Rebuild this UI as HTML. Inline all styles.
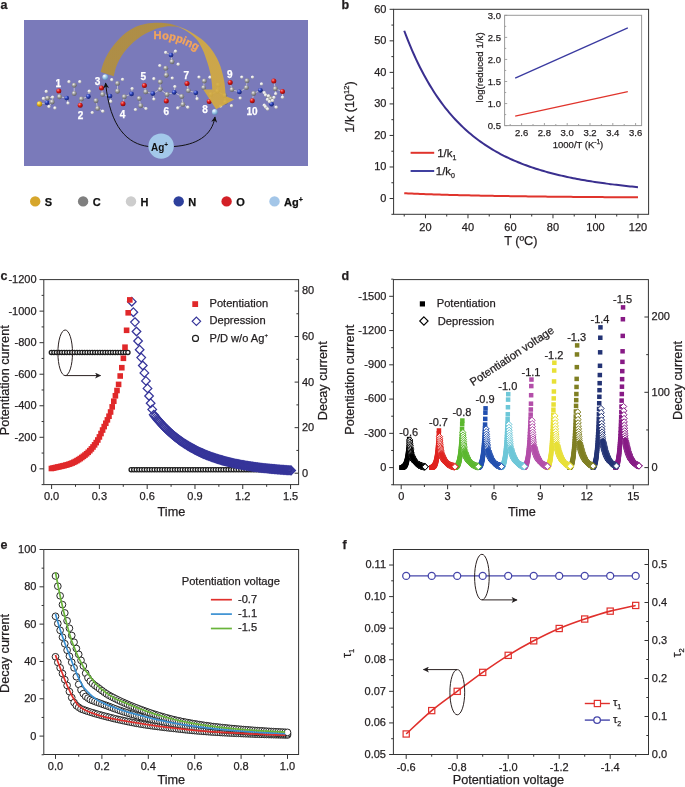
<!DOCTYPE html>
<html><head><meta charset="utf-8"><style>
html,body{margin:0;padding:0;background:#fff;}
svg{display:block;font-family:"Liberation Sans",sans-serif;will-change:transform;}
</style></head><body>
<svg width="685" height="787" viewBox="0 0 685 787">
<rect width="685" height="787" fill="#fff"/>
<text x="0.6" y="8.9" font-size="12.5" text-anchor="start" font-weight="bold" fill="#231f20" stroke="#231f20" stroke-width="0.25">a</text>
<text x="341.4" y="8.9" font-size="12.5" text-anchor="start" font-weight="bold" fill="#231f20" stroke="#231f20" stroke-width="0.25">b</text>
<text x="0.6" y="279.6" font-size="12.5" text-anchor="start" font-weight="bold" fill="#231f20" stroke="#231f20" stroke-width="0.25">c</text>
<text x="341.6" y="279.6" font-size="12.5" text-anchor="start" font-weight="bold" fill="#231f20" stroke="#231f20" stroke-width="0.25">d</text>
<text x="0.6" y="549.3" font-size="12.5" text-anchor="start" font-weight="bold" fill="#231f20" stroke="#231f20" stroke-width="0.25">e</text>
<text x="342.6" y="549.3" font-size="12.5" text-anchor="start" font-weight="bold" fill="#231f20" stroke="#231f20" stroke-width="0.25">f</text>
<defs><radialGradient id="gC" cx="38%" cy="32%" r="72%"><stop offset="0" stop-color="#f4f4f4"/><stop offset="0.4" stop-color="#a4a4a4"/><stop offset="1" stop-color="#5a5a5a"/></radialGradient><radialGradient id="gH" cx="35%" cy="30%" r="75%"><stop offset="0" stop-color="#ffffff"/><stop offset="0.5" stop-color="#e0e0e0"/><stop offset="1" stop-color="#9a9a9a"/></radialGradient><radialGradient id="gN" cx="35%" cy="30%" r="75%"><stop offset="0" stop-color="#8fa0ff"/><stop offset="0.45" stop-color="#2a3fb0"/><stop offset="1" stop-color="#14206a"/></radialGradient><radialGradient id="gO" cx="35%" cy="30%" r="75%"><stop offset="0" stop-color="#ff9090"/><stop offset="0.45" stop-color="#d81818"/><stop offset="1" stop-color="#800808"/></radialGradient><radialGradient id="gS" cx="35%" cy="30%" r="75%"><stop offset="0" stop-color="#fff2a0"/><stop offset="0.45" stop-color="#e8b820"/><stop offset="1" stop-color="#9a7008"/></radialGradient><radialGradient id="gA" cx="35%" cy="30%" r="75%"><stop offset="0" stop-color="#ffffff"/><stop offset="0.45" stop-color="#a8d0ee"/><stop offset="1" stop-color="#5a8ab8"/></radialGradient><linearGradient id="gArrow" x1="100" y1="0" x2="235" y2="0" gradientUnits="userSpaceOnUse"><stop offset="0" stop-color="#b4903a"/><stop offset="0.56" stop-color="#b4903a"/><stop offset="0.6" stop-color="#d5ab3e"/><stop offset="1" stop-color="#d5ab3e"/></linearGradient><marker id="ah" viewBox="0 0 10 10" refX="9" refY="5" markerWidth="6" markerHeight="6" orient="auto-start-reverse" markerUnits="userSpaceOnUse"><path d="M0 0L10 5L0 10L3 5Z" fill="#111"/></marker><marker id="ah2" viewBox="0 0 10 10" refX="9" refY="5" markerWidth="7" markerHeight="6" orient="auto" markerUnits="userSpaceOnUse"><path d="M0 0L10 5L0 10L2.5 5Z" fill="#231f20"/></marker></defs>
<rect x="24" y="20" width="284" height="146" fill="#7a7aba"/>
<line x1="39.5" y1="104" x2="47" y2="102.7" stroke="#c4c4cc" stroke-width="0.9"/>
<line x1="47" y1="102.7" x2="47.6" y2="98.1" stroke="#c4c4cc" stroke-width="0.9"/>
<line x1="47" y1="102.7" x2="52.2" y2="102" stroke="#c4c4cc" stroke-width="0.9"/>
<line x1="47" y1="102.7" x2="49" y2="106.6" stroke="#c4c4cc" stroke-width="0.9"/>
<line x1="47" y1="102.7" x2="43.5" y2="98.5" stroke="#c4c4cc" stroke-width="0.9"/>
<line x1="47.6" y1="98.1" x2="52.2" y2="102" stroke="#c4c4cc" stroke-width="0.9"/>
<line x1="47.6" y1="98.1" x2="52.6" y2="97.2" stroke="#c4c4cc" stroke-width="0.9"/>
<line x1="47.6" y1="98.1" x2="43.5" y2="98.5" stroke="#c4c4cc" stroke-width="0.9"/>
<line x1="52.2" y1="102" x2="52.6" y2="97.2" stroke="#c4c4cc" stroke-width="0.9"/>
<line x1="52.2" y1="102" x2="49" y2="106.6" stroke="#c4c4cc" stroke-width="0.9"/>
<line x1="59.5" y1="96.8" x2="58.8" y2="91.1" stroke="#c4c4cc" stroke-width="0.9"/>
<line x1="59.5" y1="96.8" x2="66.7" y2="98.1" stroke="#c4c4cc" stroke-width="0.9"/>
<line x1="66.7" y1="98.1" x2="68" y2="103.1" stroke="#c4c4cc" stroke-width="0.9"/>
<line x1="74.2" y1="93.5" x2="74.2" y2="85.2" stroke="#c4c4cc" stroke-width="0.9"/>
<line x1="81.4" y1="99" x2="80.2" y2="105.3" stroke="#c4c4cc" stroke-width="0.9"/>
<line x1="81.4" y1="99" x2="88.4" y2="96.5" stroke="#c4c4cc" stroke-width="0.9"/>
<line x1="88.4" y1="96.5" x2="89.3" y2="91.3" stroke="#c4c4cc" stroke-width="0.9"/>
<line x1="96" y1="100.7" x2="97.6" y2="108.4" stroke="#c4c4cc" stroke-width="0.9"/>
<line x1="97.6" y1="108.4" x2="102.8" y2="111.2" stroke="#c4c4cc" stroke-width="0.9"/>
<line x1="102.6" y1="94.4" x2="101.5" y2="88" stroke="#c4c4cc" stroke-width="0.9"/>
<line x1="102.6" y1="94.4" x2="110" y2="96.1" stroke="#c4c4cc" stroke-width="0.9"/>
<line x1="110" y1="96.1" x2="110.7" y2="101.4" stroke="#c4c4cc" stroke-width="0.9"/>
<line x1="117.5" y1="83.4" x2="117.5" y2="91.2" stroke="#c4c4cc" stroke-width="0.9"/>
<line x1="124.3" y1="96.8" x2="123" y2="103.7" stroke="#c4c4cc" stroke-width="0.9"/>
<line x1="124.3" y1="96.8" x2="131.5" y2="93.9" stroke="#c4c4cc" stroke-width="0.9"/>
<line x1="131.5" y1="93.9" x2="132.2" y2="88.6" stroke="#c4c4cc" stroke-width="0.9"/>
<line x1="139.2" y1="98.5" x2="140.7" y2="105.7" stroke="#c4c4cc" stroke-width="0.9"/>
<line x1="140.7" y1="105.7" x2="146" y2="108.6" stroke="#c4c4cc" stroke-width="0.9"/>
<line x1="145.7" y1="91.9" x2="144.4" y2="85.6" stroke="#c4c4cc" stroke-width="0.9"/>
<line x1="145.7" y1="91.9" x2="152.8" y2="93.6" stroke="#c4c4cc" stroke-width="0.9"/>
<line x1="152.8" y1="93.6" x2="153.9" y2="99.1" stroke="#c4c4cc" stroke-width="0.9"/>
<line x1="152.8" y1="93.6" x2="160.2" y2="89.3" stroke="#c4c4cc" stroke-width="0.9"/>
<line x1="160.2" y1="89.3" x2="160.2" y2="82" stroke="#c4c4cc" stroke-width="0.9"/>
<line x1="160.2" y1="89.3" x2="167" y2="94.5" stroke="#c4c4cc" stroke-width="0.9"/>
<line x1="166.3" y1="75.2" x2="165.7" y2="68.2" stroke="#c4c4cc" stroke-width="0.9"/>
<line x1="172" y1="61.7" x2="171" y2="55.1" stroke="#c4c4cc" stroke-width="0.9"/>
<line x1="171" y1="55.1" x2="165.7" y2="52.5" stroke="#c4c4cc" stroke-width="0.9"/>
<line x1="171" y1="55.1" x2="175.5" y2="51.2" stroke="#c4c4cc" stroke-width="0.9"/>
<line x1="167" y1="94.5" x2="166.3" y2="101.1" stroke="#c4c4cc" stroke-width="0.9"/>
<line x1="167" y1="94.5" x2="174.2" y2="92.3" stroke="#c4c4cc" stroke-width="0.9"/>
<line x1="174.2" y1="92.3" x2="174.9" y2="86.6" stroke="#c4c4cc" stroke-width="0.9"/>
<line x1="174.2" y1="92.3" x2="181.7" y2="96.5" stroke="#c4c4cc" stroke-width="0.9"/>
<line x1="181.7" y1="96.5" x2="182.8" y2="104.4" stroke="#c4c4cc" stroke-width="0.9"/>
<line x1="182.8" y1="104.4" x2="177.8" y2="108" stroke="#c4c4cc" stroke-width="0.9"/>
<line x1="182.8" y1="104.4" x2="187.8" y2="107.3" stroke="#c4c4cc" stroke-width="0.9"/>
<line x1="188.3" y1="90.6" x2="187" y2="83.6" stroke="#c4c4cc" stroke-width="0.9"/>
<line x1="188.3" y1="90.6" x2="195.8" y2="92.8" stroke="#c4c4cc" stroke-width="0.9"/>
<line x1="195.8" y1="92.8" x2="197.1" y2="98.8" stroke="#c4c4cc" stroke-width="0.9"/>
<line x1="203.6" y1="87.6" x2="204.3" y2="81" stroke="#c4c4cc" stroke-width="0.9"/>
<line x1="209.2" y1="101.4" x2="210.9" y2="94.4" stroke="#c4c4cc" stroke-width="0.9"/>
<line x1="210.9" y1="94.4" x2="217.4" y2="91.3" stroke="#c4c4cc" stroke-width="0.9"/>
<line x1="217.4" y1="91.3" x2="218.1" y2="85" stroke="#c4c4cc" stroke-width="0.9"/>
<line x1="217.4" y1="91.3" x2="224.7" y2="95.5" stroke="#c4c4cc" stroke-width="0.9"/>
<line x1="224.7" y1="95.5" x2="225.3" y2="102.3" stroke="#c4c4cc" stroke-width="0.9"/>
<line x1="225.3" y1="102.3" x2="220.7" y2="106.2" stroke="#c4c4cc" stroke-width="0.9"/>
<line x1="231.9" y1="89.6" x2="230.2" y2="82.6" stroke="#c4c4cc" stroke-width="0.9"/>
<line x1="231.9" y1="89.6" x2="239.4" y2="91.9" stroke="#c4c4cc" stroke-width="0.9"/>
<line x1="239.4" y1="91.9" x2="246.4" y2="87.6" stroke="#c4c4cc" stroke-width="0.9"/>
<line x1="246.4" y1="87.6" x2="247" y2="80.8" stroke="#c4c4cc" stroke-width="0.9"/>
<line x1="253.6" y1="93.5" x2="252.3" y2="100.7" stroke="#c4c4cc" stroke-width="0.9"/>
<line x1="253.6" y1="93.5" x2="260.4" y2="90.3" stroke="#c4c4cc" stroke-width="0.9"/>
<line x1="260.4" y1="90.3" x2="264.3" y2="92.8" stroke="#c4c4cc" stroke-width="0.9"/>
<line x1="264.3" y1="92.8" x2="268.8" y2="96.7" stroke="#c4c4cc" stroke-width="0.9"/>
<line x1="265.6" y1="95" x2="268.8" y2="96.7" stroke="#c4c4cc" stroke-width="0.9"/>
<line x1="268.8" y1="96.7" x2="270.8" y2="98.7" stroke="#c4c4cc" stroke-width="0.9"/>
<line x1="268.8" y1="96.7" x2="271.6" y2="104.2" stroke="#c4c4cc" stroke-width="0.9"/>
<line x1="268.8" y1="96.7" x2="267.5" y2="99.5" stroke="#c4c4cc" stroke-width="0.9"/>
<line x1="268.8" y1="96.7" x2="269.5" y2="101.5" stroke="#c4c4cc" stroke-width="0.9"/>
<line x1="268.8" y1="96.7" x2="272.5" y2="100.5" stroke="#c4c4cc" stroke-width="0.9"/>
<line x1="268.8" y1="96.7" x2="268.5" y2="96" stroke="#c4c4cc" stroke-width="0.9"/>
<line x1="268.8" y1="96.7" x2="274" y2="97.5" stroke="#c4c4cc" stroke-width="0.9"/>
<line x1="270.8" y1="98.7" x2="271.6" y2="104.2" stroke="#c4c4cc" stroke-width="0.9"/>
<line x1="270.8" y1="98.7" x2="267.5" y2="99.5" stroke="#c4c4cc" stroke-width="0.9"/>
<line x1="270.8" y1="98.7" x2="269.5" y2="101.5" stroke="#c4c4cc" stroke-width="0.9"/>
<line x1="270.8" y1="98.7" x2="272.5" y2="100.5" stroke="#c4c4cc" stroke-width="0.9"/>
<line x1="270.8" y1="98.7" x2="268.5" y2="96" stroke="#c4c4cc" stroke-width="0.9"/>
<line x1="270.8" y1="98.7" x2="274" y2="97.5" stroke="#c4c4cc" stroke-width="0.9"/>
<line x1="271.6" y1="104.2" x2="276.2" y2="107.2" stroke="#c4c4cc" stroke-width="0.9"/>
<line x1="271.6" y1="104.2" x2="269.5" y2="101.5" stroke="#c4c4cc" stroke-width="0.9"/>
<line x1="271.6" y1="104.2" x2="272.5" y2="100.5" stroke="#c4c4cc" stroke-width="0.9"/>
<line x1="275.3" y1="88.8" x2="273.8" y2="81.1" stroke="#c4c4cc" stroke-width="0.9"/>
<line x1="275.3" y1="88.8" x2="282.5" y2="91.6" stroke="#c4c4cc" stroke-width="0.9"/>
<line x1="275.3" y1="88.8" x2="275.7" y2="93.8" stroke="#c4c4cc" stroke-width="0.9"/>
<line x1="282.5" y1="91.6" x2="282.5" y2="97.2" stroke="#c4c4cc" stroke-width="0.9"/>
<circle cx="39.5" cy="104" r="2.7" fill="url(#gS)"/>
<circle cx="47" cy="102.7" r="2.4" fill="url(#gN)"/>
<circle cx="47.6" cy="98.1" r="2.45" fill="url(#gC)"/>
<circle cx="52.2" cy="102" r="2.45" fill="url(#gC)"/>
<circle cx="46.3" cy="91.5" r="1.7" fill="url(#gH)"/>
<circle cx="52.6" cy="97.2" r="1.7" fill="url(#gH)"/>
<circle cx="49" cy="106.6" r="1.7" fill="url(#gH)"/>
<circle cx="54.9" cy="108" r="1.7" fill="url(#gH)"/>
<circle cx="43.5" cy="98.5" r="1.7" fill="url(#gH)"/>
<circle cx="59.5" cy="96.8" r="2.45" fill="url(#gC)"/>
<circle cx="58.8" cy="91.1" r="2.5" fill="url(#gO)"/>
<circle cx="66.7" cy="98.1" r="2.4" fill="url(#gN)"/>
<circle cx="68" cy="103.1" r="1.7" fill="url(#gH)"/>
<circle cx="74.2" cy="93.5" r="2.45" fill="url(#gC)"/>
<circle cx="74.2" cy="85.2" r="2.45" fill="url(#gC)"/>
<circle cx="69" cy="81.7" r="1.7" fill="url(#gH)"/>
<circle cx="79.8" cy="81.7" r="1.7" fill="url(#gH)"/>
<circle cx="81.4" cy="99" r="2.45" fill="url(#gC)"/>
<circle cx="80.2" cy="105.3" r="2.5" fill="url(#gO)"/>
<circle cx="88.4" cy="96.5" r="2.4" fill="url(#gN)"/>
<circle cx="89.3" cy="91.3" r="1.7" fill="url(#gH)"/>
<circle cx="96" cy="100.7" r="2.45" fill="url(#gC)"/>
<circle cx="97.6" cy="108.4" r="2.45" fill="url(#gC)"/>
<circle cx="92.3" cy="112.6" r="1.7" fill="url(#gH)"/>
<circle cx="102.8" cy="111.2" r="1.7" fill="url(#gH)"/>
<circle cx="102.6" cy="94.4" r="2.45" fill="url(#gC)"/>
<circle cx="101.5" cy="88" r="2.5" fill="url(#gO)"/>
<circle cx="110" cy="96.1" r="2.4" fill="url(#gN)"/>
<circle cx="110.7" cy="101.4" r="1.7" fill="url(#gH)"/>
<circle cx="111.8" cy="79.7" r="1.7" fill="url(#gH)"/>
<circle cx="122.6" cy="79.4" r="1.7" fill="url(#gH)"/>
<circle cx="117.5" cy="83.4" r="2.45" fill="url(#gC)"/>
<circle cx="117.5" cy="91.2" r="2.45" fill="url(#gC)"/>
<circle cx="124.3" cy="96.8" r="2.45" fill="url(#gC)"/>
<circle cx="123" cy="103.7" r="2.5" fill="url(#gO)"/>
<circle cx="131.5" cy="93.9" r="2.4" fill="url(#gN)"/>
<circle cx="132.2" cy="88.6" r="1.7" fill="url(#gH)"/>
<circle cx="139.2" cy="98.5" r="2.45" fill="url(#gC)"/>
<circle cx="140.7" cy="105.7" r="2.45" fill="url(#gC)"/>
<circle cx="135.5" cy="109.6" r="1.7" fill="url(#gH)"/>
<circle cx="146" cy="108.6" r="1.7" fill="url(#gH)"/>
<circle cx="145.7" cy="91.9" r="2.45" fill="url(#gC)"/>
<circle cx="144.4" cy="85.6" r="2.5" fill="url(#gO)"/>
<circle cx="152.8" cy="93.6" r="2.4" fill="url(#gN)"/>
<circle cx="153.9" cy="99.1" r="1.7" fill="url(#gH)"/>
<circle cx="160.2" cy="89.3" r="2.45" fill="url(#gC)"/>
<circle cx="160.2" cy="82" r="2.45" fill="url(#gC)"/>
<circle cx="153.9" cy="78.8" r="1.7" fill="url(#gH)"/>
<circle cx="172.3" cy="78.1" r="1.7" fill="url(#gH)"/>
<circle cx="166.3" cy="75.2" r="2.45" fill="url(#gC)"/>
<circle cx="165.7" cy="68.2" r="2.45" fill="url(#gC)"/>
<circle cx="159.8" cy="65.6" r="1.7" fill="url(#gH)"/>
<circle cx="172" cy="61.7" r="2.45" fill="url(#gC)"/>
<circle cx="178.2" cy="64.3" r="1.7" fill="url(#gH)"/>
<circle cx="171" cy="55.1" r="2.4" fill="url(#gN)"/>
<circle cx="165.7" cy="52.5" r="1.7" fill="url(#gH)"/>
<circle cx="175.5" cy="51.2" r="1.7" fill="url(#gH)"/>
<circle cx="167" cy="94.5" r="2.45" fill="url(#gC)"/>
<circle cx="166.3" cy="101.1" r="2.5" fill="url(#gO)"/>
<circle cx="174.2" cy="92.3" r="2.4" fill="url(#gN)"/>
<circle cx="174.9" cy="86.6" r="1.7" fill="url(#gH)"/>
<circle cx="181.7" cy="96.5" r="2.45" fill="url(#gC)"/>
<circle cx="182.8" cy="104.4" r="2.45" fill="url(#gC)"/>
<circle cx="177.8" cy="108" r="1.7" fill="url(#gH)"/>
<circle cx="187.8" cy="107.3" r="1.7" fill="url(#gH)"/>
<circle cx="188.3" cy="90.6" r="2.45" fill="url(#gC)"/>
<circle cx="187" cy="83.6" r="2.5" fill="url(#gO)"/>
<circle cx="195.8" cy="92.8" r="2.4" fill="url(#gN)"/>
<circle cx="197.1" cy="98.8" r="1.7" fill="url(#gH)"/>
<circle cx="203.6" cy="87.6" r="2.45" fill="url(#gC)"/>
<circle cx="204.3" cy="81" r="2.45" fill="url(#gC)"/>
<circle cx="199" cy="77.1" r="1.7" fill="url(#gH)"/>
<circle cx="210" cy="77.3" r="1.7" fill="url(#gH)"/>
<circle cx="209.2" cy="101.4" r="2.5" fill="url(#gO)"/>
<circle cx="210.9" cy="94.4" r="2.45" fill="url(#gC)"/>
<circle cx="217.4" cy="91.3" r="2.45" fill="url(#gC)"/>
<circle cx="218.1" cy="85" r="2.45" fill="url(#gC)"/>
<circle cx="224.7" cy="95.5" r="2.45" fill="url(#gC)"/>
<circle cx="225.3" cy="102.3" r="2.45" fill="url(#gC)"/>
<circle cx="231.5" cy="105.7" r="1.7" fill="url(#gH)"/>
<circle cx="220.7" cy="106.2" r="1.7" fill="url(#gH)"/>
<circle cx="231.9" cy="89.6" r="2.45" fill="url(#gC)"/>
<circle cx="230.2" cy="82.6" r="2.5" fill="url(#gO)"/>
<circle cx="239.4" cy="91.9" r="2.4" fill="url(#gN)"/>
<circle cx="240.2" cy="98.1" r="1.7" fill="url(#gH)"/>
<circle cx="246.4" cy="87.6" r="2.45" fill="url(#gC)"/>
<circle cx="247" cy="80.8" r="2.45" fill="url(#gC)"/>
<circle cx="241.8" cy="77.1" r="1.7" fill="url(#gH)"/>
<circle cx="252.5" cy="77.1" r="1.7" fill="url(#gH)"/>
<circle cx="253.6" cy="93.5" r="2.45" fill="url(#gC)"/>
<circle cx="252.3" cy="100.7" r="2.5" fill="url(#gO)"/>
<circle cx="260.4" cy="90.3" r="2.4" fill="url(#gN)"/>
<circle cx="261.5" cy="83.9" r="1.7" fill="url(#gH)"/>
<circle cx="264.3" cy="92.8" r="1.7" fill="url(#gH)"/>
<circle cx="265.6" cy="95" r="1.7" fill="url(#gH)"/>
<circle cx="268.8" cy="96.7" r="2.45" fill="url(#gC)"/>
<circle cx="270.8" cy="98.7" r="2.45" fill="url(#gC)"/>
<circle cx="271.6" cy="104.2" r="2.4" fill="url(#gN)"/>
<circle cx="264.3" cy="105.2" r="1.7" fill="url(#gH)"/>
<circle cx="266.3" cy="107.7" r="1.7" fill="url(#gH)"/>
<circle cx="276.2" cy="107.2" r="1.7" fill="url(#gH)"/>
<circle cx="275.3" cy="88.8" r="2.45" fill="url(#gC)"/>
<circle cx="273.8" cy="81.1" r="2.5" fill="url(#gO)"/>
<circle cx="282.5" cy="91.6" r="2.5" fill="url(#gO)"/>
<circle cx="282.5" cy="97.2" r="1.7" fill="url(#gH)"/>
<circle cx="275.7" cy="93.8" r="1.7" fill="url(#gH)"/>
<circle cx="267.5" cy="99.5" r="1.7" fill="url(#gH)"/>
<circle cx="269.5" cy="101.5" r="1.7" fill="url(#gH)"/>
<circle cx="272.5" cy="100.5" r="1.7" fill="url(#gH)"/>
<circle cx="268.5" cy="96" r="1.7" fill="url(#gH)"/>
<circle cx="274" cy="97.5" r="1.7" fill="url(#gH)"/>
<circle cx="265.5" cy="106.8" r="1.7" fill="url(#gH)"/>
<circle cx="267.6" cy="109" r="1.7" fill="url(#gH)"/>
<circle cx="105.2" cy="77.1" r="2.9" fill="url(#gA)"/>
<circle cx="214.8" cy="111.9" r="2.9" fill="url(#gA)"/>
<path d="M100.7 71.9C101.22 70.25 102.57 65.1 103.8 62C105.03 58.9 106.5 56.07 108.1 53.3C109.7 50.53 111.5 47.88 113.4 45.4C115.3 42.92 117.32 40.58 119.5 38.4C121.68 36.22 124.02 34.13 126.5 32.3C128.98 30.47 131.62 28.72 134.4 27.4C137.18 26.08 139.77 25.17 143.2 24.4C146.63 23.63 151.57 23.03 155 22.8C158.43 22.57 160.88 22.72 163.8 23C166.72 23.28 168.87 23.47 172.5 24.5C176.13 25.53 181.95 27.58 185.6 29.2C189.25 30.82 191.47 32.3 194.4 34.2C197.33 36.1 200.35 38.05 203.2 40.6C206.05 43.15 209.2 46.55 211.5 49.5C213.8 52.45 215.5 55.47 217 58.3C218.5 61.13 219.53 63.75 220.5 66.5C221.47 69.25 222.13 72.05 222.8 74.8C223.47 77.55 224 79.43 224.5 83C225 86.57 225.58 94 225.8 96.2L234.2 99.4L216.1 109.3L203.3 89.4L212.3 89.6C212.22 88.5 212.08 85.47 211.8 83C211.52 80.53 211.13 77.55 210.6 74.8C210.07 72.05 209.38 69.25 208.6 66.5C207.82 63.75 206.83 60.97 205.9 58.3C204.97 55.63 204.4 53.47 203 50.5C201.6 47.53 199.67 43.32 197.5 40.5C195.33 37.68 192.7 35.63 190 33.6C187.3 31.57 183.8 29.47 181.3 28.3C178.8 27.13 177.22 26.95 175 26.6C172.78 26.25 170.33 26.03 168 26.2C165.67 26.37 163.17 27.08 161 27.6C158.83 28.12 157.68 28.23 155 29.3C152.32 30.37 147.9 32.33 144.9 34C141.9 35.67 139.48 37.4 137 39.3C134.52 41.2 132.18 43.22 130 45.4C127.82 47.58 125.65 50.07 123.9 52.4C122.15 54.73 120.82 56.92 119.5 59.4C118.18 61.88 116.95 64.48 116 67.3C115.05 70.12 114.17 74.8 113.8 76.3Z" fill="url(#gArrow)" opacity="0.9"/>
<path id="hopPath" d="M153.6 39.2 Q177 37.6 200.6 53.6" fill="none"/>
<text font-size="11.2" font-weight="bold" fill="#f3a45c" stroke="#f3a45c" stroke-width="0.3"><textPath href="#hopPath">Hopping</textPath></text>
<text x="58.4" y="86.6" font-size="10" text-anchor="middle" font-weight="bold" fill="#ffffff" stroke="#ffffff" stroke-width="0.25">1</text>
<text x="80.5" y="119.4" font-size="10" text-anchor="middle" font-weight="bold" fill="#ffffff" stroke="#ffffff" stroke-width="0.25">2</text>
<text x="97.6" y="84.6" font-size="10" text-anchor="middle" font-weight="bold" fill="#ffffff" stroke="#ffffff" stroke-width="0.25">3</text>
<text x="122.6" y="117.8" font-size="10" text-anchor="middle" font-weight="bold" fill="#ffffff" stroke="#ffffff" stroke-width="0.25">4</text>
<text x="143.4" y="80.4" font-size="10" text-anchor="middle" font-weight="bold" fill="#ffffff" stroke="#ffffff" stroke-width="0.25">5</text>
<text x="166.3" y="115.2" font-size="10" text-anchor="middle" font-weight="bold" fill="#ffffff" stroke="#ffffff" stroke-width="0.25">6</text>
<text x="186.3" y="79.1" font-size="10" text-anchor="middle" font-weight="bold" fill="#ffffff" stroke="#ffffff" stroke-width="0.25">7</text>
<text x="205" y="112.9" font-size="10" text-anchor="middle" font-weight="bold" fill="#ffffff" stroke="#ffffff" stroke-width="0.25">8</text>
<text x="229.7" y="78.1" font-size="10" text-anchor="middle" font-weight="bold" fill="#ffffff" stroke="#ffffff" stroke-width="0.25">9</text>
<text x="252" y="114.8" font-size="10" text-anchor="middle" font-weight="bold" fill="#ffffff" stroke="#ffffff" stroke-width="0.25">10</text>
<path d="M148.5 146.5 C128 144 110 128 105.6 83" fill="none" stroke="#111" stroke-width="1" marker-end="url(#ah)"/>
<path d="M174 146.5 C196 145 212 136 215 117" fill="none" stroke="#111" stroke-width="1" marker-end="url(#ah)"/>
<circle cx="161.1" cy="146.1" r="12.7" fill="#a3c8ea"/>
<text x="159.6" y="150.9" font-size="10" font-weight="bold" text-anchor="middle" fill="#111">Ag<tspan font-size="6.5" dy="-4">+</tspan></text>
<circle cx="35.2" cy="201.4" r="5.2" fill="#d6a62c"/>
<text x="44.8" y="205.5" font-size="11" text-anchor="start" font-weight="bold" fill="#111" stroke="#111" stroke-width="0.25">S</text>
<circle cx="83.1" cy="201.4" r="5.2" fill="#7f7f7f"/>
<text x="92.7" y="205.5" font-size="11" text-anchor="start" font-weight="bold" fill="#111" stroke="#111" stroke-width="0.25">C</text>
<circle cx="131" cy="201.4" r="5.2" fill="#cdcdcd"/>
<text x="140.6" y="205.5" font-size="11" text-anchor="start" font-weight="bold" fill="#111" stroke="#111" stroke-width="0.25">H</text>
<circle cx="178.7" cy="201.4" r="5.2" fill="#2e409c"/>
<text x="188.3" y="205.5" font-size="11" text-anchor="start" font-weight="bold" fill="#111" stroke="#111" stroke-width="0.25">N</text>
<circle cx="226.6" cy="201.4" r="5.2" fill="#d32027"/>
<text x="236.2" y="205.5" font-size="11" text-anchor="start" font-weight="bold" fill="#111" stroke="#111" stroke-width="0.25">O</text>
<circle cx="274.5" cy="201.4" r="5.2" fill="#a3c6e8"/>
<text x="284.1" y="205.5" font-size="11" text-anchor="start" font-weight="bold" fill="#111" stroke="#111" stroke-width="0.25">Ag<tspan font-size="7" dy="-4">+</tspan></text>
<polyline points="404.23,30.75 406.19,35.92 408.15,40.9 410.12,45.69 412.08,50.31 414.05,54.77 416.01,59.06 417.98,63.2 419.94,67.19 421.9,71.03 423.87,74.75 425.83,78.33 427.8,81.78 429.76,85.12 431.73,88.34 433.69,91.45 435.65,94.45 437.62,97.36 439.58,100.16 441.55,102.87 443.51,105.49 445.48,108.02 447.44,110.47 449.4,112.84 451.37,115.13 453.33,117.34 455.3,119.49 457.26,121.56 459.23,123.57 461.19,125.52 463.15,127.4 465.12,129.22 467.08,130.99 469.05,132.7 471.01,134.36 472.98,135.97 474.94,137.53 476.9,139.04 478.87,140.5 480.83,141.92 482.8,143.3 484.76,144.64 486.73,145.93 488.69,147.19 490.65,148.41 492.62,149.6 494.58,150.75 496.55,151.87 498.51,152.95 500.48,154.01 502.44,155.03 504.4,156.03 506.37,156.99 508.33,157.93 510.3,158.85 512.26,159.74 514.23,160.6 516.19,161.44 518.15,162.26 520.12,163.05 522.08,163.82 524.05,164.57 526.01,165.31 527.98,166.02 529.94,166.71 531.9,167.39 533.87,168.04 535.83,168.68 537.8,169.31 539.76,169.91 541.73,170.5 543.69,171.08 545.65,171.64 547.62,172.19 549.58,172.72 551.55,173.24 553.51,173.74 555.48,174.24 557.44,174.72 559.4,175.19 561.37,175.65 563.33,176.09 565.3,176.53 567.26,176.95 569.23,177.37 571.19,177.77 573.15,178.17 575.12,178.55 577.08,178.93 579.05,179.29 581.01,179.65 582.98,180 584.94,180.34 586.9,180.68 588.87,181 590.83,181.32 592.8,181.63 594.76,181.94 596.73,182.24 598.69,182.53 600.65,182.81 602.62,183.09 604.58,183.36 606.55,183.62 608.51,183.88 610.48,184.14 612.44,184.38 614.4,184.63 616.37,184.86 618.33,185.1 620.3,185.32 622.26,185.55 624.23,185.76 626.19,185.98 628.15,186.18 630.12,186.39 632.08,186.59 634.05,186.78 636.01,186.97 637.98,187.16" fill="none" stroke="#3a2f8f" stroke-width="2" stroke-linejoin="round" stroke-linecap="butt"/>
<polyline points="404.23,193.23 406.19,193.32 408.15,193.41 410.12,193.5 412.08,193.58 414.05,193.67 416.01,193.75 417.98,193.83 419.94,193.9 421.9,193.98 423.87,194.05 425.83,194.13 427.8,194.2 429.76,194.27 431.73,194.33 433.69,194.4 435.65,194.46 437.62,194.53 439.58,194.59 441.55,194.65 443.51,194.71 445.48,194.77 447.44,194.82 449.4,194.88 451.37,194.93 453.33,194.99 455.3,195.04 457.26,195.09 459.23,195.14 461.19,195.19 463.15,195.24 465.12,195.28 467.08,195.33 469.05,195.37 471.01,195.42 472.98,195.46 474.94,195.5 476.9,195.55 478.87,195.59 480.83,195.63 482.8,195.67 484.76,195.71 486.73,195.74 488.69,195.78 490.65,195.82 492.62,195.85 494.58,195.89 496.55,195.92 498.51,195.96 500.48,195.99 502.44,196.02 504.4,196.05 506.37,196.08 508.33,196.12 510.3,196.15 512.26,196.18 514.23,196.2 516.19,196.23 518.15,196.26 520.12,196.29 522.08,196.32 524.05,196.34 526.01,196.37 527.98,196.4 529.94,196.42 531.9,196.45 533.87,196.47 535.83,196.49 537.8,196.52 539.76,196.54 541.73,196.56 543.69,196.59 545.65,196.61 547.62,196.63 549.58,196.65 551.55,196.67 553.51,196.69 555.48,196.71 557.44,196.73 559.4,196.75 561.37,196.77 563.33,196.79 565.3,196.81 567.26,196.83 569.23,196.85 571.19,196.86 573.15,196.88 575.12,196.9 577.08,196.92 579.05,196.93 581.01,196.95 582.98,196.97 584.94,196.98 586.9,197 588.87,197.01 590.83,197.03 592.8,197.04 594.76,197.06 596.73,197.07 598.69,197.09 600.65,197.1 602.62,197.12 604.58,197.13 606.55,197.14 608.51,197.16 610.48,197.17 612.44,197.18 614.4,197.2 616.37,197.21 618.33,197.22 620.3,197.23 622.26,197.25 624.23,197.26 626.19,197.27 628.15,197.28 630.12,197.29 632.08,197.3 634.05,197.32 636.01,197.33 637.98,197.34" fill="none" stroke="#e0342c" stroke-width="2" stroke-linejoin="round" stroke-linecap="butt"/>
<rect x="393.6" y="9.3" width="255" height="205" fill="none" stroke="#333333" stroke-width="1"/>
<line x1="389.6" y1="198.53" x2="393.6" y2="198.53" stroke="#333333" stroke-width="1"/>
<text x="386.4" y="201.93" font-size="11" text-anchor="end" fill="#231f20" stroke="#231f20" stroke-width="0.25">0</text>
<line x1="389.6" y1="166.99" x2="393.6" y2="166.99" stroke="#333333" stroke-width="1"/>
<text x="386.4" y="170.39" font-size="11" text-anchor="end" fill="#231f20" stroke="#231f20" stroke-width="0.25">10</text>
<line x1="389.6" y1="135.45" x2="393.6" y2="135.45" stroke="#333333" stroke-width="1"/>
<text x="386.4" y="138.85" font-size="11" text-anchor="end" fill="#231f20" stroke="#231f20" stroke-width="0.25">20</text>
<line x1="389.6" y1="103.92" x2="393.6" y2="103.92" stroke="#333333" stroke-width="1"/>
<text x="386.4" y="107.32" font-size="11" text-anchor="end" fill="#231f20" stroke="#231f20" stroke-width="0.25">30</text>
<line x1="389.6" y1="72.38" x2="393.6" y2="72.38" stroke="#333333" stroke-width="1"/>
<text x="386.4" y="75.78" font-size="11" text-anchor="end" fill="#231f20" stroke="#231f20" stroke-width="0.25">40</text>
<line x1="389.6" y1="40.84" x2="393.6" y2="40.84" stroke="#333333" stroke-width="1"/>
<text x="386.4" y="44.24" font-size="11" text-anchor="end" fill="#231f20" stroke="#231f20" stroke-width="0.25">50</text>
<line x1="389.6" y1="9.3" x2="393.6" y2="9.3" stroke="#333333" stroke-width="1"/>
<text x="386.4" y="12.7" font-size="11" text-anchor="end" fill="#231f20" stroke="#231f20" stroke-width="0.25">60</text>
<line x1="391.4" y1="214.3" x2="393.6" y2="214.3" stroke="#333333" stroke-width="1"/>
<line x1="391.4" y1="182.76" x2="393.6" y2="182.76" stroke="#333333" stroke-width="1"/>
<line x1="391.4" y1="151.22" x2="393.6" y2="151.22" stroke="#333333" stroke-width="1"/>
<line x1="391.4" y1="119.68" x2="393.6" y2="119.68" stroke="#333333" stroke-width="1"/>
<line x1="391.4" y1="88.15" x2="393.6" y2="88.15" stroke="#333333" stroke-width="1"/>
<line x1="391.4" y1="56.61" x2="393.6" y2="56.61" stroke="#333333" stroke-width="1"/>
<line x1="391.4" y1="25.07" x2="393.6" y2="25.07" stroke="#333333" stroke-width="1"/>
<line x1="425.48" y1="214.3" x2="425.48" y2="218.3" stroke="#333333" stroke-width="1"/>
<text x="425.48" y="231.2" font-size="11" text-anchor="middle" fill="#231f20" stroke="#231f20" stroke-width="0.25">20</text>
<line x1="467.98" y1="214.3" x2="467.98" y2="218.3" stroke="#333333" stroke-width="1"/>
<text x="467.98" y="231.2" font-size="11" text-anchor="middle" fill="#231f20" stroke="#231f20" stroke-width="0.25">40</text>
<line x1="510.48" y1="214.3" x2="510.48" y2="218.3" stroke="#333333" stroke-width="1"/>
<text x="510.48" y="231.2" font-size="11" text-anchor="middle" fill="#231f20" stroke="#231f20" stroke-width="0.25">60</text>
<line x1="552.98" y1="214.3" x2="552.98" y2="218.3" stroke="#333333" stroke-width="1"/>
<text x="552.98" y="231.2" font-size="11" text-anchor="middle" fill="#231f20" stroke="#231f20" stroke-width="0.25">80</text>
<line x1="595.48" y1="214.3" x2="595.48" y2="218.3" stroke="#333333" stroke-width="1"/>
<text x="595.48" y="231.2" font-size="11" text-anchor="middle" fill="#231f20" stroke="#231f20" stroke-width="0.25">100</text>
<line x1="637.98" y1="214.3" x2="637.98" y2="218.3" stroke="#333333" stroke-width="1"/>
<text x="637.98" y="231.2" font-size="11" text-anchor="middle" fill="#231f20" stroke="#231f20" stroke-width="0.25">120</text>
<line x1="404.23" y1="214.3" x2="404.23" y2="216.5" stroke="#333333" stroke-width="1"/>
<line x1="446.73" y1="214.3" x2="446.73" y2="216.5" stroke="#333333" stroke-width="1"/>
<line x1="489.23" y1="214.3" x2="489.23" y2="216.5" stroke="#333333" stroke-width="1"/>
<line x1="531.73" y1="214.3" x2="531.73" y2="216.5" stroke="#333333" stroke-width="1"/>
<line x1="574.23" y1="214.3" x2="574.23" y2="216.5" stroke="#333333" stroke-width="1"/>
<line x1="616.73" y1="214.3" x2="616.73" y2="216.5" stroke="#333333" stroke-width="1"/>
<text transform="translate(353.6,107) rotate(-90)" x="0" y="0" font-size="12.7" text-anchor="middle" fill="#231f20" stroke="#231f20" stroke-width="0.25">1/k (10<tspan font-size="7.5" dy="-4.5">12</tspan><tspan dy="4.5">)</tspan></text>
<text x="520.8" y="245.3" font-size="12.7" text-anchor="middle" fill="#231f20" stroke="#231f20" stroke-width="0.25">T (ºC)</text>
<line x1="410.6" y1="152.8" x2="434.2" y2="152.8" stroke="#e0342c" stroke-width="2"/>
<line x1="410.6" y1="171" x2="434.2" y2="171" stroke="#4040a0" stroke-width="2"/>
<text x="437.2" y="156.7" font-size="11.4" text-anchor="start" fill="#231f20" stroke="#231f20" stroke-width="0.25">1/k<tspan font-size="7" dy="3.2">1</tspan></text>
<text x="435.8" y="174.8" font-size="11.4" text-anchor="start" fill="#231f20" stroke="#231f20" stroke-width="0.25">1/k<tspan font-size="7" dy="3.2">0</tspan></text>
<rect x="504.6" y="15.3" width="137" height="110.3" fill="#fff" stroke="#9a9a9a" stroke-width="1"/>
<line x1="515.17" y1="78.19" x2="627.81" y2="27.87" stroke="#3a3aa0" stroke-width="1.3"/>
<line x1="515.17" y1="116.07" x2="627.81" y2="91.73" stroke="#e0342c" stroke-width="1.3"/>
<line x1="510.2" y1="125.6" x2="510.2" y2="124" stroke="#9a9a9a" stroke-width="0.9"/>
<line x1="521.6" y1="125.6" x2="521.6" y2="123" stroke="#9a9a9a" stroke-width="0.9"/>
<text x="521.6" y="135.9" font-size="9.5" text-anchor="middle" fill="#231f20" stroke="#231f20" stroke-width="0.25">2.6</text>
<line x1="533" y1="125.6" x2="533" y2="124" stroke="#9a9a9a" stroke-width="0.9"/>
<line x1="544.4" y1="125.6" x2="544.4" y2="123" stroke="#9a9a9a" stroke-width="0.9"/>
<text x="544.4" y="135.9" font-size="9.5" text-anchor="middle" fill="#231f20" stroke="#231f20" stroke-width="0.25">2.8</text>
<line x1="555.8" y1="125.6" x2="555.8" y2="124" stroke="#9a9a9a" stroke-width="0.9"/>
<line x1="567.2" y1="125.6" x2="567.2" y2="123" stroke="#9a9a9a" stroke-width="0.9"/>
<text x="567.2" y="135.9" font-size="9.5" text-anchor="middle" fill="#231f20" stroke="#231f20" stroke-width="0.25">3.0</text>
<line x1="578.6" y1="125.6" x2="578.6" y2="124" stroke="#9a9a9a" stroke-width="0.9"/>
<line x1="590" y1="125.6" x2="590" y2="123" stroke="#9a9a9a" stroke-width="0.9"/>
<text x="590" y="135.9" font-size="9.5" text-anchor="middle" fill="#231f20" stroke="#231f20" stroke-width="0.25">3.2</text>
<line x1="601.4" y1="125.6" x2="601.4" y2="124" stroke="#9a9a9a" stroke-width="0.9"/>
<line x1="612.8" y1="125.6" x2="612.8" y2="123" stroke="#9a9a9a" stroke-width="0.9"/>
<text x="612.8" y="135.9" font-size="9.5" text-anchor="middle" fill="#231f20" stroke="#231f20" stroke-width="0.25">3.4</text>
<line x1="624.2" y1="125.6" x2="624.2" y2="124" stroke="#9a9a9a" stroke-width="0.9"/>
<line x1="635.6" y1="125.6" x2="635.6" y2="123" stroke="#9a9a9a" stroke-width="0.9"/>
<text x="635.6" y="135.9" font-size="9.5" text-anchor="middle" fill="#231f20" stroke="#231f20" stroke-width="0.25">3.6</text>
<line x1="504.6" y1="125.6" x2="507.2" y2="125.6" stroke="#9a9a9a" stroke-width="0.9"/>
<text x="501" y="129" font-size="9.5" text-anchor="end" fill="#231f20" stroke="#231f20" stroke-width="0.25">0.5</text>
<line x1="504.6" y1="114.57" x2="506.2" y2="114.57" stroke="#9a9a9a" stroke-width="0.9"/>
<line x1="504.6" y1="103.55" x2="507.2" y2="103.55" stroke="#9a9a9a" stroke-width="0.9"/>
<text x="501" y="106.95" font-size="9.5" text-anchor="end" fill="#231f20" stroke="#231f20" stroke-width="0.25">1.0</text>
<line x1="504.6" y1="92.52" x2="506.2" y2="92.52" stroke="#9a9a9a" stroke-width="0.9"/>
<line x1="504.6" y1="81.5" x2="507.2" y2="81.5" stroke="#9a9a9a" stroke-width="0.9"/>
<text x="501" y="84.9" font-size="9.5" text-anchor="end" fill="#231f20" stroke="#231f20" stroke-width="0.25">1.5</text>
<line x1="504.6" y1="70.47" x2="506.2" y2="70.47" stroke="#9a9a9a" stroke-width="0.9"/>
<line x1="504.6" y1="59.45" x2="507.2" y2="59.45" stroke="#9a9a9a" stroke-width="0.9"/>
<text x="501" y="62.85" font-size="9.5" text-anchor="end" fill="#231f20" stroke="#231f20" stroke-width="0.25">2.0</text>
<line x1="504.6" y1="48.42" x2="506.2" y2="48.42" stroke="#9a9a9a" stroke-width="0.9"/>
<line x1="504.6" y1="37.4" x2="507.2" y2="37.4" stroke="#9a9a9a" stroke-width="0.9"/>
<text x="501" y="40.8" font-size="9.5" text-anchor="end" fill="#231f20" stroke="#231f20" stroke-width="0.25">2.5</text>
<line x1="504.6" y1="26.37" x2="506.2" y2="26.37" stroke="#9a9a9a" stroke-width="0.9"/>
<line x1="504.6" y1="15.35" x2="507.2" y2="15.35" stroke="#9a9a9a" stroke-width="0.9"/>
<text x="501" y="18.75" font-size="9.5" text-anchor="end" fill="#231f20" stroke="#231f20" stroke-width="0.25">3.0</text>
<text x="578" y="147.6" font-size="9.5" text-anchor="middle" fill="#231f20" stroke="#231f20" stroke-width="0.25">1000/T (K<tspan font-size="6.5" dy="-3.5">-1</tspan><tspan dy="3.5">)</tspan></text>
<text transform="translate(483.1,67.4) rotate(-90)" font-size="9.7" text-anchor="middle" fill="#231f20" stroke="#231f20" stroke-width="0.25">log(reduced 1/k)</text>
<g fill="#fff" stroke="#1e1e1e" stroke-width="1.35">
<circle cx="51.4" cy="352.4" r="2.1"/>
<circle cx="53.95" cy="352.4" r="2.1"/>
<circle cx="56.5" cy="352.4" r="2.1"/>
<circle cx="59.05" cy="352.4" r="2.1"/>
<circle cx="61.6" cy="352.4" r="2.1"/>
<circle cx="64.15" cy="352.4" r="2.1"/>
<circle cx="66.7" cy="352.4" r="2.1"/>
<circle cx="69.25" cy="352.4" r="2.1"/>
<circle cx="71.8" cy="352.4" r="2.1"/>
<circle cx="74.35" cy="352.4" r="2.1"/>
<circle cx="76.9" cy="352.4" r="2.1"/>
<circle cx="79.45" cy="352.4" r="2.1"/>
<circle cx="82" cy="352.4" r="2.1"/>
<circle cx="84.55" cy="352.4" r="2.1"/>
<circle cx="87.1" cy="352.4" r="2.1"/>
<circle cx="89.65" cy="352.4" r="2.1"/>
<circle cx="92.2" cy="352.4" r="2.1"/>
<circle cx="94.75" cy="352.4" r="2.1"/>
<circle cx="97.3" cy="352.4" r="2.1"/>
<circle cx="99.85" cy="352.4" r="2.1"/>
<circle cx="102.4" cy="352.4" r="2.1"/>
<circle cx="104.95" cy="352.4" r="2.1"/>
<circle cx="107.5" cy="352.4" r="2.1"/>
<circle cx="110.05" cy="352.4" r="2.1"/>
<circle cx="112.6" cy="352.4" r="2.1"/>
<circle cx="115.15" cy="352.4" r="2.1"/>
<circle cx="117.7" cy="352.4" r="2.1"/>
<circle cx="120.25" cy="352.4" r="2.1"/>
<circle cx="122.8" cy="352.4" r="2.1"/>
<circle cx="125.35" cy="352.4" r="2.1"/>
<circle cx="127.9" cy="352.4" r="2.1"/>
<circle cx="131.2" cy="469.8" r="2.1"/>
<circle cx="133.75" cy="469.8" r="2.1"/>
<circle cx="136.3" cy="469.8" r="2.1"/>
<circle cx="138.85" cy="469.8" r="2.1"/>
<circle cx="141.4" cy="469.8" r="2.1"/>
<circle cx="143.95" cy="469.8" r="2.1"/>
<circle cx="146.5" cy="469.8" r="2.1"/>
<circle cx="149.05" cy="469.8" r="2.1"/>
<circle cx="151.6" cy="469.8" r="2.1"/>
<circle cx="154.15" cy="469.8" r="2.1"/>
<circle cx="156.7" cy="469.8" r="2.1"/>
<circle cx="159.25" cy="469.8" r="2.1"/>
<circle cx="161.8" cy="469.8" r="2.1"/>
<circle cx="164.35" cy="469.8" r="2.1"/>
<circle cx="166.9" cy="469.8" r="2.1"/>
<circle cx="169.45" cy="469.8" r="2.1"/>
<circle cx="172" cy="469.8" r="2.1"/>
<circle cx="174.55" cy="469.8" r="2.1"/>
<circle cx="177.1" cy="469.8" r="2.1"/>
<circle cx="179.65" cy="469.8" r="2.1"/>
<circle cx="182.2" cy="469.8" r="2.1"/>
<circle cx="184.75" cy="469.8" r="2.1"/>
<circle cx="187.3" cy="469.8" r="2.1"/>
<circle cx="189.85" cy="469.8" r="2.1"/>
<circle cx="192.4" cy="469.8" r="2.1"/>
<circle cx="194.95" cy="469.8" r="2.1"/>
<circle cx="197.5" cy="469.8" r="2.1"/>
<circle cx="200.05" cy="469.8" r="2.1"/>
<circle cx="202.6" cy="469.8" r="2.1"/>
<circle cx="205.15" cy="469.8" r="2.1"/>
<circle cx="207.7" cy="469.8" r="2.1"/>
<circle cx="210.25" cy="469.8" r="2.1"/>
<circle cx="212.8" cy="469.8" r="2.1"/>
<circle cx="215.35" cy="469.8" r="2.1"/>
<circle cx="217.9" cy="469.8" r="2.1"/>
<circle cx="220.45" cy="469.8" r="2.1"/>
<circle cx="223" cy="469.8" r="2.1"/>
<circle cx="225.55" cy="469.8" r="2.1"/>
<circle cx="228.1" cy="469.8" r="2.1"/>
<circle cx="230.65" cy="469.8" r="2.1"/>
<circle cx="233.2" cy="469.8" r="2.1"/>
<circle cx="235.75" cy="469.8" r="2.1"/>
<circle cx="238.3" cy="469.8" r="2.1"/>
<circle cx="240.85" cy="469.8" r="2.1"/>
<circle cx="243.4" cy="469.8" r="2.1"/>
<circle cx="245.95" cy="469.8" r="2.1"/>
<circle cx="248.5" cy="469.8" r="2.1"/>
<circle cx="251.05" cy="469.8" r="2.1"/>
<circle cx="253.6" cy="469.8" r="2.1"/>
<circle cx="256.15" cy="469.8" r="2.1"/>
<circle cx="258.7" cy="469.8" r="2.1"/>
<circle cx="261.25" cy="469.8" r="2.1"/>
<circle cx="263.8" cy="469.8" r="2.1"/>
<circle cx="266.35" cy="469.8" r="2.1"/>
<circle cx="268.9" cy="469.8" r="2.1"/>
<circle cx="271.45" cy="469.8" r="2.1"/>
<circle cx="274" cy="469.8" r="2.1"/>
<circle cx="276.55" cy="469.8" r="2.1"/>
<circle cx="279.1" cy="469.8" r="2.1"/>
<circle cx="281.65" cy="469.8" r="2.1"/>
<circle cx="284.2" cy="469.8" r="2.1"/>
<circle cx="286.75" cy="469.8" r="2.1"/>
<circle cx="289.3" cy="469.8" r="2.1"/>
</g>
<defs><path id="dm43" d="M0 -4.3L4.3 0L0 4.3L-4.3 0Z"/><path id="dm44" d="M0 -4.4L4.4 0L0 4.4L-4.4 0Z"/></defs>
<g fill="none" stroke="#36359a" stroke-width="1.25">
<use href="#dm43" x="131.8" y="301.7"/>
<use href="#dm43" x="133.37" y="312.2"/>
<use href="#dm43" x="134.94" y="322.1"/>
<use href="#dm43" x="136.51" y="331.5"/>
<use href="#dm43" x="138.08" y="341"/>
<use href="#dm43" x="139.65" y="349.7"/>
<use href="#dm43" x="141.22" y="357.6"/>
<use href="#dm43" x="142.79" y="365.5"/>
<use href="#dm43" x="144.36" y="372.9"/>
<use href="#dm43" x="145.93" y="380.9"/>
<use href="#dm43" x="147.5" y="388.4"/>
<use href="#dm43" x="149.07" y="396"/>
<use href="#dm43" x="150.64" y="403.2"/>
<use href="#dm43" x="152.21" y="409.4"/>
<use href="#dm44" x="153.78" y="414.86"/>
<use href="#dm44" x="154.82" y="416.18"/>
<use href="#dm44" x="155.86" y="417.48"/>
<use href="#dm44" x="156.9" y="418.75"/>
<use href="#dm44" x="157.94" y="419.98"/>
<use href="#dm44" x="158.98" y="421.19"/>
<use href="#dm44" x="160.02" y="422.37"/>
<use href="#dm44" x="161.06" y="423.53"/>
<use href="#dm44" x="162.1" y="424.66"/>
<use href="#dm44" x="163.14" y="425.76"/>
<use href="#dm44" x="164.18" y="426.84"/>
<use href="#dm44" x="165.22" y="427.89"/>
<use href="#dm44" x="166.26" y="428.92"/>
<use href="#dm44" x="167.3" y="429.93"/>
<use href="#dm44" x="168.34" y="430.91"/>
<use href="#dm44" x="169.38" y="431.87"/>
<use href="#dm44" x="170.42" y="432.81"/>
<use href="#dm44" x="171.46" y="433.73"/>
<use href="#dm44" x="172.5" y="434.63"/>
<use href="#dm44" x="173.54" y="435.5"/>
<use href="#dm44" x="174.58" y="436.36"/>
<use href="#dm44" x="175.62" y="437.2"/>
<use href="#dm44" x="176.66" y="438.02"/>
<use href="#dm44" x="177.7" y="438.82"/>
<use href="#dm44" x="178.74" y="439.6"/>
<use href="#dm44" x="179.78" y="440.36"/>
<use href="#dm44" x="180.82" y="441.11"/>
<use href="#dm44" x="181.86" y="441.84"/>
<use href="#dm44" x="182.9" y="442.55"/>
<use href="#dm44" x="183.94" y="443.25"/>
<use href="#dm44" x="184.98" y="443.93"/>
<use href="#dm44" x="186.02" y="444.59"/>
<use href="#dm44" x="187.06" y="445.24"/>
<use href="#dm44" x="188.1" y="445.88"/>
<use href="#dm44" x="189.14" y="446.5"/>
<use href="#dm44" x="190.18" y="447.1"/>
<use href="#dm44" x="191.22" y="447.7"/>
<use href="#dm44" x="192.26" y="448.28"/>
<use href="#dm44" x="193.3" y="448.84"/>
<use href="#dm44" x="194.34" y="449.4"/>
<use href="#dm44" x="195.38" y="449.94"/>
<use href="#dm44" x="196.42" y="450.47"/>
<use href="#dm44" x="197.46" y="450.98"/>
<use href="#dm44" x="198.5" y="451.49"/>
<use href="#dm44" x="199.54" y="451.98"/>
<use href="#dm44" x="200.58" y="452.46"/>
<use href="#dm44" x="201.62" y="452.94"/>
<use href="#dm44" x="202.66" y="453.4"/>
<use href="#dm44" x="203.7" y="453.85"/>
<use href="#dm44" x="204.74" y="454.29"/>
<use href="#dm44" x="205.78" y="454.72"/>
<use href="#dm44" x="206.82" y="455.14"/>
<use href="#dm44" x="207.86" y="455.55"/>
<use href="#dm44" x="208.9" y="455.95"/>
<use href="#dm44" x="209.94" y="456.34"/>
<use href="#dm44" x="210.98" y="456.72"/>
<use href="#dm44" x="212.02" y="457.1"/>
<use href="#dm44" x="213.06" y="457.46"/>
<use href="#dm44" x="214.1" y="457.82"/>
<use href="#dm44" x="215.14" y="458.17"/>
<use href="#dm44" x="216.18" y="458.51"/>
<use href="#dm44" x="217.22" y="458.85"/>
<use href="#dm44" x="218.26" y="459.17"/>
<use href="#dm44" x="219.3" y="459.49"/>
<use href="#dm44" x="220.34" y="459.8"/>
<use href="#dm44" x="221.38" y="460.11"/>
<use href="#dm44" x="222.42" y="460.4"/>
<use href="#dm44" x="223.46" y="460.69"/>
<use href="#dm44" x="224.5" y="460.98"/>
<use href="#dm44" x="225.54" y="461.26"/>
<use href="#dm44" x="226.58" y="461.53"/>
<use href="#dm44" x="227.62" y="461.79"/>
<use href="#dm44" x="228.66" y="462.05"/>
<use href="#dm44" x="229.7" y="462.31"/>
<use href="#dm44" x="230.74" y="462.55"/>
<use href="#dm44" x="231.78" y="462.8"/>
<use href="#dm44" x="232.82" y="463.03"/>
<use href="#dm44" x="233.86" y="463.26"/>
<use href="#dm44" x="234.9" y="463.49"/>
<use href="#dm44" x="235.94" y="463.71"/>
<use href="#dm44" x="236.98" y="463.93"/>
<use href="#dm44" x="238.02" y="464.14"/>
<use href="#dm44" x="239.06" y="464.34"/>
<use href="#dm44" x="240.1" y="464.54"/>
<use href="#dm44" x="241.14" y="464.74"/>
<use href="#dm44" x="242.18" y="464.93"/>
<use href="#dm44" x="243.22" y="465.12"/>
<use href="#dm44" x="244.26" y="465.3"/>
<use href="#dm44" x="245.3" y="465.48"/>
<use href="#dm44" x="246.34" y="465.66"/>
<use href="#dm44" x="247.38" y="465.83"/>
<use href="#dm44" x="248.42" y="466"/>
<use href="#dm44" x="249.46" y="466.16"/>
<use href="#dm44" x="250.5" y="466.32"/>
<use href="#dm44" x="251.54" y="466.48"/>
<use href="#dm44" x="252.58" y="466.63"/>
<use href="#dm44" x="253.62" y="466.78"/>
<use href="#dm44" x="254.66" y="466.93"/>
<use href="#dm44" x="255.7" y="467.07"/>
<use href="#dm44" x="256.74" y="467.21"/>
<use href="#dm44" x="257.78" y="467.34"/>
<use href="#dm44" x="258.82" y="467.48"/>
<use href="#dm44" x="259.86" y="467.61"/>
<use href="#dm44" x="260.9" y="467.73"/>
<use href="#dm44" x="261.94" y="467.86"/>
<use href="#dm44" x="262.98" y="467.98"/>
<use href="#dm44" x="264.02" y="468.1"/>
<use href="#dm44" x="265.06" y="468.21"/>
<use href="#dm44" x="266.1" y="468.33"/>
<use href="#dm44" x="267.14" y="468.44"/>
<use href="#dm44" x="268.18" y="468.55"/>
<use href="#dm44" x="269.22" y="468.65"/>
<use href="#dm44" x="270.26" y="468.76"/>
<use href="#dm44" x="271.3" y="468.86"/>
<use href="#dm44" x="272.34" y="468.96"/>
<use href="#dm44" x="273.38" y="469.05"/>
<use href="#dm44" x="274.42" y="469.15"/>
<use href="#dm44" x="275.46" y="469.24"/>
<use href="#dm44" x="276.5" y="469.33"/>
<use href="#dm44" x="277.54" y="469.42"/>
<use href="#dm44" x="278.58" y="469.5"/>
<use href="#dm44" x="279.62" y="469.59"/>
<use href="#dm44" x="280.66" y="469.67"/>
<use href="#dm44" x="281.7" y="469.75"/>
<use href="#dm44" x="282.74" y="469.83"/>
<use href="#dm44" x="283.78" y="469.9"/>
<use href="#dm44" x="284.82" y="469.98"/>
<use href="#dm44" x="285.86" y="470.05"/>
<use href="#dm44" x="286.9" y="470.12"/>
<use href="#dm44" x="287.94" y="470.19"/>
<use href="#dm44" x="288.98" y="470.26"/>
<use href="#dm44" x="290.02" y="470.33"/>
<use href="#dm44" x="291.06" y="470.39"/>
</g>
<rect x="48.6" y="465.7" width="5.6" height="5.6" fill="#e0282a" stroke="none" stroke-width="0"/>
<rect x="50.2" y="465.31" width="5.6" height="5.6" fill="#e0282a" stroke="none" stroke-width="0"/>
<rect x="51.8" y="464.94" width="5.6" height="5.6" fill="#e0282a" stroke="none" stroke-width="0"/>
<rect x="53.4" y="464.59" width="5.6" height="5.6" fill="#e0282a" stroke="none" stroke-width="0"/>
<rect x="55" y="464.25" width="5.6" height="5.6" fill="#e0282a" stroke="none" stroke-width="0"/>
<rect x="56.6" y="463.9" width="5.6" height="5.6" fill="#e0282a" stroke="none" stroke-width="0"/>
<rect x="58.2" y="463.55" width="5.6" height="5.6" fill="#e0282a" stroke="none" stroke-width="0"/>
<rect x="59.8" y="463.18" width="5.6" height="5.6" fill="#e0282a" stroke="none" stroke-width="0"/>
<rect x="61.4" y="462.79" width="5.6" height="5.6" fill="#e0282a" stroke="none" stroke-width="0"/>
<rect x="63" y="462.37" width="5.6" height="5.6" fill="#e0282a" stroke="none" stroke-width="0"/>
<rect x="64.6" y="461.92" width="5.6" height="5.6" fill="#e0282a" stroke="none" stroke-width="0"/>
<rect x="66.2" y="461.42" width="5.6" height="5.6" fill="#e0282a" stroke="none" stroke-width="0"/>
<rect x="67.8" y="460.86" width="5.6" height="5.6" fill="#e0282a" stroke="none" stroke-width="0"/>
<rect x="69.4" y="460.23" width="5.6" height="5.6" fill="#e0282a" stroke="none" stroke-width="0"/>
<rect x="71" y="459.51" width="5.6" height="5.6" fill="#e0282a" stroke="none" stroke-width="0"/>
<rect x="72.6" y="458.7" width="5.6" height="5.6" fill="#e0282a" stroke="none" stroke-width="0"/>
<rect x="74.2" y="457.8" width="5.6" height="5.6" fill="#e0282a" stroke="none" stroke-width="0"/>
<rect x="75.8" y="456.83" width="5.6" height="5.6" fill="#e0282a" stroke="none" stroke-width="0"/>
<rect x="77.4" y="455.79" width="5.6" height="5.6" fill="#e0282a" stroke="none" stroke-width="0"/>
<rect x="79" y="454.67" width="5.6" height="5.6" fill="#e0282a" stroke="none" stroke-width="0"/>
<rect x="80.6" y="453.5" width="5.6" height="5.6" fill="#e0282a" stroke="none" stroke-width="0"/>
<rect x="82.2" y="452.26" width="5.6" height="5.6" fill="#e0282a" stroke="none" stroke-width="0"/>
<rect x="83.8" y="450.95" width="5.6" height="5.6" fill="#e0282a" stroke="none" stroke-width="0"/>
<rect x="85.4" y="449.49" width="5.6" height="5.6" fill="#e0282a" stroke="none" stroke-width="0"/>
<rect x="87" y="447.88" width="5.6" height="5.6" fill="#e0282a" stroke="none" stroke-width="0"/>
<rect x="88.6" y="446.1" width="5.6" height="5.6" fill="#e0282a" stroke="none" stroke-width="0"/>
<rect x="90.2" y="444.16" width="5.6" height="5.6" fill="#e0282a" stroke="none" stroke-width="0"/>
<rect x="91.8" y="442.06" width="5.6" height="5.6" fill="#e0282a" stroke="none" stroke-width="0"/>
<rect x="93.4" y="439.79" width="5.6" height="5.6" fill="#e0282a" stroke="none" stroke-width="0"/>
<rect x="95" y="437.2" width="5.6" height="5.6" fill="#e0282a" stroke="none" stroke-width="0"/>
<rect x="96.6" y="434.12" width="5.6" height="5.6" fill="#e0282a" stroke="none" stroke-width="0"/>
<rect x="98.2" y="430.74" width="5.6" height="5.6" fill="#e0282a" stroke="none" stroke-width="0"/>
<rect x="99.8" y="427.23" width="5.6" height="5.6" fill="#e0282a" stroke="none" stroke-width="0"/>
<rect x="101.4" y="423.78" width="5.6" height="5.6" fill="#e0282a" stroke="none" stroke-width="0"/>
<rect x="103" y="420.46" width="5.6" height="5.6" fill="#e0282a" stroke="none" stroke-width="0"/>
<rect x="104.6" y="417.08" width="5.6" height="5.6" fill="#e0282a" stroke="none" stroke-width="0"/>
<rect x="106.2" y="413.41" width="5.6" height="5.6" fill="#e0282a" stroke="none" stroke-width="0"/>
<rect x="107.8" y="409.19" width="5.6" height="5.6" fill="#e0282a" stroke="none" stroke-width="0"/>
<rect x="109.4" y="404.06" width="5.6" height="5.6" fill="#e0282a" stroke="none" stroke-width="0"/>
<rect x="111" y="398.44" width="5.6" height="5.6" fill="#e0282a" stroke="none" stroke-width="0"/>
<rect x="112.6" y="392.97" width="5.6" height="5.6" fill="#e0282a" stroke="none" stroke-width="0"/>
<rect x="114.2" y="387.71" width="5.6" height="5.6" fill="#e0282a" stroke="none" stroke-width="0"/>
<rect x="115.8" y="381.6" width="5.6" height="5.6" fill="#e0282a" stroke="none" stroke-width="0"/>
<rect x="117.4" y="373.2" width="5.6" height="5.6" fill="#e0282a" stroke="none" stroke-width="0"/>
<rect x="119" y="364.9" width="5.6" height="5.6" fill="#e0282a" stroke="none" stroke-width="0"/>
<rect x="120.6" y="355.5" width="5.6" height="5.6" fill="#e0282a" stroke="none" stroke-width="0"/>
<rect x="122.2" y="344.4" width="5.6" height="5.6" fill="#e0282a" stroke="none" stroke-width="0"/>
<rect x="123.8" y="327.5" width="5.6" height="5.6" fill="#e0282a" stroke="none" stroke-width="0"/>
<rect x="125.4" y="310" width="5.6" height="5.6" fill="#e0282a" stroke="none" stroke-width="0"/>
<rect x="127" y="297.1" width="5.6" height="5.6" fill="#e0282a" stroke="none" stroke-width="0"/>
<rect x="43.8" y="279.6" width="254.8" height="205" fill="none" stroke="#333333" stroke-width="1"/>
<line x1="39.5" y1="279.6" x2="43.8" y2="279.6" stroke="#333333" stroke-width="1"/>
<text x="36.6" y="283" font-size="11" text-anchor="end" fill="#231f20" stroke="#231f20" stroke-width="0.25">-1200</text>
<line x1="39.5" y1="311.14" x2="43.8" y2="311.14" stroke="#333333" stroke-width="1"/>
<text x="36.6" y="314.54" font-size="11" text-anchor="end" fill="#231f20" stroke="#231f20" stroke-width="0.25">-1000</text>
<line x1="39.5" y1="342.68" x2="43.8" y2="342.68" stroke="#333333" stroke-width="1"/>
<text x="36.6" y="346.08" font-size="11" text-anchor="end" fill="#231f20" stroke="#231f20" stroke-width="0.25">-800</text>
<line x1="39.5" y1="374.22" x2="43.8" y2="374.22" stroke="#333333" stroke-width="1"/>
<text x="36.6" y="377.62" font-size="11" text-anchor="end" fill="#231f20" stroke="#231f20" stroke-width="0.25">-600</text>
<line x1="39.5" y1="405.75" x2="43.8" y2="405.75" stroke="#333333" stroke-width="1"/>
<text x="36.6" y="409.15" font-size="11" text-anchor="end" fill="#231f20" stroke="#231f20" stroke-width="0.25">-400</text>
<line x1="39.5" y1="437.29" x2="43.8" y2="437.29" stroke="#333333" stroke-width="1"/>
<text x="36.6" y="440.69" font-size="11" text-anchor="end" fill="#231f20" stroke="#231f20" stroke-width="0.25">-200</text>
<line x1="39.5" y1="468.83" x2="43.8" y2="468.83" stroke="#333333" stroke-width="1"/>
<text x="36.6" y="472.23" font-size="11" text-anchor="end" fill="#231f20" stroke="#231f20" stroke-width="0.25">0</text>
<line x1="41.6" y1="295.37" x2="43.8" y2="295.37" stroke="#333333" stroke-width="1"/>
<line x1="41.6" y1="326.91" x2="43.8" y2="326.91" stroke="#333333" stroke-width="1"/>
<line x1="41.6" y1="358.45" x2="43.8" y2="358.45" stroke="#333333" stroke-width="1"/>
<line x1="41.6" y1="389.98" x2="43.8" y2="389.98" stroke="#333333" stroke-width="1"/>
<line x1="41.6" y1="421.52" x2="43.8" y2="421.52" stroke="#333333" stroke-width="1"/>
<line x1="41.6" y1="453.06" x2="43.8" y2="453.06" stroke="#333333" stroke-width="1"/>
<line x1="41.6" y1="484.6" x2="43.8" y2="484.6" stroke="#333333" stroke-width="1"/>
<line x1="294.6" y1="473.21" x2="298.6" y2="473.21" stroke="#333333" stroke-width="1"/>
<text x="302" y="476.61" font-size="11" text-anchor="start" fill="#231f20" stroke="#231f20" stroke-width="0.25">0</text>
<line x1="294.6" y1="427.66" x2="298.6" y2="427.66" stroke="#333333" stroke-width="1"/>
<text x="302" y="431.06" font-size="11" text-anchor="start" fill="#231f20" stroke="#231f20" stroke-width="0.25">20</text>
<line x1="294.6" y1="382.1" x2="298.6" y2="382.1" stroke="#333333" stroke-width="1"/>
<text x="302" y="385.5" font-size="11" text-anchor="start" fill="#231f20" stroke="#231f20" stroke-width="0.25">40</text>
<line x1="294.6" y1="336.54" x2="298.6" y2="336.54" stroke="#333333" stroke-width="1"/>
<text x="302" y="339.94" font-size="11" text-anchor="start" fill="#231f20" stroke="#231f20" stroke-width="0.25">60</text>
<line x1="294.6" y1="290.99" x2="298.6" y2="290.99" stroke="#333333" stroke-width="1"/>
<text x="302" y="294.39" font-size="11" text-anchor="start" fill="#231f20" stroke="#231f20" stroke-width="0.25">80</text>
<line x1="296.4" y1="450.43" x2="298.6" y2="450.43" stroke="#333333" stroke-width="1"/>
<line x1="296.4" y1="404.88" x2="298.6" y2="404.88" stroke="#333333" stroke-width="1"/>
<line x1="296.4" y1="359.32" x2="298.6" y2="359.32" stroke="#333333" stroke-width="1"/>
<line x1="296.4" y1="313.77" x2="298.6" y2="313.77" stroke="#333333" stroke-width="1"/>
<line x1="51.6" y1="484.6" x2="51.6" y2="489" stroke="#333333" stroke-width="1"/>
<text x="51.6" y="500.2" font-size="11" text-anchor="middle" fill="#231f20" stroke="#231f20" stroke-width="0.25">0.0</text>
<line x1="99.39" y1="484.6" x2="99.39" y2="489" stroke="#333333" stroke-width="1"/>
<text x="99.39" y="500.2" font-size="11" text-anchor="middle" fill="#231f20" stroke="#231f20" stroke-width="0.25">0.3</text>
<line x1="147.18" y1="484.6" x2="147.18" y2="489" stroke="#333333" stroke-width="1"/>
<text x="147.18" y="500.2" font-size="11" text-anchor="middle" fill="#231f20" stroke="#231f20" stroke-width="0.25">0.6</text>
<line x1="194.97" y1="484.6" x2="194.97" y2="489" stroke="#333333" stroke-width="1"/>
<text x="194.97" y="500.2" font-size="11" text-anchor="middle" fill="#231f20" stroke="#231f20" stroke-width="0.25">0.9</text>
<line x1="242.76" y1="484.6" x2="242.76" y2="489" stroke="#333333" stroke-width="1"/>
<text x="242.76" y="500.2" font-size="11" text-anchor="middle" fill="#231f20" stroke="#231f20" stroke-width="0.25">1.2</text>
<line x1="290.55" y1="484.6" x2="290.55" y2="489" stroke="#333333" stroke-width="1"/>
<text x="290.55" y="500.2" font-size="11" text-anchor="middle" fill="#231f20" stroke="#231f20" stroke-width="0.25">1.5</text>
<line x1="75.5" y1="484.6" x2="75.5" y2="486.8" stroke="#333333" stroke-width="1"/>
<line x1="123.28" y1="484.6" x2="123.28" y2="486.8" stroke="#333333" stroke-width="1"/>
<line x1="171.08" y1="484.6" x2="171.08" y2="486.8" stroke="#333333" stroke-width="1"/>
<line x1="218.86" y1="484.6" x2="218.86" y2="486.8" stroke="#333333" stroke-width="1"/>
<line x1="266.66" y1="484.6" x2="266.66" y2="486.8" stroke="#333333" stroke-width="1"/>
<text transform="translate(9.2,380.3) rotate(-90)" x="0" y="0" font-size="12.7" text-anchor="middle" fill="#231f20" stroke="#231f20" stroke-width="0.25">Potentiation current</text>
<text transform="translate(326.8,380.8) rotate(-90)" x="0" y="0" font-size="12.7" text-anchor="middle" fill="#231f20" stroke="#231f20" stroke-width="0.25">Decay current</text>
<text x="171.4" y="515.6" font-size="12.7" text-anchor="middle" fill="#231f20" stroke="#231f20" stroke-width="0.25">Time</text>
<rect x="192.3" y="301.2" width="5.8" height="5.8" fill="#e0282a" stroke="none" stroke-width="0"/>
<text x="209.5" y="307.2" font-size="11.1" text-anchor="start" fill="#231f20" stroke="#231f20" stroke-width="0.25">Potentiation</text>
<path d="M196.4 317.1L200.6 321.3L196.4 325.5L192.2 321.3Z" fill="#fff" stroke="#36359a" stroke-width="1.2"/>
<text x="209.5" y="324.4" font-size="11.1" text-anchor="start" fill="#231f20" stroke="#231f20" stroke-width="0.25">Depression</text>
<circle cx="195.5" cy="338.4" r="3" fill="#fff" stroke="#222" stroke-width="1.2"/>
<text x="209.5" y="341.5" font-size="11.1" text-anchor="start" fill="#231f20" stroke="#231f20" stroke-width="0.25">P/D w/o Ag<tspan font-size="6" dy="-4.5">+</tspan></text>
<ellipse cx="65.2" cy="352.8" rx="7.3" ry="22.8" fill="none" stroke="#2a2020" stroke-width="1"/>
<path d="M65.2 375.6 L100.5 375.6" fill="none" stroke="#2a2020" stroke-width="1" marker-end="url(#ah2)"/>
<defs><path id="dm3" d="M0 -3.15L3.15 0L0 3.15L-3.15 0Z"/></defs>
<g fill="#000000">
<rect x="399.31" y="465.35" width="4.5" height="4.5"/>
<rect x="399.47" y="465.32" width="4.5" height="4.5"/>
<rect x="399.62" y="465.29" width="4.5" height="4.5"/>
<rect x="399.78" y="465.25" width="4.5" height="4.5"/>
<rect x="399.93" y="465.21" width="4.5" height="4.5"/>
<rect x="400.09" y="465.16" width="4.5" height="4.5"/>
<rect x="400.24" y="465.12" width="4.5" height="4.5"/>
<rect x="400.4" y="465.06" width="4.5" height="4.5"/>
<rect x="400.55" y="465" width="4.5" height="4.5"/>
<rect x="400.71" y="464.94" width="4.5" height="4.5"/>
<rect x="400.86" y="464.87" width="4.5" height="4.5"/>
<rect x="401.02" y="464.79" width="4.5" height="4.5"/>
<rect x="401.17" y="464.71" width="4.5" height="4.5"/>
<rect x="401.33" y="464.62" width="4.5" height="4.5"/>
<rect x="401.48" y="464.52" width="4.5" height="4.5"/>
<rect x="401.64" y="464.41" width="4.5" height="4.5"/>
<rect x="401.79" y="464.29" width="4.5" height="4.5"/>
<rect x="401.94" y="464.16" width="4.5" height="4.5"/>
<rect x="402.1" y="464.01" width="4.5" height="4.5"/>
<rect x="402.25" y="463.86" width="4.5" height="4.5"/>
<rect x="402.41" y="463.68" width="4.5" height="4.5"/>
<rect x="402.56" y="463.49" width="4.5" height="4.5"/>
<rect x="402.72" y="463.29" width="4.5" height="4.5"/>
<rect x="402.87" y="463.06" width="4.5" height="4.5"/>
<rect x="403.03" y="462.81" width="4.5" height="4.5"/>
<rect x="403.18" y="462.54" width="4.5" height="4.5"/>
<rect x="403.34" y="462.24" width="4.5" height="4.5"/>
<rect x="403.49" y="461.91" width="4.5" height="4.5"/>
<rect x="403.65" y="461.55" width="4.5" height="4.5"/>
<rect x="403.8" y="461.16" width="4.5" height="4.5"/>
<rect x="403.96" y="460.73" width="4.5" height="4.5"/>
<rect x="404.11" y="460.26" width="4.5" height="4.5"/>
<rect x="404.27" y="459.75" width="4.5" height="4.5"/>
<rect x="404.42" y="459.18" width="4.5" height="4.5"/>
<rect x="404.57" y="458.57" width="4.5" height="4.5"/>
<rect x="404.73" y="457.89" width="4.5" height="4.5"/>
<rect x="404.88" y="457.15" width="4.5" height="4.5"/>
<rect x="405.04" y="456.34" width="4.5" height="4.5"/>
<rect x="405.19" y="455.45" width="4.5" height="4.5"/>
<rect x="405.35" y="454.48" width="4.5" height="4.5"/>
<rect x="405.5" y="453.41" width="4.5" height="4.5"/>
<rect x="405.66" y="452.25" width="4.5" height="4.5"/>
<rect x="405.81" y="450.93" width="4.5" height="4.5"/>
<rect x="405.97" y="449.59" width="4.5" height="4.5"/>
<rect x="406.12" y="448.16" width="4.5" height="4.5"/>
<rect x="406.28" y="446.51" width="4.5" height="4.5"/>
<rect x="406.43" y="444.62" width="4.5" height="4.5"/>
<rect x="406.59" y="441.88" width="4.5" height="4.5"/>
<rect x="406.74" y="438.91" width="4.5" height="4.5"/>
<rect x="406.9" y="436.8" width="4.5" height="4.5"/>
</g>
<g fill="#e0231f">
<rect x="429.12" y="465.35" width="4.5" height="4.5"/>
<rect x="429.27" y="465.31" width="4.5" height="4.5"/>
<rect x="429.42" y="465.27" width="4.5" height="4.5"/>
<rect x="429.58" y="465.22" width="4.5" height="4.5"/>
<rect x="429.73" y="465.17" width="4.5" height="4.5"/>
<rect x="429.89" y="465.11" width="4.5" height="4.5"/>
<rect x="430.04" y="465.05" width="4.5" height="4.5"/>
<rect x="430.2" y="464.98" width="4.5" height="4.5"/>
<rect x="430.35" y="464.9" width="4.5" height="4.5"/>
<rect x="430.51" y="464.82" width="4.5" height="4.5"/>
<rect x="430.66" y="464.73" width="4.5" height="4.5"/>
<rect x="430.82" y="464.63" width="4.5" height="4.5"/>
<rect x="430.97" y="464.52" width="4.5" height="4.5"/>
<rect x="431.13" y="464.4" width="4.5" height="4.5"/>
<rect x="431.28" y="464.27" width="4.5" height="4.5"/>
<rect x="431.44" y="464.13" width="4.5" height="4.5"/>
<rect x="431.59" y="463.97" width="4.5" height="4.5"/>
<rect x="431.74" y="463.8" width="4.5" height="4.5"/>
<rect x="431.9" y="463.61" width="4.5" height="4.5"/>
<rect x="432.05" y="463.41" width="4.5" height="4.5"/>
<rect x="432.21" y="463.18" width="4.5" height="4.5"/>
<rect x="432.36" y="462.94" width="4.5" height="4.5"/>
<rect x="432.52" y="462.67" width="4.5" height="4.5"/>
<rect x="432.67" y="462.37" width="4.5" height="4.5"/>
<rect x="432.83" y="462.05" width="4.5" height="4.5"/>
<rect x="432.98" y="461.69" width="4.5" height="4.5"/>
<rect x="433.14" y="461.31" width="4.5" height="4.5"/>
<rect x="433.29" y="460.88" width="4.5" height="4.5"/>
<rect x="433.45" y="460.42" width="4.5" height="4.5"/>
<rect x="433.6" y="459.91" width="4.5" height="4.5"/>
<rect x="433.76" y="459.35" width="4.5" height="4.5"/>
<rect x="433.91" y="458.74" width="4.5" height="4.5"/>
<rect x="434.07" y="458.07" width="4.5" height="4.5"/>
<rect x="434.22" y="457.33" width="4.5" height="4.5"/>
<rect x="434.37" y="456.53" width="4.5" height="4.5"/>
<rect x="434.53" y="455.65" width="4.5" height="4.5"/>
<rect x="434.68" y="454.69" width="4.5" height="4.5"/>
<rect x="434.84" y="453.64" width="4.5" height="4.5"/>
<rect x="434.99" y="452.48" width="4.5" height="4.5"/>
<rect x="435.15" y="451.22" width="4.5" height="4.5"/>
<rect x="435.3" y="449.83" width="4.5" height="4.5"/>
<rect x="435.46" y="448.31" width="4.5" height="4.5"/>
<rect x="435.61" y="446.61" width="4.5" height="4.5"/>
<rect x="435.77" y="444.86" width="4.5" height="4.5"/>
<rect x="435.92" y="443.01" width="4.5" height="4.5"/>
<rect x="436.08" y="440.85" width="4.5" height="4.5"/>
<rect x="436.23" y="438.4" width="4.5" height="4.5"/>
<rect x="436.39" y="434.84" width="4.5" height="4.5"/>
<rect x="436.54" y="430.98" width="4.5" height="4.5"/>
<rect x="436.7" y="428.24" width="4.5" height="4.5"/>
</g>
<g fill="#5bb72e">
<rect x="452.51" y="465.35" width="4.5" height="4.5"/>
<rect x="452.67" y="465.3" width="4.5" height="4.5"/>
<rect x="452.82" y="465.24" width="4.5" height="4.5"/>
<rect x="452.98" y="465.18" width="4.5" height="4.5"/>
<rect x="453.13" y="465.12" width="4.5" height="4.5"/>
<rect x="453.29" y="465.04" width="4.5" height="4.5"/>
<rect x="453.44" y="464.96" width="4.5" height="4.5"/>
<rect x="453.6" y="464.88" width="4.5" height="4.5"/>
<rect x="453.75" y="464.78" width="4.5" height="4.5"/>
<rect x="453.91" y="464.68" width="4.5" height="4.5"/>
<rect x="454.06" y="464.56" width="4.5" height="4.5"/>
<rect x="454.22" y="464.44" width="4.5" height="4.5"/>
<rect x="454.37" y="464.3" width="4.5" height="4.5"/>
<rect x="454.53" y="464.15" width="4.5" height="4.5"/>
<rect x="454.68" y="463.98" width="4.5" height="4.5"/>
<rect x="454.84" y="463.8" width="4.5" height="4.5"/>
<rect x="454.99" y="463.6" width="4.5" height="4.5"/>
<rect x="455.14" y="463.39" width="4.5" height="4.5"/>
<rect x="455.3" y="463.15" width="4.5" height="4.5"/>
<rect x="455.45" y="462.89" width="4.5" height="4.5"/>
<rect x="455.61" y="462.6" width="4.5" height="4.5"/>
<rect x="455.76" y="462.29" width="4.5" height="4.5"/>
<rect x="455.92" y="461.95" width="4.5" height="4.5"/>
<rect x="456.07" y="461.57" width="4.5" height="4.5"/>
<rect x="456.23" y="461.16" width="4.5" height="4.5"/>
<rect x="456.38" y="460.72" width="4.5" height="4.5"/>
<rect x="456.54" y="460.22" width="4.5" height="4.5"/>
<rect x="456.69" y="459.68" width="4.5" height="4.5"/>
<rect x="456.85" y="459.1" width="4.5" height="4.5"/>
<rect x="457" y="458.45" width="4.5" height="4.5"/>
<rect x="457.16" y="457.74" width="4.5" height="4.5"/>
<rect x="457.31" y="456.97" width="4.5" height="4.5"/>
<rect x="457.47" y="456.12" width="4.5" height="4.5"/>
<rect x="457.62" y="455.19" width="4.5" height="4.5"/>
<rect x="457.77" y="454.17" width="4.5" height="4.5"/>
<rect x="457.93" y="453.06" width="4.5" height="4.5"/>
<rect x="458.08" y="451.84" width="4.5" height="4.5"/>
<rect x="458.24" y="450.5" width="4.5" height="4.5"/>
<rect x="458.39" y="449.04" width="4.5" height="4.5"/>
<rect x="458.55" y="447.43" width="4.5" height="4.5"/>
<rect x="458.7" y="445.68" width="4.5" height="4.5"/>
<rect x="458.86" y="443.75" width="4.5" height="4.5"/>
<rect x="459.01" y="441.59" width="4.5" height="4.5"/>
<rect x="459.17" y="439.38" width="4.5" height="4.5"/>
<rect x="459.32" y="437.03" width="4.5" height="4.5"/>
<rect x="459.48" y="434.3" width="4.5" height="4.5"/>
<rect x="459.63" y="431.19" width="4.5" height="4.5"/>
<rect x="459.79" y="426.67" width="4.5" height="4.5"/>
<rect x="459.94" y="421.78" width="4.5" height="4.5"/>
<rect x="460.1" y="418.3" width="4.5" height="4.5"/>
</g>
<g fill="#2250b0">
<rect x="475.71" y="465.35" width="4.5" height="4.5"/>
<rect x="475.87" y="465.29" width="4.5" height="4.5"/>
<rect x="476.02" y="465.22" width="4.5" height="4.5"/>
<rect x="476.18" y="465.14" width="4.5" height="4.5"/>
<rect x="476.33" y="465.06" width="4.5" height="4.5"/>
<rect x="476.49" y="464.96" width="4.5" height="4.5"/>
<rect x="476.64" y="464.86" width="4.5" height="4.5"/>
<rect x="476.8" y="464.75" width="4.5" height="4.5"/>
<rect x="476.95" y="464.63" width="4.5" height="4.5"/>
<rect x="477.11" y="464.5" width="4.5" height="4.5"/>
<rect x="477.26" y="464.36" width="4.5" height="4.5"/>
<rect x="477.42" y="464.2" width="4.5" height="4.5"/>
<rect x="477.57" y="464.02" width="4.5" height="4.5"/>
<rect x="477.73" y="463.83" width="4.5" height="4.5"/>
<rect x="477.88" y="463.63" width="4.5" height="4.5"/>
<rect x="478.04" y="463.4" width="4.5" height="4.5"/>
<rect x="478.19" y="463.15" width="4.5" height="4.5"/>
<rect x="478.34" y="462.88" width="4.5" height="4.5"/>
<rect x="478.5" y="462.58" width="4.5" height="4.5"/>
<rect x="478.65" y="462.25" width="4.5" height="4.5"/>
<rect x="478.81" y="461.89" width="4.5" height="4.5"/>
<rect x="478.96" y="461.5" width="4.5" height="4.5"/>
<rect x="479.12" y="461.07" width="4.5" height="4.5"/>
<rect x="479.27" y="460.59" width="4.5" height="4.5"/>
<rect x="479.43" y="460.08" width="4.5" height="4.5"/>
<rect x="479.58" y="459.51" width="4.5" height="4.5"/>
<rect x="479.74" y="458.89" width="4.5" height="4.5"/>
<rect x="479.89" y="458.21" width="4.5" height="4.5"/>
<rect x="480.05" y="457.47" width="4.5" height="4.5"/>
<rect x="480.2" y="456.66" width="4.5" height="4.5"/>
<rect x="480.36" y="455.77" width="4.5" height="4.5"/>
<rect x="480.51" y="454.79" width="4.5" height="4.5"/>
<rect x="480.67" y="453.72" width="4.5" height="4.5"/>
<rect x="480.82" y="452.55" width="4.5" height="4.5"/>
<rect x="480.97" y="451.27" width="4.5" height="4.5"/>
<rect x="481.13" y="449.86" width="4.5" height="4.5"/>
<rect x="481.28" y="448.33" width="4.5" height="4.5"/>
<rect x="481.44" y="446.64" width="4.5" height="4.5"/>
<rect x="481.59" y="444.8" width="4.5" height="4.5"/>
<rect x="481.75" y="442.78" width="4.5" height="4.5"/>
<rect x="481.9" y="440.57" width="4.5" height="4.5"/>
<rect x="482.06" y="438.15" width="4.5" height="4.5"/>
<rect x="482.21" y="435.42" width="4.5" height="4.5"/>
<rect x="482.37" y="432.63" width="4.5" height="4.5"/>
<rect x="482.52" y="429.67" width="4.5" height="4.5"/>
<rect x="482.68" y="426.23" width="4.5" height="4.5"/>
<rect x="482.83" y="422.32" width="4.5" height="4.5"/>
<rect x="482.99" y="416.63" width="4.5" height="4.5"/>
<rect x="483.14" y="410.47" width="4.5" height="4.5"/>
<rect x="483.3" y="406.08" width="4.5" height="4.5"/>
</g>
<g fill="#6dc7d8">
<rect x="498.41" y="465.35" width="4.5" height="4.5"/>
<rect x="498.57" y="465.27" width="4.5" height="4.5"/>
<rect x="498.72" y="465.18" width="4.5" height="4.5"/>
<rect x="498.88" y="465.09" width="4.5" height="4.5"/>
<rect x="499.03" y="464.99" width="4.5" height="4.5"/>
<rect x="499.19" y="464.87" width="4.5" height="4.5"/>
<rect x="499.34" y="464.75" width="4.5" height="4.5"/>
<rect x="499.5" y="464.61" width="4.5" height="4.5"/>
<rect x="499.65" y="464.46" width="4.5" height="4.5"/>
<rect x="499.81" y="464.3" width="4.5" height="4.5"/>
<rect x="499.96" y="464.12" width="4.5" height="4.5"/>
<rect x="500.12" y="463.92" width="4.5" height="4.5"/>
<rect x="500.27" y="463.71" width="4.5" height="4.5"/>
<rect x="500.43" y="463.47" width="4.5" height="4.5"/>
<rect x="500.58" y="463.21" width="4.5" height="4.5"/>
<rect x="500.74" y="462.93" width="4.5" height="4.5"/>
<rect x="500.89" y="462.62" width="4.5" height="4.5"/>
<rect x="501.04" y="462.28" width="4.5" height="4.5"/>
<rect x="501.2" y="461.91" width="4.5" height="4.5"/>
<rect x="501.35" y="461.51" width="4.5" height="4.5"/>
<rect x="501.51" y="461.06" width="4.5" height="4.5"/>
<rect x="501.66" y="460.58" width="4.5" height="4.5"/>
<rect x="501.82" y="460.04" width="4.5" height="4.5"/>
<rect x="501.97" y="459.46" width="4.5" height="4.5"/>
<rect x="502.13" y="458.82" width="4.5" height="4.5"/>
<rect x="502.28" y="458.12" width="4.5" height="4.5"/>
<rect x="502.44" y="457.35" width="4.5" height="4.5"/>
<rect x="502.59" y="456.51" width="4.5" height="4.5"/>
<rect x="502.75" y="455.59" width="4.5" height="4.5"/>
<rect x="502.9" y="454.58" width="4.5" height="4.5"/>
<rect x="503.06" y="453.48" width="4.5" height="4.5"/>
<rect x="503.21" y="452.27" width="4.5" height="4.5"/>
<rect x="503.37" y="450.94" width="4.5" height="4.5"/>
<rect x="503.52" y="449.49" width="4.5" height="4.5"/>
<rect x="503.67" y="447.9" width="4.5" height="4.5"/>
<rect x="503.83" y="446.16" width="4.5" height="4.5"/>
<rect x="503.98" y="444.26" width="4.5" height="4.5"/>
<rect x="504.14" y="442.17" width="4.5" height="4.5"/>
<rect x="504.29" y="439.89" width="4.5" height="4.5"/>
<rect x="504.45" y="437.39" width="4.5" height="4.5"/>
<rect x="504.6" y="434.65" width="4.5" height="4.5"/>
<rect x="504.76" y="431.65" width="4.5" height="4.5"/>
<rect x="504.91" y="428.27" width="4.5" height="4.5"/>
<rect x="505.07" y="424.82" width="4.5" height="4.5"/>
<rect x="505.22" y="421.14" width="4.5" height="4.5"/>
<rect x="505.38" y="416.89" width="4.5" height="4.5"/>
<rect x="505.53" y="412.04" width="4.5" height="4.5"/>
<rect x="505.69" y="404.99" width="4.5" height="4.5"/>
<rect x="505.84" y="397.35" width="4.5" height="4.5"/>
<rect x="506" y="391.92" width="4.5" height="4.5"/>
</g>
<g fill="#b34ea9">
<rect x="521.62" y="465.35" width="4.5" height="4.5"/>
<rect x="521.77" y="465.26" width="4.5" height="4.5"/>
<rect x="521.92" y="465.15" width="4.5" height="4.5"/>
<rect x="522.08" y="465.04" width="4.5" height="4.5"/>
<rect x="522.23" y="464.91" width="4.5" height="4.5"/>
<rect x="522.39" y="464.78" width="4.5" height="4.5"/>
<rect x="522.54" y="464.63" width="4.5" height="4.5"/>
<rect x="522.7" y="464.46" width="4.5" height="4.5"/>
<rect x="522.85" y="464.28" width="4.5" height="4.5"/>
<rect x="523.01" y="464.09" width="4.5" height="4.5"/>
<rect x="523.16" y="463.87" width="4.5" height="4.5"/>
<rect x="523.32" y="463.64" width="4.5" height="4.5"/>
<rect x="523.47" y="463.38" width="4.5" height="4.5"/>
<rect x="523.63" y="463.1" width="4.5" height="4.5"/>
<rect x="523.78" y="462.79" width="4.5" height="4.5"/>
<rect x="523.94" y="462.45" width="4.5" height="4.5"/>
<rect x="524.09" y="462.08" width="4.5" height="4.5"/>
<rect x="524.24" y="461.67" width="4.5" height="4.5"/>
<rect x="524.4" y="461.23" width="4.5" height="4.5"/>
<rect x="524.55" y="460.74" width="4.5" height="4.5"/>
<rect x="524.71" y="460.21" width="4.5" height="4.5"/>
<rect x="524.86" y="459.62" width="4.5" height="4.5"/>
<rect x="525.02" y="458.98" width="4.5" height="4.5"/>
<rect x="525.17" y="458.28" width="4.5" height="4.5"/>
<rect x="525.33" y="457.52" width="4.5" height="4.5"/>
<rect x="525.48" y="456.68" width="4.5" height="4.5"/>
<rect x="525.64" y="455.76" width="4.5" height="4.5"/>
<rect x="525.79" y="454.75" width="4.5" height="4.5"/>
<rect x="525.95" y="453.64" width="4.5" height="4.5"/>
<rect x="526.1" y="452.44" width="4.5" height="4.5"/>
<rect x="526.26" y="451.11" width="4.5" height="4.5"/>
<rect x="526.41" y="449.66" width="4.5" height="4.5"/>
<rect x="526.57" y="448.07" width="4.5" height="4.5"/>
<rect x="526.72" y="446.34" width="4.5" height="4.5"/>
<rect x="526.87" y="444.43" width="4.5" height="4.5"/>
<rect x="527.03" y="442.35" width="4.5" height="4.5"/>
<rect x="527.18" y="440.06" width="4.5" height="4.5"/>
<rect x="527.34" y="437.56" width="4.5" height="4.5"/>
<rect x="527.49" y="434.82" width="4.5" height="4.5"/>
<rect x="527.65" y="431.82" width="4.5" height="4.5"/>
<rect x="527.8" y="428.53" width="4.5" height="4.5"/>
<rect x="527.96" y="424.94" width="4.5" height="4.5"/>
<rect x="528.11" y="420.89" width="4.5" height="4.5"/>
<rect x="528.27" y="416.75" width="4.5" height="4.5"/>
<rect x="528.42" y="412.34" width="4.5" height="4.5"/>
<rect x="528.58" y="407.24" width="4.5" height="4.5"/>
<rect x="528.73" y="401.43" width="4.5" height="4.5"/>
<rect x="528.89" y="392.97" width="4.5" height="4.5"/>
<rect x="529.04" y="383.82" width="4.5" height="4.5"/>
<rect x="529.2" y="377.3" width="4.5" height="4.5"/>
</g>
<g fill="#e8e036">
<rect x="544.51" y="465.35" width="4.5" height="4.5"/>
<rect x="544.67" y="465.24" width="4.5" height="4.5"/>
<rect x="544.82" y="465.11" width="4.5" height="4.5"/>
<rect x="544.98" y="464.98" width="4.5" height="4.5"/>
<rect x="545.13" y="464.83" width="4.5" height="4.5"/>
<rect x="545.29" y="464.67" width="4.5" height="4.5"/>
<rect x="545.44" y="464.49" width="4.5" height="4.5"/>
<rect x="545.6" y="464.29" width="4.5" height="4.5"/>
<rect x="545.75" y="464.08" width="4.5" height="4.5"/>
<rect x="545.91" y="463.85" width="4.5" height="4.5"/>
<rect x="546.06" y="463.59" width="4.5" height="4.5"/>
<rect x="546.22" y="463.31" width="4.5" height="4.5"/>
<rect x="546.37" y="463" width="4.5" height="4.5"/>
<rect x="546.53" y="462.67" width="4.5" height="4.5"/>
<rect x="546.68" y="462.3" width="4.5" height="4.5"/>
<rect x="546.84" y="461.9" width="4.5" height="4.5"/>
<rect x="546.99" y="461.46" width="4.5" height="4.5"/>
<rect x="547.14" y="460.97" width="4.5" height="4.5"/>
<rect x="547.3" y="460.44" width="4.5" height="4.5"/>
<rect x="547.45" y="459.86" width="4.5" height="4.5"/>
<rect x="547.61" y="459.23" width="4.5" height="4.5"/>
<rect x="547.76" y="458.53" width="4.5" height="4.5"/>
<rect x="547.92" y="457.77" width="4.5" height="4.5"/>
<rect x="548.07" y="456.94" width="4.5" height="4.5"/>
<rect x="548.23" y="456.02" width="4.5" height="4.5"/>
<rect x="548.38" y="455.02" width="4.5" height="4.5"/>
<rect x="548.54" y="453.93" width="4.5" height="4.5"/>
<rect x="548.69" y="452.73" width="4.5" height="4.5"/>
<rect x="548.85" y="451.41" width="4.5" height="4.5"/>
<rect x="549" y="449.97" width="4.5" height="4.5"/>
<rect x="549.16" y="448.4" width="4.5" height="4.5"/>
<rect x="549.31" y="446.67" width="4.5" height="4.5"/>
<rect x="549.47" y="444.78" width="4.5" height="4.5"/>
<rect x="549.62" y="442.71" width="4.5" height="4.5"/>
<rect x="549.77" y="440.44" width="4.5" height="4.5"/>
<rect x="549.93" y="437.96" width="4.5" height="4.5"/>
<rect x="550.08" y="435.24" width="4.5" height="4.5"/>
<rect x="550.24" y="432.26" width="4.5" height="4.5"/>
<rect x="550.39" y="429" width="4.5" height="4.5"/>
<rect x="550.55" y="425.43" width="4.5" height="4.5"/>
<rect x="550.7" y="421.52" width="4.5" height="4.5"/>
<rect x="550.86" y="417.23" width="4.5" height="4.5"/>
<rect x="551.01" y="412.41" width="4.5" height="4.5"/>
<rect x="551.17" y="407.48" width="4.5" height="4.5"/>
<rect x="551.32" y="402.24" width="4.5" height="4.5"/>
<rect x="551.48" y="396.16" width="4.5" height="4.5"/>
<rect x="551.63" y="389.24" width="4.5" height="4.5"/>
<rect x="551.79" y="379.18" width="4.5" height="4.5"/>
<rect x="551.94" y="368.27" width="4.5" height="4.5"/>
<rect x="552.1" y="360.51" width="4.5" height="4.5"/>
</g>
<g fill="#7f7f22">
<rect x="567.31" y="465.35" width="4.5" height="4.5"/>
<rect x="567.47" y="465.22" width="4.5" height="4.5"/>
<rect x="567.62" y="465.07" width="4.5" height="4.5"/>
<rect x="567.78" y="464.92" width="4.5" height="4.5"/>
<rect x="567.93" y="464.74" width="4.5" height="4.5"/>
<rect x="568.09" y="464.55" width="4.5" height="4.5"/>
<rect x="568.24" y="464.35" width="4.5" height="4.5"/>
<rect x="568.4" y="464.12" width="4.5" height="4.5"/>
<rect x="568.55" y="463.87" width="4.5" height="4.5"/>
<rect x="568.71" y="463.6" width="4.5" height="4.5"/>
<rect x="568.86" y="463.3" width="4.5" height="4.5"/>
<rect x="569.02" y="462.97" width="4.5" height="4.5"/>
<rect x="569.17" y="462.62" width="4.5" height="4.5"/>
<rect x="569.33" y="462.22" width="4.5" height="4.5"/>
<rect x="569.48" y="461.8" width="4.5" height="4.5"/>
<rect x="569.64" y="461.33" width="4.5" height="4.5"/>
<rect x="569.79" y="460.81" width="4.5" height="4.5"/>
<rect x="569.94" y="460.25" width="4.5" height="4.5"/>
<rect x="570.1" y="459.63" width="4.5" height="4.5"/>
<rect x="570.25" y="458.95" width="4.5" height="4.5"/>
<rect x="570.41" y="458.21" width="4.5" height="4.5"/>
<rect x="570.56" y="457.4" width="4.5" height="4.5"/>
<rect x="570.72" y="456.52" width="4.5" height="4.5"/>
<rect x="570.87" y="455.54" width="4.5" height="4.5"/>
<rect x="571.03" y="454.48" width="4.5" height="4.5"/>
<rect x="571.18" y="453.31" width="4.5" height="4.5"/>
<rect x="571.34" y="452.04" width="4.5" height="4.5"/>
<rect x="571.49" y="450.64" width="4.5" height="4.5"/>
<rect x="571.65" y="449.11" width="4.5" height="4.5"/>
<rect x="571.8" y="447.43" width="4.5" height="4.5"/>
<rect x="571.96" y="445.59" width="4.5" height="4.5"/>
<rect x="572.11" y="443.58" width="4.5" height="4.5"/>
<rect x="572.27" y="441.38" width="4.5" height="4.5"/>
<rect x="572.42" y="438.96" width="4.5" height="4.5"/>
<rect x="572.57" y="436.32" width="4.5" height="4.5"/>
<rect x="572.73" y="433.42" width="4.5" height="4.5"/>
<rect x="572.88" y="430.25" width="4.5" height="4.5"/>
<rect x="573.04" y="426.78" width="4.5" height="4.5"/>
<rect x="573.19" y="422.98" width="4.5" height="4.5"/>
<rect x="573.35" y="418.82" width="4.5" height="4.5"/>
<rect x="573.5" y="414.26" width="4.5" height="4.5"/>
<rect x="573.66" y="409.26" width="4.5" height="4.5"/>
<rect x="573.81" y="403.64" width="4.5" height="4.5"/>
<rect x="573.97" y="397.9" width="4.5" height="4.5"/>
<rect x="574.12" y="391.79" width="4.5" height="4.5"/>
<rect x="574.28" y="384.7" width="4.5" height="4.5"/>
<rect x="574.43" y="376.64" width="4.5" height="4.5"/>
<rect x="574.59" y="364.91" width="4.5" height="4.5"/>
<rect x="574.74" y="352.2" width="4.5" height="4.5"/>
<rect x="574.9" y="343.16" width="4.5" height="4.5"/>
</g>
<g fill="#233374">
<rect x="590.62" y="465.35" width="4.5" height="4.5"/>
<rect x="590.77" y="465.2" width="4.5" height="4.5"/>
<rect x="590.92" y="465.03" width="4.5" height="4.5"/>
<rect x="591.08" y="464.85" width="4.5" height="4.5"/>
<rect x="591.23" y="464.65" width="4.5" height="4.5"/>
<rect x="591.39" y="464.44" width="4.5" height="4.5"/>
<rect x="591.54" y="464.2" width="4.5" height="4.5"/>
<rect x="591.7" y="463.94" width="4.5" height="4.5"/>
<rect x="591.85" y="463.65" width="4.5" height="4.5"/>
<rect x="592.01" y="463.34" width="4.5" height="4.5"/>
<rect x="592.16" y="463" width="4.5" height="4.5"/>
<rect x="592.32" y="462.62" width="4.5" height="4.5"/>
<rect x="592.47" y="462.21" width="4.5" height="4.5"/>
<rect x="592.63" y="461.76" width="4.5" height="4.5"/>
<rect x="592.78" y="461.27" width="4.5" height="4.5"/>
<rect x="592.94" y="460.73" width="4.5" height="4.5"/>
<rect x="593.09" y="460.14" width="4.5" height="4.5"/>
<rect x="593.24" y="459.49" width="4.5" height="4.5"/>
<rect x="593.4" y="458.79" width="4.5" height="4.5"/>
<rect x="593.55" y="458.01" width="4.5" height="4.5"/>
<rect x="593.71" y="457.16" width="4.5" height="4.5"/>
<rect x="593.86" y="456.23" width="4.5" height="4.5"/>
<rect x="594.02" y="455.21" width="4.5" height="4.5"/>
<rect x="594.17" y="454.1" width="4.5" height="4.5"/>
<rect x="594.33" y="452.87" width="4.5" height="4.5"/>
<rect x="594.48" y="451.54" width="4.5" height="4.5"/>
<rect x="594.64" y="450.07" width="4.5" height="4.5"/>
<rect x="594.79" y="448.46" width="4.5" height="4.5"/>
<rect x="594.95" y="446.71" width="4.5" height="4.5"/>
<rect x="595.1" y="444.78" width="4.5" height="4.5"/>
<rect x="595.26" y="442.67" width="4.5" height="4.5"/>
<rect x="595.41" y="440.36" width="4.5" height="4.5"/>
<rect x="595.57" y="437.83" width="4.5" height="4.5"/>
<rect x="595.72" y="435.07" width="4.5" height="4.5"/>
<rect x="595.87" y="432.03" width="4.5" height="4.5"/>
<rect x="596.03" y="428.71" width="4.5" height="4.5"/>
<rect x="596.18" y="425.07" width="4.5" height="4.5"/>
<rect x="596.34" y="421.09" width="4.5" height="4.5"/>
<rect x="596.49" y="416.72" width="4.5" height="4.5"/>
<rect x="596.65" y="411.95" width="4.5" height="4.5"/>
<rect x="596.8" y="406.71" width="4.5" height="4.5"/>
<rect x="596.96" y="400.98" width="4.5" height="4.5"/>
<rect x="597.11" y="394.53" width="4.5" height="4.5"/>
<rect x="597.27" y="387.94" width="4.5" height="4.5"/>
<rect x="597.42" y="380.93" width="4.5" height="4.5"/>
<rect x="597.58" y="372.79" width="4.5" height="4.5"/>
<rect x="597.73" y="363.54" width="4.5" height="4.5"/>
<rect x="597.89" y="350.07" width="4.5" height="4.5"/>
<rect x="598.04" y="335.49" width="4.5" height="4.5"/>
<rect x="598.2" y="325.11" width="4.5" height="4.5"/>
</g>
<g fill="#871a85">
<rect x="613.22" y="465.35" width="4.5" height="4.5"/>
<rect x="613.37" y="465.18" width="4.5" height="4.5"/>
<rect x="613.52" y="464.99" width="4.5" height="4.5"/>
<rect x="613.68" y="464.78" width="4.5" height="4.5"/>
<rect x="613.83" y="464.55" width="4.5" height="4.5"/>
<rect x="613.99" y="464.31" width="4.5" height="4.5"/>
<rect x="614.14" y="464.03" width="4.5" height="4.5"/>
<rect x="614.3" y="463.74" width="4.5" height="4.5"/>
<rect x="614.45" y="463.41" width="4.5" height="4.5"/>
<rect x="614.61" y="463.05" width="4.5" height="4.5"/>
<rect x="614.76" y="462.66" width="4.5" height="4.5"/>
<rect x="614.92" y="462.23" width="4.5" height="4.5"/>
<rect x="615.07" y="461.77" width="4.5" height="4.5"/>
<rect x="615.23" y="461.25" width="4.5" height="4.5"/>
<rect x="615.38" y="460.69" width="4.5" height="4.5"/>
<rect x="615.54" y="460.07" width="4.5" height="4.5"/>
<rect x="615.69" y="459.4" width="4.5" height="4.5"/>
<rect x="615.84" y="458.66" width="4.5" height="4.5"/>
<rect x="616" y="457.85" width="4.5" height="4.5"/>
<rect x="616.15" y="456.96" width="4.5" height="4.5"/>
<rect x="616.31" y="455.99" width="4.5" height="4.5"/>
<rect x="616.46" y="454.93" width="4.5" height="4.5"/>
<rect x="616.62" y="453.77" width="4.5" height="4.5"/>
<rect x="616.77" y="452.49" width="4.5" height="4.5"/>
<rect x="616.93" y="451.1" width="4.5" height="4.5"/>
<rect x="617.08" y="449.57" width="4.5" height="4.5"/>
<rect x="617.24" y="447.89" width="4.5" height="4.5"/>
<rect x="617.39" y="446.06" width="4.5" height="4.5"/>
<rect x="617.55" y="444.05" width="4.5" height="4.5"/>
<rect x="617.7" y="441.85" width="4.5" height="4.5"/>
<rect x="617.86" y="439.44" width="4.5" height="4.5"/>
<rect x="618.01" y="436.8" width="4.5" height="4.5"/>
<rect x="618.17" y="433.91" width="4.5" height="4.5"/>
<rect x="618.32" y="430.75" width="4.5" height="4.5"/>
<rect x="618.47" y="427.28" width="4.5" height="4.5"/>
<rect x="618.63" y="423.49" width="4.5" height="4.5"/>
<rect x="618.78" y="419.33" width="4.5" height="4.5"/>
<rect x="618.94" y="414.78" width="4.5" height="4.5"/>
<rect x="619.09" y="409.8" width="4.5" height="4.5"/>
<rect x="619.25" y="404.34" width="4.5" height="4.5"/>
<rect x="619.4" y="398.36" width="4.5" height="4.5"/>
<rect x="619.56" y="391.81" width="4.5" height="4.5"/>
<rect x="619.71" y="384.44" width="4.5" height="4.5"/>
<rect x="619.87" y="376.91" width="4.5" height="4.5"/>
<rect x="620.02" y="368.9" width="4.5" height="4.5"/>
<rect x="620.18" y="359.6" width="4.5" height="4.5"/>
<rect x="620.33" y="349.03" width="4.5" height="4.5"/>
<rect x="620.49" y="333.65" width="4.5" height="4.5"/>
<rect x="620.64" y="316.98" width="4.5" height="4.5"/>
<rect x="620.8" y="305.13" width="4.5" height="4.5"/>
</g>
<g fill="#fff" stroke="#000000" stroke-width="1">
<use href="#dm3" x="409.7" y="440.04"/>
<use href="#dm3" x="409.85" y="441.97"/>
<use href="#dm3" x="410.01" y="443.76"/>
<use href="#dm3" x="410.16" y="445.42"/>
<use href="#dm3" x="410.32" y="446.98"/>
<use href="#dm3" x="410.47" y="448.42"/>
<use href="#dm3" x="410.63" y="449.76"/>
<use href="#dm3" x="410.78" y="451"/>
<use href="#dm3" x="410.94" y="452.16"/>
<use href="#dm3" x="411.09" y="453.24"/>
<use href="#dm3" x="411.25" y="454.25"/>
<use href="#dm3" x="411.4" y="455.18"/>
<use href="#dm3" x="411.48" y="455.39"/>
<use href="#dm3" x="411.56" y="455.58"/>
<use href="#dm3" x="411.63" y="455.77"/>
<use href="#dm3" x="411.71" y="455.96"/>
<use href="#dm3" x="411.79" y="456.14"/>
<use href="#dm3" x="411.87" y="456.32"/>
<use href="#dm3" x="411.94" y="456.5"/>
<use href="#dm3" x="412.02" y="456.67"/>
<use href="#dm3" x="412.1" y="456.84"/>
<use href="#dm3" x="412.18" y="457.01"/>
<use href="#dm3" x="412.25" y="457.18"/>
<use href="#dm3" x="412.33" y="457.34"/>
<use href="#dm3" x="412.41" y="457.5"/>
<use href="#dm3" x="412.48" y="457.66"/>
<use href="#dm3" x="412.56" y="457.82"/>
<use href="#dm3" x="412.64" y="457.97"/>
<use href="#dm3" x="412.72" y="458.12"/>
<use href="#dm3" x="412.79" y="458.27"/>
<use href="#dm3" x="412.87" y="458.42"/>
<use href="#dm3" x="412.95" y="458.56"/>
<use href="#dm3" x="413.03" y="458.7"/>
<use href="#dm3" x="413.1" y="458.84"/>
<use href="#dm3" x="413.18" y="458.98"/>
<use href="#dm3" x="413.26" y="459.12"/>
<use href="#dm3" x="413.34" y="459.25"/>
<use href="#dm3" x="413.41" y="459.38"/>
<use href="#dm3" x="413.49" y="459.51"/>
<use href="#dm3" x="413.57" y="459.64"/>
<use href="#dm3" x="413.64" y="459.76"/>
<use href="#dm3" x="413.72" y="459.88"/>
<use href="#dm3" x="413.8" y="460.01"/>
<use href="#dm3" x="413.88" y="460.13"/>
<use href="#dm3" x="413.95" y="460.24"/>
<use href="#dm3" x="414.03" y="460.36"/>
<use href="#dm3" x="414.11" y="460.47"/>
<use href="#dm3" x="414.19" y="460.58"/>
<use href="#dm3" x="414.26" y="460.69"/>
<use href="#dm3" x="414.34" y="460.8"/>
<use href="#dm3" x="414.42" y="460.91"/>
<use href="#dm3" x="414.5" y="461.01"/>
<use href="#dm3" x="414.57" y="461.12"/>
<use href="#dm3" x="414.65" y="461.22"/>
<use href="#dm3" x="414.73" y="461.32"/>
<use href="#dm3" x="414.81" y="461.42"/>
<use href="#dm3" x="414.88" y="461.52"/>
<use href="#dm3" x="414.96" y="461.61"/>
<use href="#dm3" x="415.04" y="461.7"/>
<use href="#dm3" x="415.11" y="461.8"/>
<use href="#dm3" x="415.19" y="461.89"/>
<use href="#dm3" x="415.27" y="461.98"/>
<use href="#dm3" x="415.35" y="462.07"/>
<use href="#dm3" x="415.42" y="462.15"/>
<use href="#dm3" x="415.5" y="462.24"/>
<use href="#dm3" x="415.58" y="462.32"/>
<use href="#dm3" x="415.66" y="462.41"/>
<use href="#dm3" x="415.73" y="462.49"/>
<use href="#dm3" x="415.81" y="462.57"/>
<use href="#dm3" x="415.89" y="462.65"/>
<use href="#dm3" x="415.97" y="462.72"/>
<use href="#dm3" x="416.04" y="462.8"/>
<use href="#dm3" x="416.12" y="462.88"/>
<use href="#dm3" x="416.2" y="462.95"/>
<use href="#dm3" x="416.27" y="463.02"/>
<use href="#dm3" x="416.35" y="463.09"/>
<use href="#dm3" x="416.43" y="463.17"/>
<use href="#dm3" x="416.51" y="463.24"/>
<use href="#dm3" x="416.58" y="463.3"/>
<use href="#dm3" x="416.66" y="463.37"/>
<use href="#dm3" x="416.74" y="463.44"/>
<use href="#dm3" x="416.82" y="463.5"/>
<use href="#dm3" x="416.89" y="463.57"/>
<use href="#dm3" x="416.97" y="463.63"/>
<use href="#dm3" x="417.05" y="463.69"/>
<use href="#dm3" x="417.13" y="463.75"/>
<use href="#dm3" x="417.2" y="463.81"/>
<use href="#dm3" x="417.28" y="463.87"/>
<use href="#dm3" x="417.36" y="463.93"/>
<use href="#dm3" x="417.44" y="463.99"/>
<use href="#dm3" x="417.51" y="464.05"/>
<use href="#dm3" x="417.59" y="464.1"/>
<use href="#dm3" x="417.67" y="464.16"/>
<use href="#dm3" x="417.74" y="464.21"/>
<use href="#dm3" x="417.82" y="464.26"/>
<use href="#dm3" x="417.9" y="464.32"/>
<use href="#dm3" x="417.98" y="464.37"/>
<use href="#dm3" x="418.05" y="464.42"/>
<use href="#dm3" x="418.13" y="464.47"/>
<use href="#dm3" x="418.21" y="464.52"/>
<use href="#dm3" x="418.29" y="464.57"/>
<use href="#dm3" x="418.36" y="464.61"/>
<use href="#dm3" x="418.44" y="464.66"/>
<use href="#dm3" x="418.52" y="464.71"/>
<use href="#dm3" x="418.6" y="464.75"/>
<use href="#dm3" x="418.67" y="464.8"/>
<use href="#dm3" x="418.75" y="464.84"/>
<use href="#dm3" x="418.83" y="464.88"/>
<use href="#dm3" x="418.9" y="464.93"/>
<use href="#dm3" x="418.98" y="464.97"/>
<use href="#dm3" x="419.06" y="465.01"/>
<use href="#dm3" x="419.14" y="465.05"/>
<use href="#dm3" x="419.21" y="465.09"/>
<use href="#dm3" x="419.29" y="465.13"/>
<use href="#dm3" x="419.37" y="465.17"/>
<use href="#dm3" x="419.45" y="465.21"/>
<use href="#dm3" x="419.52" y="465.25"/>
<use href="#dm3" x="419.6" y="465.28"/>
<use href="#dm3" x="419.68" y="465.32"/>
<use href="#dm3" x="419.76" y="465.35"/>
<use href="#dm3" x="419.83" y="465.39"/>
<use href="#dm3" x="419.91" y="465.42"/>
<use href="#dm3" x="419.99" y="465.46"/>
<use href="#dm3" x="420.06" y="465.49"/>
<use href="#dm3" x="420.14" y="465.53"/>
<use href="#dm3" x="420.22" y="465.56"/>
<use href="#dm3" x="420.3" y="465.59"/>
<use href="#dm3" x="420.37" y="465.62"/>
<use href="#dm3" x="420.45" y="465.65"/>
<use href="#dm3" x="420.53" y="465.68"/>
<use href="#dm3" x="420.61" y="465.71"/>
<use href="#dm3" x="420.68" y="465.74"/>
<use href="#dm3" x="420.76" y="465.77"/>
<use href="#dm3" x="420.84" y="465.8"/>
<use href="#dm3" x="420.92" y="465.83"/>
<use href="#dm3" x="420.99" y="465.86"/>
<use href="#dm3" x="421.07" y="465.88"/>
<use href="#dm3" x="421.15" y="465.91"/>
<use href="#dm3" x="421.23" y="465.94"/>
<use href="#dm3" x="421.3" y="465.96"/>
<use href="#dm3" x="421.38" y="465.99"/>
<use href="#dm3" x="421.46" y="466.01"/>
<use href="#dm3" x="421.53" y="466.04"/>
<use href="#dm3" x="421.61" y="466.06"/>
<use href="#dm3" x="421.69" y="466.09"/>
<use href="#dm3" x="421.77" y="466.11"/>
<use href="#dm3" x="421.84" y="466.14"/>
<use href="#dm3" x="421.92" y="466.16"/>
<use href="#dm3" x="422" y="466.18"/>
<use href="#dm3" x="422.08" y="466.2"/>
<use href="#dm3" x="422.15" y="466.22"/>
<use href="#dm3" x="422.23" y="466.25"/>
<use href="#dm3" x="422.31" y="466.27"/>
<use href="#dm3" x="422.39" y="466.29"/>
<use href="#dm3" x="422.46" y="466.31"/>
<use href="#dm3" x="422.54" y="466.33"/>
<use href="#dm3" x="422.62" y="466.35"/>
<use href="#dm3" x="422.69" y="466.37"/>
<use href="#dm3" x="422.77" y="466.39"/>
<use href="#dm3" x="422.85" y="466.41"/>
<use href="#dm3" x="422.93" y="466.43"/>
<use href="#dm3" x="423" y="466.44"/>
<use href="#dm3" x="423.08" y="466.46"/>
<use href="#dm3" x="423.16" y="466.48"/>
<use href="#dm3" x="423.24" y="466.5"/>
<use href="#dm3" x="423.31" y="466.52"/>
<use href="#dm3" x="423.39" y="466.53"/>
<use href="#dm3" x="423.47" y="466.55"/>
<use href="#dm3" x="423.55" y="466.57"/>
<use href="#dm3" x="423.62" y="466.58"/>
<use href="#dm3" x="423.7" y="466.6"/>
<use href="#dm3" x="423.78" y="466.61"/>
<use href="#dm3" x="423.86" y="466.63"/>
<use href="#dm3" x="423.93" y="466.64"/>
<use href="#dm3" x="424.01" y="466.66"/>
<use href="#dm3" x="424.09" y="466.67"/>
<use href="#dm3" x="424.16" y="466.69"/>
<use href="#dm3" x="424.24" y="466.7"/>
<use href="#dm3" x="424.32" y="466.72"/>
<use href="#dm3" x="424.4" y="466.73"/>
<use href="#dm3" x="424.47" y="466.74"/>
<use href="#dm3" x="424.55" y="466.76"/>
<use href="#dm3" x="424.63" y="466.77"/>
<use href="#dm3" x="424.71" y="466.78"/>
<use href="#dm3" x="424.78" y="466.8"/>
<use href="#dm3" x="424.86" y="466.81"/>
<use href="#dm3" x="424.94" y="466.82"/>
<use href="#dm3" x="425.02" y="466.83"/>
<use href="#dm3" x="425.09" y="466.85"/>
<use href="#dm3" x="425.17" y="466.86"/>
</g>
<polyline points="411.25,454.25 411.56,455.58 411.87,456.32 412.18,457.01 412.48,457.66 412.79,458.27 413.1,458.84 413.41,459.38 413.72,459.88 414.03,460.36 414.34,460.8 414.65,461.22 414.96,461.61 415.27,461.98 415.58,462.32 415.89,462.65 416.2,462.95 416.51,463.24 416.82,463.5 417.13,463.75 417.44,463.99 417.74,464.21 418.05,464.42 418.36,464.61 418.67,464.8 418.98,464.97 419.29,465.13 419.6,465.28 419.91,465.42 420.22,465.56 420.53,465.68 420.84,465.8 421.15,465.91 421.46,466.01 421.77,466.11 422.08,466.2" fill="none" stroke="#000000" stroke-width="4.2" stroke-linejoin="round" stroke-linecap="butt"/>
<g fill="#fff" stroke="#e0231f" stroke-width="1">
<use href="#dm3" x="439.5" y="436.73"/>
<use href="#dm3" x="439.65" y="438.89"/>
<use href="#dm3" x="439.81" y="440.89"/>
<use href="#dm3" x="439.96" y="442.76"/>
<use href="#dm3" x="440.12" y="444.5"/>
<use href="#dm3" x="440.27" y="446.11"/>
<use href="#dm3" x="440.43" y="447.61"/>
<use href="#dm3" x="440.58" y="449.01"/>
<use href="#dm3" x="440.74" y="450.31"/>
<use href="#dm3" x="440.89" y="451.52"/>
<use href="#dm3" x="441.05" y="452.64"/>
<use href="#dm3" x="441.2" y="453.69"/>
<use href="#dm3" x="441.28" y="453.93"/>
<use href="#dm3" x="441.36" y="454.14"/>
<use href="#dm3" x="441.43" y="454.35"/>
<use href="#dm3" x="441.51" y="454.56"/>
<use href="#dm3" x="441.59" y="454.76"/>
<use href="#dm3" x="441.67" y="454.97"/>
<use href="#dm3" x="441.74" y="455.16"/>
<use href="#dm3" x="441.82" y="455.36"/>
<use href="#dm3" x="441.9" y="455.55"/>
<use href="#dm3" x="441.98" y="455.74"/>
<use href="#dm3" x="442.05" y="455.93"/>
<use href="#dm3" x="442.13" y="456.11"/>
<use href="#dm3" x="442.21" y="456.29"/>
<use href="#dm3" x="442.28" y="456.47"/>
<use href="#dm3" x="442.36" y="456.64"/>
<use href="#dm3" x="442.44" y="456.81"/>
<use href="#dm3" x="442.52" y="456.98"/>
<use href="#dm3" x="442.59" y="457.15"/>
<use href="#dm3" x="442.67" y="457.31"/>
<use href="#dm3" x="442.75" y="457.48"/>
<use href="#dm3" x="442.83" y="457.63"/>
<use href="#dm3" x="442.9" y="457.79"/>
<use href="#dm3" x="442.98" y="457.95"/>
<use href="#dm3" x="443.06" y="458.1"/>
<use href="#dm3" x="443.14" y="458.25"/>
<use href="#dm3" x="443.21" y="458.39"/>
<use href="#dm3" x="443.29" y="458.54"/>
<use href="#dm3" x="443.37" y="458.68"/>
<use href="#dm3" x="443.44" y="458.82"/>
<use href="#dm3" x="443.52" y="458.96"/>
<use href="#dm3" x="443.6" y="459.09"/>
<use href="#dm3" x="443.68" y="459.23"/>
<use href="#dm3" x="443.75" y="459.36"/>
<use href="#dm3" x="443.83" y="459.49"/>
<use href="#dm3" x="443.91" y="459.61"/>
<use href="#dm3" x="443.99" y="459.74"/>
<use href="#dm3" x="444.06" y="459.86"/>
<use href="#dm3" x="444.14" y="459.99"/>
<use href="#dm3" x="444.22" y="460.1"/>
<use href="#dm3" x="444.3" y="460.22"/>
<use href="#dm3" x="444.37" y="460.34"/>
<use href="#dm3" x="444.45" y="460.45"/>
<use href="#dm3" x="444.53" y="460.56"/>
<use href="#dm3" x="444.61" y="460.67"/>
<use href="#dm3" x="444.68" y="460.78"/>
<use href="#dm3" x="444.76" y="460.89"/>
<use href="#dm3" x="444.84" y="461"/>
<use href="#dm3" x="444.91" y="461.1"/>
<use href="#dm3" x="444.99" y="461.2"/>
<use href="#dm3" x="445.07" y="461.3"/>
<use href="#dm3" x="445.15" y="461.4"/>
<use href="#dm3" x="445.22" y="461.5"/>
<use href="#dm3" x="445.3" y="461.59"/>
<use href="#dm3" x="445.38" y="461.69"/>
<use href="#dm3" x="445.46" y="461.78"/>
<use href="#dm3" x="445.53" y="461.87"/>
<use href="#dm3" x="445.61" y="461.96"/>
<use href="#dm3" x="445.69" y="462.05"/>
<use href="#dm3" x="445.77" y="462.14"/>
<use href="#dm3" x="445.84" y="462.22"/>
<use href="#dm3" x="445.92" y="462.31"/>
<use href="#dm3" x="446" y="462.39"/>
<use href="#dm3" x="446.07" y="462.47"/>
<use href="#dm3" x="446.15" y="462.55"/>
<use href="#dm3" x="446.23" y="462.63"/>
<use href="#dm3" x="446.31" y="462.71"/>
<use href="#dm3" x="446.38" y="462.79"/>
<use href="#dm3" x="446.46" y="462.86"/>
<use href="#dm3" x="446.54" y="462.94"/>
<use href="#dm3" x="446.62" y="463.01"/>
<use href="#dm3" x="446.69" y="463.08"/>
<use href="#dm3" x="446.77" y="463.15"/>
<use href="#dm3" x="446.85" y="463.22"/>
<use href="#dm3" x="446.93" y="463.29"/>
<use href="#dm3" x="447" y="463.36"/>
<use href="#dm3" x="447.08" y="463.43"/>
<use href="#dm3" x="447.16" y="463.49"/>
<use href="#dm3" x="447.24" y="463.56"/>
<use href="#dm3" x="447.31" y="463.62"/>
<use href="#dm3" x="447.39" y="463.68"/>
<use href="#dm3" x="447.47" y="463.74"/>
<use href="#dm3" x="447.54" y="463.8"/>
<use href="#dm3" x="447.62" y="463.86"/>
<use href="#dm3" x="447.7" y="463.92"/>
<use href="#dm3" x="447.78" y="463.98"/>
<use href="#dm3" x="447.85" y="464.04"/>
<use href="#dm3" x="447.93" y="464.09"/>
<use href="#dm3" x="448.01" y="464.15"/>
<use href="#dm3" x="448.09" y="464.2"/>
<use href="#dm3" x="448.16" y="464.26"/>
<use href="#dm3" x="448.24" y="464.31"/>
<use href="#dm3" x="448.32" y="464.36"/>
<use href="#dm3" x="448.4" y="464.41"/>
<use href="#dm3" x="448.47" y="464.46"/>
<use href="#dm3" x="448.55" y="464.51"/>
<use href="#dm3" x="448.63" y="464.56"/>
<use href="#dm3" x="448.7" y="464.61"/>
<use href="#dm3" x="448.78" y="464.65"/>
<use href="#dm3" x="448.86" y="464.7"/>
<use href="#dm3" x="448.94" y="464.74"/>
<use href="#dm3" x="449.01" y="464.79"/>
<use href="#dm3" x="449.09" y="464.83"/>
<use href="#dm3" x="449.17" y="464.88"/>
<use href="#dm3" x="449.25" y="464.92"/>
<use href="#dm3" x="449.32" y="464.96"/>
<use href="#dm3" x="449.4" y="465"/>
<use href="#dm3" x="449.48" y="465.04"/>
<use href="#dm3" x="449.56" y="465.08"/>
<use href="#dm3" x="449.63" y="465.12"/>
<use href="#dm3" x="449.71" y="465.16"/>
<use href="#dm3" x="449.79" y="465.2"/>
<use href="#dm3" x="449.86" y="465.24"/>
<use href="#dm3" x="449.94" y="465.28"/>
<use href="#dm3" x="450.02" y="465.31"/>
<use href="#dm3" x="450.1" y="465.35"/>
<use href="#dm3" x="450.17" y="465.38"/>
<use href="#dm3" x="450.25" y="465.42"/>
<use href="#dm3" x="450.33" y="465.45"/>
<use href="#dm3" x="450.41" y="465.49"/>
<use href="#dm3" x="450.48" y="465.52"/>
<use href="#dm3" x="450.56" y="465.55"/>
<use href="#dm3" x="450.64" y="465.58"/>
<use href="#dm3" x="450.72" y="465.62"/>
<use href="#dm3" x="450.79" y="465.65"/>
<use href="#dm3" x="450.87" y="465.68"/>
<use href="#dm3" x="450.95" y="465.71"/>
<use href="#dm3" x="451.03" y="465.74"/>
<use href="#dm3" x="451.1" y="465.77"/>
<use href="#dm3" x="451.18" y="465.8"/>
<use href="#dm3" x="451.26" y="465.82"/>
<use href="#dm3" x="451.33" y="465.85"/>
<use href="#dm3" x="451.41" y="465.88"/>
<use href="#dm3" x="451.49" y="465.91"/>
<use href="#dm3" x="451.57" y="465.93"/>
<use href="#dm3" x="451.64" y="465.96"/>
<use href="#dm3" x="451.72" y="465.98"/>
<use href="#dm3" x="451.8" y="466.01"/>
<use href="#dm3" x="451.88" y="466.04"/>
<use href="#dm3" x="451.95" y="466.06"/>
<use href="#dm3" x="452.03" y="466.08"/>
<use href="#dm3" x="452.11" y="466.11"/>
<use href="#dm3" x="452.19" y="466.13"/>
<use href="#dm3" x="452.26" y="466.15"/>
<use href="#dm3" x="452.34" y="466.18"/>
<use href="#dm3" x="452.42" y="466.2"/>
<use href="#dm3" x="452.49" y="466.22"/>
<use href="#dm3" x="452.57" y="466.24"/>
<use href="#dm3" x="452.65" y="466.26"/>
<use href="#dm3" x="452.73" y="466.29"/>
<use href="#dm3" x="452.8" y="466.31"/>
<use href="#dm3" x="452.88" y="466.33"/>
<use href="#dm3" x="452.96" y="466.35"/>
<use href="#dm3" x="453.04" y="466.37"/>
<use href="#dm3" x="453.11" y="466.39"/>
<use href="#dm3" x="453.19" y="466.4"/>
<use href="#dm3" x="453.27" y="466.42"/>
<use href="#dm3" x="453.35" y="466.44"/>
<use href="#dm3" x="453.42" y="466.46"/>
<use href="#dm3" x="453.5" y="466.48"/>
<use href="#dm3" x="453.58" y="466.5"/>
<use href="#dm3" x="453.66" y="466.51"/>
<use href="#dm3" x="453.73" y="466.53"/>
<use href="#dm3" x="453.81" y="466.55"/>
<use href="#dm3" x="453.89" y="466.56"/>
<use href="#dm3" x="453.96" y="466.58"/>
<use href="#dm3" x="454.04" y="466.6"/>
<use href="#dm3" x="454.12" y="466.61"/>
<use href="#dm3" x="454.2" y="466.63"/>
<use href="#dm3" x="454.27" y="466.64"/>
<use href="#dm3" x="454.35" y="466.66"/>
<use href="#dm3" x="454.43" y="466.67"/>
<use href="#dm3" x="454.51" y="466.69"/>
<use href="#dm3" x="454.58" y="466.7"/>
<use href="#dm3" x="454.66" y="466.71"/>
<use href="#dm3" x="454.74" y="466.73"/>
<use href="#dm3" x="454.82" y="466.74"/>
<use href="#dm3" x="454.89" y="466.76"/>
<use href="#dm3" x="454.97" y="466.77"/>
</g>
<polyline points="441.05,452.64 441.36,454.14 441.67,454.97 441.98,455.74 442.28,456.47 442.59,457.15 442.9,457.79 443.21,458.39 443.52,458.96 443.83,459.49 444.14,459.99 444.45,460.45 444.76,460.89 445.07,461.3 445.38,461.69 445.69,462.05 446,462.39 446.31,462.71 446.62,463.01 446.93,463.29 447.24,463.56 447.54,463.8 447.85,464.04 448.16,464.26 448.47,464.46 448.78,464.65 449.09,464.83 449.4,465 449.71,465.16 450.02,465.31 450.33,465.45 450.64,465.58 450.95,465.71 451.26,465.82 451.57,465.93 451.88,466.04" fill="none" stroke="#e0231f" stroke-width="4.2" stroke-linejoin="round" stroke-linecap="butt"/>
<g fill="#fff" stroke="#5bb72e" stroke-width="1">
<use href="#dm3" x="462.9" y="432.59"/>
<use href="#dm3" x="463.05" y="435.03"/>
<use href="#dm3" x="463.21" y="437.31"/>
<use href="#dm3" x="463.36" y="439.43"/>
<use href="#dm3" x="463.52" y="441.4"/>
<use href="#dm3" x="463.67" y="443.23"/>
<use href="#dm3" x="463.83" y="444.93"/>
<use href="#dm3" x="463.98" y="446.52"/>
<use href="#dm3" x="464.14" y="447.99"/>
<use href="#dm3" x="464.29" y="449.36"/>
<use href="#dm3" x="464.45" y="450.64"/>
<use href="#dm3" x="464.6" y="451.82"/>
<use href="#dm3" x="464.68" y="452.09"/>
<use href="#dm3" x="464.76" y="452.33"/>
<use href="#dm3" x="464.83" y="452.57"/>
<use href="#dm3" x="464.91" y="452.81"/>
<use href="#dm3" x="464.99" y="453.04"/>
<use href="#dm3" x="465.07" y="453.27"/>
<use href="#dm3" x="465.14" y="453.5"/>
<use href="#dm3" x="465.22" y="453.72"/>
<use href="#dm3" x="465.3" y="453.93"/>
<use href="#dm3" x="465.38" y="454.15"/>
<use href="#dm3" x="465.45" y="454.36"/>
<use href="#dm3" x="465.53" y="454.57"/>
<use href="#dm3" x="465.61" y="454.77"/>
<use href="#dm3" x="465.68" y="454.97"/>
<use href="#dm3" x="465.76" y="455.17"/>
<use href="#dm3" x="465.84" y="455.37"/>
<use href="#dm3" x="465.92" y="455.56"/>
<use href="#dm3" x="465.99" y="455.75"/>
<use href="#dm3" x="466.07" y="455.93"/>
<use href="#dm3" x="466.15" y="456.12"/>
<use href="#dm3" x="466.23" y="456.3"/>
<use href="#dm3" x="466.3" y="456.48"/>
<use href="#dm3" x="466.38" y="456.65"/>
<use href="#dm3" x="466.46" y="456.82"/>
<use href="#dm3" x="466.54" y="456.99"/>
<use href="#dm3" x="466.61" y="457.16"/>
<use href="#dm3" x="466.69" y="457.32"/>
<use href="#dm3" x="466.77" y="457.48"/>
<use href="#dm3" x="466.84" y="457.64"/>
<use href="#dm3" x="466.92" y="457.8"/>
<use href="#dm3" x="467" y="457.95"/>
<use href="#dm3" x="467.08" y="458.1"/>
<use href="#dm3" x="467.15" y="458.25"/>
<use href="#dm3" x="467.23" y="458.4"/>
<use href="#dm3" x="467.31" y="458.54"/>
<use href="#dm3" x="467.39" y="458.69"/>
<use href="#dm3" x="467.46" y="458.83"/>
<use href="#dm3" x="467.54" y="458.96"/>
<use href="#dm3" x="467.62" y="459.1"/>
<use href="#dm3" x="467.7" y="459.23"/>
<use href="#dm3" x="467.77" y="459.36"/>
<use href="#dm3" x="467.85" y="459.49"/>
<use href="#dm3" x="467.93" y="459.62"/>
<use href="#dm3" x="468.01" y="459.75"/>
<use href="#dm3" x="468.08" y="459.87"/>
<use href="#dm3" x="468.16" y="459.99"/>
<use href="#dm3" x="468.24" y="460.11"/>
<use href="#dm3" x="468.31" y="460.23"/>
<use href="#dm3" x="468.39" y="460.34"/>
<use href="#dm3" x="468.47" y="460.46"/>
<use href="#dm3" x="468.55" y="460.57"/>
<use href="#dm3" x="468.62" y="460.68"/>
<use href="#dm3" x="468.7" y="460.79"/>
<use href="#dm3" x="468.78" y="460.9"/>
<use href="#dm3" x="468.86" y="461"/>
<use href="#dm3" x="468.93" y="461.1"/>
<use href="#dm3" x="469.01" y="461.21"/>
<use href="#dm3" x="469.09" y="461.31"/>
<use href="#dm3" x="469.17" y="461.41"/>
<use href="#dm3" x="469.24" y="461.5"/>
<use href="#dm3" x="469.32" y="461.6"/>
<use href="#dm3" x="469.4" y="461.69"/>
<use href="#dm3" x="469.47" y="461.79"/>
<use href="#dm3" x="469.55" y="461.88"/>
<use href="#dm3" x="469.63" y="461.97"/>
<use href="#dm3" x="469.71" y="462.05"/>
<use href="#dm3" x="469.78" y="462.14"/>
<use href="#dm3" x="469.86" y="462.23"/>
<use href="#dm3" x="469.94" y="462.31"/>
<use href="#dm3" x="470.02" y="462.39"/>
<use href="#dm3" x="470.09" y="462.48"/>
<use href="#dm3" x="470.17" y="462.56"/>
<use href="#dm3" x="470.25" y="462.64"/>
<use href="#dm3" x="470.33" y="462.71"/>
<use href="#dm3" x="470.4" y="462.79"/>
<use href="#dm3" x="470.48" y="462.87"/>
<use href="#dm3" x="470.56" y="462.94"/>
<use href="#dm3" x="470.63" y="463.01"/>
<use href="#dm3" x="470.71" y="463.09"/>
<use href="#dm3" x="470.79" y="463.16"/>
<use href="#dm3" x="470.87" y="463.23"/>
<use href="#dm3" x="470.94" y="463.29"/>
<use href="#dm3" x="471.02" y="463.36"/>
<use href="#dm3" x="471.1" y="463.43"/>
<use href="#dm3" x="471.18" y="463.49"/>
<use href="#dm3" x="471.25" y="463.56"/>
<use href="#dm3" x="471.33" y="463.62"/>
<use href="#dm3" x="471.41" y="463.68"/>
<use href="#dm3" x="471.49" y="463.75"/>
<use href="#dm3" x="471.56" y="463.81"/>
<use href="#dm3" x="471.64" y="463.87"/>
<use href="#dm3" x="471.72" y="463.92"/>
<use href="#dm3" x="471.8" y="463.98"/>
<use href="#dm3" x="471.87" y="464.04"/>
<use href="#dm3" x="471.95" y="464.1"/>
<use href="#dm3" x="472.03" y="464.15"/>
<use href="#dm3" x="472.1" y="464.2"/>
<use href="#dm3" x="472.18" y="464.26"/>
<use href="#dm3" x="472.26" y="464.31"/>
<use href="#dm3" x="472.34" y="464.36"/>
<use href="#dm3" x="472.41" y="464.41"/>
<use href="#dm3" x="472.49" y="464.46"/>
<use href="#dm3" x="472.57" y="464.51"/>
<use href="#dm3" x="472.65" y="464.56"/>
<use href="#dm3" x="472.72" y="464.61"/>
<use href="#dm3" x="472.8" y="464.66"/>
<use href="#dm3" x="472.88" y="464.7"/>
<use href="#dm3" x="472.96" y="464.75"/>
<use href="#dm3" x="473.03" y="464.79"/>
<use href="#dm3" x="473.11" y="464.84"/>
<use href="#dm3" x="473.19" y="464.88"/>
<use href="#dm3" x="473.26" y="464.92"/>
<use href="#dm3" x="473.34" y="464.96"/>
<use href="#dm3" x="473.42" y="465.01"/>
<use href="#dm3" x="473.5" y="465.05"/>
<use href="#dm3" x="473.57" y="465.09"/>
<use href="#dm3" x="473.65" y="465.13"/>
<use href="#dm3" x="473.73" y="465.16"/>
<use href="#dm3" x="473.81" y="465.2"/>
<use href="#dm3" x="473.88" y="465.24"/>
<use href="#dm3" x="473.96" y="465.28"/>
<use href="#dm3" x="474.04" y="465.31"/>
<use href="#dm3" x="474.12" y="465.35"/>
<use href="#dm3" x="474.19" y="465.39"/>
<use href="#dm3" x="474.27" y="465.42"/>
<use href="#dm3" x="474.35" y="465.45"/>
<use href="#dm3" x="474.43" y="465.49"/>
<use href="#dm3" x="474.5" y="465.52"/>
<use href="#dm3" x="474.58" y="465.55"/>
<use href="#dm3" x="474.66" y="465.59"/>
<use href="#dm3" x="474.73" y="465.62"/>
<use href="#dm3" x="474.81" y="465.65"/>
<use href="#dm3" x="474.89" y="465.68"/>
<use href="#dm3" x="474.97" y="465.71"/>
<use href="#dm3" x="475.04" y="465.74"/>
<use href="#dm3" x="475.12" y="465.77"/>
<use href="#dm3" x="475.2" y="465.8"/>
<use href="#dm3" x="475.28" y="465.83"/>
<use href="#dm3" x="475.35" y="465.85"/>
<use href="#dm3" x="475.43" y="465.88"/>
<use href="#dm3" x="475.51" y="465.91"/>
<use href="#dm3" x="475.59" y="465.93"/>
<use href="#dm3" x="475.66" y="465.96"/>
<use href="#dm3" x="475.74" y="465.99"/>
<use href="#dm3" x="475.82" y="466.01"/>
<use href="#dm3" x="475.89" y="466.04"/>
<use href="#dm3" x="475.97" y="466.06"/>
<use href="#dm3" x="476.05" y="466.08"/>
<use href="#dm3" x="476.13" y="466.11"/>
<use href="#dm3" x="476.2" y="466.13"/>
<use href="#dm3" x="476.28" y="466.16"/>
<use href="#dm3" x="476.36" y="466.18"/>
<use href="#dm3" x="476.44" y="466.2"/>
<use href="#dm3" x="476.51" y="466.22"/>
<use href="#dm3" x="476.59" y="466.24"/>
<use href="#dm3" x="476.67" y="466.27"/>
<use href="#dm3" x="476.75" y="466.29"/>
<use href="#dm3" x="476.82" y="466.31"/>
<use href="#dm3" x="476.9" y="466.33"/>
<use href="#dm3" x="476.98" y="466.35"/>
<use href="#dm3" x="477.06" y="466.37"/>
<use href="#dm3" x="477.13" y="466.39"/>
<use href="#dm3" x="477.21" y="466.41"/>
<use href="#dm3" x="477.29" y="466.42"/>
<use href="#dm3" x="477.36" y="466.44"/>
<use href="#dm3" x="477.44" y="466.46"/>
<use href="#dm3" x="477.52" y="466.48"/>
<use href="#dm3" x="477.6" y="466.5"/>
<use href="#dm3" x="477.67" y="466.51"/>
<use href="#dm3" x="477.75" y="466.53"/>
<use href="#dm3" x="477.83" y="466.55"/>
<use href="#dm3" x="477.91" y="466.56"/>
<use href="#dm3" x="477.98" y="466.58"/>
<use href="#dm3" x="478.06" y="466.6"/>
<use href="#dm3" x="478.14" y="466.61"/>
<use href="#dm3" x="478.22" y="466.63"/>
<use href="#dm3" x="478.29" y="466.64"/>
<use href="#dm3" x="478.37" y="466.66"/>
</g>
<polyline points="464.45,450.64 464.76,452.33 465.07,453.27 465.38,454.15 465.68,454.97 465.99,455.75 466.3,456.48 466.61,457.16 466.92,457.8 467.23,458.4 467.54,458.96 467.85,459.49 468.16,459.99 468.47,460.46 468.78,460.9 469.09,461.31 469.4,461.69 469.71,462.05 470.02,462.39 470.33,462.71 470.63,463.01 470.94,463.29 471.25,463.56 471.56,463.81 471.87,464.04 472.18,464.26 472.49,464.46 472.8,464.66 473.11,464.84 473.42,465.01 473.73,465.16 474.04,465.31 474.35,465.45 474.66,465.59 474.97,465.71 475.28,465.83" fill="none" stroke="#5bb72e" stroke-width="4.2" stroke-linejoin="round" stroke-linecap="butt"/>
<g fill="#fff" stroke="#2250b0" stroke-width="1">
<use href="#dm3" x="486.1" y="428.97"/>
<use href="#dm3" x="486.25" y="431.67"/>
<use href="#dm3" x="486.41" y="434.18"/>
<use href="#dm3" x="486.56" y="436.52"/>
<use href="#dm3" x="486.72" y="438.69"/>
<use href="#dm3" x="486.87" y="440.71"/>
<use href="#dm3" x="487.03" y="442.59"/>
<use href="#dm3" x="487.18" y="444.34"/>
<use href="#dm3" x="487.34" y="445.97"/>
<use href="#dm3" x="487.49" y="447.48"/>
<use href="#dm3" x="487.65" y="448.88"/>
<use href="#dm3" x="487.8" y="450.19"/>
<use href="#dm3" x="487.88" y="450.49"/>
<use href="#dm3" x="487.96" y="450.76"/>
<use href="#dm3" x="488.03" y="451.02"/>
<use href="#dm3" x="488.11" y="451.28"/>
<use href="#dm3" x="488.19" y="451.54"/>
<use href="#dm3" x="488.27" y="451.79"/>
<use href="#dm3" x="488.34" y="452.04"/>
<use href="#dm3" x="488.42" y="452.28"/>
<use href="#dm3" x="488.5" y="452.52"/>
<use href="#dm3" x="488.58" y="452.76"/>
<use href="#dm3" x="488.65" y="452.99"/>
<use href="#dm3" x="488.73" y="453.22"/>
<use href="#dm3" x="488.81" y="453.45"/>
<use href="#dm3" x="488.88" y="453.67"/>
<use href="#dm3" x="488.96" y="453.89"/>
<use href="#dm3" x="489.04" y="454.1"/>
<use href="#dm3" x="489.12" y="454.32"/>
<use href="#dm3" x="489.19" y="454.53"/>
<use href="#dm3" x="489.27" y="454.73"/>
<use href="#dm3" x="489.35" y="454.93"/>
<use href="#dm3" x="489.43" y="455.13"/>
<use href="#dm3" x="489.5" y="455.33"/>
<use href="#dm3" x="489.58" y="455.52"/>
<use href="#dm3" x="489.66" y="455.71"/>
<use href="#dm3" x="489.74" y="455.9"/>
<use href="#dm3" x="489.81" y="456.08"/>
<use href="#dm3" x="489.89" y="456.26"/>
<use href="#dm3" x="489.97" y="456.44"/>
<use href="#dm3" x="490.04" y="456.61"/>
<use href="#dm3" x="490.12" y="456.79"/>
<use href="#dm3" x="490.2" y="456.96"/>
<use href="#dm3" x="490.28" y="457.12"/>
<use href="#dm3" x="490.35" y="457.29"/>
<use href="#dm3" x="490.43" y="457.45"/>
<use href="#dm3" x="490.51" y="457.61"/>
<use href="#dm3" x="490.59" y="457.77"/>
<use href="#dm3" x="490.66" y="457.92"/>
<use href="#dm3" x="490.74" y="458.07"/>
<use href="#dm3" x="490.82" y="458.22"/>
<use href="#dm3" x="490.9" y="458.37"/>
<use href="#dm3" x="490.97" y="458.51"/>
<use href="#dm3" x="491.05" y="458.66"/>
<use href="#dm3" x="491.13" y="458.8"/>
<use href="#dm3" x="491.21" y="458.94"/>
<use href="#dm3" x="491.28" y="459.07"/>
<use href="#dm3" x="491.36" y="459.2"/>
<use href="#dm3" x="491.44" y="459.34"/>
<use href="#dm3" x="491.51" y="459.47"/>
<use href="#dm3" x="491.59" y="459.59"/>
<use href="#dm3" x="491.67" y="459.72"/>
<use href="#dm3" x="491.75" y="459.84"/>
<use href="#dm3" x="491.82" y="459.97"/>
<use href="#dm3" x="491.9" y="460.09"/>
<use href="#dm3" x="491.98" y="460.2"/>
<use href="#dm3" x="492.06" y="460.32"/>
<use href="#dm3" x="492.13" y="460.43"/>
<use href="#dm3" x="492.21" y="460.55"/>
<use href="#dm3" x="492.29" y="460.66"/>
<use href="#dm3" x="492.37" y="460.77"/>
<use href="#dm3" x="492.44" y="460.87"/>
<use href="#dm3" x="492.52" y="460.98"/>
<use href="#dm3" x="492.6" y="461.08"/>
<use href="#dm3" x="492.67" y="461.18"/>
<use href="#dm3" x="492.75" y="461.29"/>
<use href="#dm3" x="492.83" y="461.38"/>
<use href="#dm3" x="492.91" y="461.48"/>
<use href="#dm3" x="492.98" y="461.58"/>
<use href="#dm3" x="493.06" y="461.67"/>
<use href="#dm3" x="493.14" y="461.77"/>
<use href="#dm3" x="493.22" y="461.86"/>
<use href="#dm3" x="493.29" y="461.95"/>
<use href="#dm3" x="493.37" y="462.04"/>
<use href="#dm3" x="493.45" y="462.12"/>
<use href="#dm3" x="493.53" y="462.21"/>
<use href="#dm3" x="493.6" y="462.29"/>
<use href="#dm3" x="493.68" y="462.38"/>
<use href="#dm3" x="493.76" y="462.46"/>
<use href="#dm3" x="493.83" y="462.54"/>
<use href="#dm3" x="493.91" y="462.62"/>
<use href="#dm3" x="493.99" y="462.7"/>
<use href="#dm3" x="494.07" y="462.77"/>
<use href="#dm3" x="494.14" y="462.85"/>
<use href="#dm3" x="494.22" y="462.93"/>
<use href="#dm3" x="494.3" y="463"/>
<use href="#dm3" x="494.38" y="463.07"/>
<use href="#dm3" x="494.45" y="463.14"/>
<use href="#dm3" x="494.53" y="463.21"/>
<use href="#dm3" x="494.61" y="463.28"/>
<use href="#dm3" x="494.69" y="463.35"/>
<use href="#dm3" x="494.76" y="463.42"/>
<use href="#dm3" x="494.84" y="463.48"/>
<use href="#dm3" x="494.92" y="463.55"/>
<use href="#dm3" x="495" y="463.61"/>
<use href="#dm3" x="495.07" y="463.67"/>
<use href="#dm3" x="495.15" y="463.73"/>
<use href="#dm3" x="495.23" y="463.79"/>
<use href="#dm3" x="495.3" y="463.85"/>
<use href="#dm3" x="495.38" y="463.91"/>
<use href="#dm3" x="495.46" y="463.97"/>
<use href="#dm3" x="495.54" y="464.03"/>
<use href="#dm3" x="495.61" y="464.08"/>
<use href="#dm3" x="495.69" y="464.14"/>
<use href="#dm3" x="495.77" y="464.19"/>
<use href="#dm3" x="495.85" y="464.25"/>
<use href="#dm3" x="495.92" y="464.3"/>
<use href="#dm3" x="496" y="464.35"/>
<use href="#dm3" x="496.08" y="464.4"/>
<use href="#dm3" x="496.16" y="464.45"/>
<use href="#dm3" x="496.23" y="464.5"/>
<use href="#dm3" x="496.31" y="464.55"/>
<use href="#dm3" x="496.39" y="464.6"/>
<use href="#dm3" x="496.46" y="464.65"/>
<use href="#dm3" x="496.54" y="464.69"/>
<use href="#dm3" x="496.62" y="464.74"/>
<use href="#dm3" x="496.7" y="464.78"/>
<use href="#dm3" x="496.77" y="464.83"/>
<use href="#dm3" x="496.85" y="464.87"/>
<use href="#dm3" x="496.93" y="464.91"/>
<use href="#dm3" x="497.01" y="464.96"/>
<use href="#dm3" x="497.08" y="465"/>
<use href="#dm3" x="497.16" y="465.04"/>
<use href="#dm3" x="497.24" y="465.08"/>
<use href="#dm3" x="497.32" y="465.12"/>
<use href="#dm3" x="497.39" y="465.16"/>
<use href="#dm3" x="497.47" y="465.19"/>
<use href="#dm3" x="497.55" y="465.23"/>
<use href="#dm3" x="497.63" y="465.27"/>
<use href="#dm3" x="497.7" y="465.31"/>
<use href="#dm3" x="497.78" y="465.34"/>
<use href="#dm3" x="497.86" y="465.38"/>
<use href="#dm3" x="497.93" y="465.41"/>
<use href="#dm3" x="498.01" y="465.45"/>
<use href="#dm3" x="498.09" y="465.48"/>
<use href="#dm3" x="498.17" y="465.51"/>
<use href="#dm3" x="498.24" y="465.55"/>
<use href="#dm3" x="498.32" y="465.58"/>
<use href="#dm3" x="498.4" y="465.61"/>
<use href="#dm3" x="498.48" y="465.64"/>
<use href="#dm3" x="498.55" y="465.67"/>
<use href="#dm3" x="498.63" y="465.7"/>
<use href="#dm3" x="498.71" y="465.73"/>
<use href="#dm3" x="498.79" y="465.76"/>
<use href="#dm3" x="498.86" y="465.79"/>
<use href="#dm3" x="498.94" y="465.82"/>
<use href="#dm3" x="499.02" y="465.85"/>
<use href="#dm3" x="499.09" y="465.87"/>
<use href="#dm3" x="499.17" y="465.9"/>
<use href="#dm3" x="499.25" y="465.93"/>
<use href="#dm3" x="499.33" y="465.95"/>
<use href="#dm3" x="499.4" y="465.98"/>
<use href="#dm3" x="499.48" y="466.01"/>
<use href="#dm3" x="499.56" y="466.03"/>
<use href="#dm3" x="499.64" y="466.06"/>
<use href="#dm3" x="499.71" y="466.08"/>
<use href="#dm3" x="499.79" y="466.1"/>
<use href="#dm3" x="499.87" y="466.13"/>
<use href="#dm3" x="499.95" y="466.15"/>
<use href="#dm3" x="500.02" y="466.17"/>
<use href="#dm3" x="500.1" y="466.2"/>
<use href="#dm3" x="500.18" y="466.22"/>
<use href="#dm3" x="500.26" y="466.24"/>
<use href="#dm3" x="500.33" y="466.26"/>
<use href="#dm3" x="500.41" y="466.28"/>
<use href="#dm3" x="500.49" y="466.3"/>
<use href="#dm3" x="500.56" y="466.32"/>
<use href="#dm3" x="500.64" y="466.34"/>
<use href="#dm3" x="500.72" y="466.36"/>
<use href="#dm3" x="500.8" y="466.38"/>
<use href="#dm3" x="500.87" y="466.4"/>
<use href="#dm3" x="500.95" y="466.42"/>
<use href="#dm3" x="501.03" y="466.44"/>
<use href="#dm3" x="501.11" y="466.46"/>
<use href="#dm3" x="501.18" y="466.47"/>
<use href="#dm3" x="501.26" y="466.49"/>
<use href="#dm3" x="501.34" y="466.51"/>
<use href="#dm3" x="501.42" y="466.53"/>
<use href="#dm3" x="501.49" y="466.54"/>
<use href="#dm3" x="501.57" y="466.56"/>
</g>
<polyline points="487.65,448.88 487.96,450.76 488.27,451.79 488.58,452.76 488.88,453.67 489.19,454.53 489.5,455.33 489.81,456.08 490.12,456.79 490.43,457.45 490.74,458.07 491.05,458.66 491.36,459.2 491.67,459.72 491.98,460.2 492.29,460.66 492.6,461.08 492.91,461.48 493.22,461.86 493.53,462.21 493.83,462.54 494.14,462.85 494.45,463.14 494.76,463.42 495.07,463.67 495.38,463.91 495.69,464.14 496,464.35 496.31,464.55 496.62,464.74 496.93,464.91 497.24,465.08 497.55,465.23 497.86,465.38 498.17,465.51 498.48,465.64" fill="none" stroke="#2250b0" stroke-width="4.2" stroke-linejoin="round" stroke-linecap="butt"/>
<g fill="#fff" stroke="#6dc7d8" stroke-width="1">
<use href="#dm3" x="508.8" y="424.38"/>
<use href="#dm3" x="508.95" y="427.4"/>
<use href="#dm3" x="509.11" y="430.21"/>
<use href="#dm3" x="509.26" y="432.82"/>
<use href="#dm3" x="509.42" y="435.25"/>
<use href="#dm3" x="509.57" y="437.51"/>
<use href="#dm3" x="509.73" y="439.62"/>
<use href="#dm3" x="509.88" y="441.57"/>
<use href="#dm3" x="510.04" y="443.39"/>
<use href="#dm3" x="510.19" y="445.09"/>
<use href="#dm3" x="510.35" y="446.66"/>
<use href="#dm3" x="510.5" y="448.12"/>
<use href="#dm3" x="510.58" y="448.46"/>
<use href="#dm3" x="510.66" y="448.76"/>
<use href="#dm3" x="510.73" y="449.05"/>
<use href="#dm3" x="510.81" y="449.34"/>
<use href="#dm3" x="510.89" y="449.63"/>
<use href="#dm3" x="510.97" y="449.91"/>
<use href="#dm3" x="511.04" y="450.19"/>
<use href="#dm3" x="511.12" y="450.46"/>
<use href="#dm3" x="511.2" y="450.73"/>
<use href="#dm3" x="511.28" y="451"/>
<use href="#dm3" x="511.35" y="451.26"/>
<use href="#dm3" x="511.43" y="451.51"/>
<use href="#dm3" x="511.51" y="451.77"/>
<use href="#dm3" x="511.58" y="452.01"/>
<use href="#dm3" x="511.66" y="452.26"/>
<use href="#dm3" x="511.74" y="452.5"/>
<use href="#dm3" x="511.82" y="452.74"/>
<use href="#dm3" x="511.89" y="452.97"/>
<use href="#dm3" x="511.97" y="453.2"/>
<use href="#dm3" x="512.05" y="453.43"/>
<use href="#dm3" x="512.13" y="453.65"/>
<use href="#dm3" x="512.2" y="453.87"/>
<use href="#dm3" x="512.28" y="454.08"/>
<use href="#dm3" x="512.36" y="454.3"/>
<use href="#dm3" x="512.44" y="454.5"/>
<use href="#dm3" x="512.51" y="454.71"/>
<use href="#dm3" x="512.59" y="454.91"/>
<use href="#dm3" x="512.67" y="455.11"/>
<use href="#dm3" x="512.74" y="455.31"/>
<use href="#dm3" x="512.82" y="455.5"/>
<use href="#dm3" x="512.9" y="455.69"/>
<use href="#dm3" x="512.98" y="455.88"/>
<use href="#dm3" x="513.05" y="456.06"/>
<use href="#dm3" x="513.13" y="456.24"/>
<use href="#dm3" x="513.21" y="456.42"/>
<use href="#dm3" x="513.29" y="456.6"/>
<use href="#dm3" x="513.36" y="456.77"/>
<use href="#dm3" x="513.44" y="456.94"/>
<use href="#dm3" x="513.52" y="457.11"/>
<use href="#dm3" x="513.6" y="457.27"/>
<use href="#dm3" x="513.67" y="457.43"/>
<use href="#dm3" x="513.75" y="457.59"/>
<use href="#dm3" x="513.83" y="457.75"/>
<use href="#dm3" x="513.91" y="457.9"/>
<use href="#dm3" x="513.98" y="458.06"/>
<use href="#dm3" x="514.06" y="458.21"/>
<use href="#dm3" x="514.14" y="458.35"/>
<use href="#dm3" x="514.21" y="458.5"/>
<use href="#dm3" x="514.29" y="458.64"/>
<use href="#dm3" x="514.37" y="458.78"/>
<use href="#dm3" x="514.45" y="458.92"/>
<use href="#dm3" x="514.52" y="459.06"/>
<use href="#dm3" x="514.6" y="459.19"/>
<use href="#dm3" x="514.68" y="459.32"/>
<use href="#dm3" x="514.76" y="459.45"/>
<use href="#dm3" x="514.83" y="459.58"/>
<use href="#dm3" x="514.91" y="459.71"/>
<use href="#dm3" x="514.99" y="459.83"/>
<use href="#dm3" x="515.07" y="459.95"/>
<use href="#dm3" x="515.14" y="460.07"/>
<use href="#dm3" x="515.22" y="460.19"/>
<use href="#dm3" x="515.3" y="460.31"/>
<use href="#dm3" x="515.37" y="460.42"/>
<use href="#dm3" x="515.45" y="460.53"/>
<use href="#dm3" x="515.53" y="460.65"/>
<use href="#dm3" x="515.61" y="460.75"/>
<use href="#dm3" x="515.68" y="460.86"/>
<use href="#dm3" x="515.76" y="460.97"/>
<use href="#dm3" x="515.84" y="461.07"/>
<use href="#dm3" x="515.92" y="461.17"/>
<use href="#dm3" x="515.99" y="461.28"/>
<use href="#dm3" x="516.07" y="461.37"/>
<use href="#dm3" x="516.15" y="461.47"/>
<use href="#dm3" x="516.23" y="461.57"/>
<use href="#dm3" x="516.3" y="461.66"/>
<use href="#dm3" x="516.38" y="461.76"/>
<use href="#dm3" x="516.46" y="461.85"/>
<use href="#dm3" x="516.53" y="461.94"/>
<use href="#dm3" x="516.61" y="462.03"/>
<use href="#dm3" x="516.69" y="462.11"/>
<use href="#dm3" x="516.77" y="462.2"/>
<use href="#dm3" x="516.84" y="462.29"/>
<use href="#dm3" x="516.92" y="462.37"/>
<use href="#dm3" x="517" y="462.45"/>
<use href="#dm3" x="517.08" y="462.53"/>
<use href="#dm3" x="517.15" y="462.61"/>
<use href="#dm3" x="517.23" y="462.69"/>
<use href="#dm3" x="517.31" y="462.77"/>
<use href="#dm3" x="517.39" y="462.84"/>
<use href="#dm3" x="517.46" y="462.92"/>
<use href="#dm3" x="517.54" y="462.99"/>
<use href="#dm3" x="517.62" y="463.06"/>
<use href="#dm3" x="517.7" y="463.13"/>
<use href="#dm3" x="517.77" y="463.2"/>
<use href="#dm3" x="517.85" y="463.27"/>
<use href="#dm3" x="517.93" y="463.34"/>
<use href="#dm3" x="518" y="463.41"/>
<use href="#dm3" x="518.08" y="463.47"/>
<use href="#dm3" x="518.16" y="463.54"/>
<use href="#dm3" x="518.24" y="463.6"/>
<use href="#dm3" x="518.31" y="463.67"/>
<use href="#dm3" x="518.39" y="463.73"/>
<use href="#dm3" x="518.47" y="463.79"/>
<use href="#dm3" x="518.55" y="463.85"/>
<use href="#dm3" x="518.62" y="463.91"/>
<use href="#dm3" x="518.7" y="463.96"/>
<use href="#dm3" x="518.78" y="464.02"/>
<use href="#dm3" x="518.86" y="464.08"/>
<use href="#dm3" x="518.93" y="464.13"/>
<use href="#dm3" x="519.01" y="464.19"/>
<use href="#dm3" x="519.09" y="464.24"/>
<use href="#dm3" x="519.16" y="464.29"/>
<use href="#dm3" x="519.24" y="464.35"/>
<use href="#dm3" x="519.32" y="464.4"/>
<use href="#dm3" x="519.4" y="464.45"/>
<use href="#dm3" x="519.47" y="464.5"/>
<use href="#dm3" x="519.55" y="464.55"/>
<use href="#dm3" x="519.63" y="464.59"/>
<use href="#dm3" x="519.71" y="464.64"/>
<use href="#dm3" x="519.78" y="464.69"/>
<use href="#dm3" x="519.86" y="464.73"/>
<use href="#dm3" x="519.94" y="464.78"/>
<use href="#dm3" x="520.02" y="464.82"/>
<use href="#dm3" x="520.09" y="464.87"/>
<use href="#dm3" x="520.17" y="464.91"/>
<use href="#dm3" x="520.25" y="464.95"/>
<use href="#dm3" x="520.33" y="464.99"/>
<use href="#dm3" x="520.4" y="465.03"/>
<use href="#dm3" x="520.48" y="465.07"/>
<use href="#dm3" x="520.56" y="465.11"/>
<use href="#dm3" x="520.63" y="465.15"/>
<use href="#dm3" x="520.71" y="465.19"/>
<use href="#dm3" x="520.79" y="465.23"/>
<use href="#dm3" x="520.87" y="465.27"/>
<use href="#dm3" x="520.94" y="465.3"/>
<use href="#dm3" x="521.02" y="465.34"/>
<use href="#dm3" x="521.1" y="465.37"/>
<use href="#dm3" x="521.18" y="465.41"/>
<use href="#dm3" x="521.25" y="465.44"/>
<use href="#dm3" x="521.33" y="465.48"/>
<use href="#dm3" x="521.41" y="465.51"/>
<use href="#dm3" x="521.49" y="465.54"/>
<use href="#dm3" x="521.56" y="465.58"/>
<use href="#dm3" x="521.64" y="465.61"/>
<use href="#dm3" x="521.72" y="465.64"/>
<use href="#dm3" x="521.79" y="465.67"/>
<use href="#dm3" x="521.87" y="465.7"/>
<use href="#dm3" x="521.95" y="465.73"/>
<use href="#dm3" x="522.03" y="465.76"/>
<use href="#dm3" x="522.1" y="465.79"/>
<use href="#dm3" x="522.18" y="465.82"/>
<use href="#dm3" x="522.26" y="465.84"/>
<use href="#dm3" x="522.34" y="465.87"/>
<use href="#dm3" x="522.41" y="465.9"/>
<use href="#dm3" x="522.49" y="465.93"/>
<use href="#dm3" x="522.57" y="465.95"/>
<use href="#dm3" x="522.65" y="465.98"/>
<use href="#dm3" x="522.72" y="466"/>
<use href="#dm3" x="522.8" y="466.03"/>
<use href="#dm3" x="522.88" y="466.05"/>
<use href="#dm3" x="522.96" y="466.08"/>
<use href="#dm3" x="523.03" y="466.1"/>
<use href="#dm3" x="523.11" y="466.12"/>
<use href="#dm3" x="523.19" y="466.15"/>
<use href="#dm3" x="523.26" y="466.17"/>
<use href="#dm3" x="523.34" y="466.19"/>
<use href="#dm3" x="523.42" y="466.22"/>
<use href="#dm3" x="523.5" y="466.24"/>
<use href="#dm3" x="523.57" y="466.26"/>
<use href="#dm3" x="523.65" y="466.28"/>
<use href="#dm3" x="523.73" y="466.3"/>
<use href="#dm3" x="523.81" y="466.32"/>
<use href="#dm3" x="523.88" y="466.34"/>
<use href="#dm3" x="523.96" y="466.36"/>
<use href="#dm3" x="524.04" y="466.38"/>
<use href="#dm3" x="524.12" y="466.4"/>
<use href="#dm3" x="524.19" y="466.42"/>
<use href="#dm3" x="524.27" y="466.44"/>
</g>
<polyline points="510.35,446.66 510.66,448.76 510.97,449.91 511.28,451 511.58,452.01 511.89,452.97 512.2,453.87 512.51,454.71 512.82,455.5 513.13,456.24 513.44,456.94 513.75,457.59 514.06,458.21 514.37,458.78 514.68,459.32 514.99,459.83 515.3,460.31 515.61,460.75 515.92,461.17 516.23,461.57 516.53,461.94 516.84,462.29 517.15,462.61 517.46,462.92 517.77,463.2 518.08,463.47 518.39,463.73 518.7,463.96 519.01,464.19 519.32,464.4 519.63,464.59 519.94,464.78 520.25,464.95 520.56,465.11 520.87,465.27 521.18,465.41" fill="none" stroke="#6dc7d8" stroke-width="4.2" stroke-linejoin="round" stroke-linecap="butt"/>
<g fill="#fff" stroke="#b34ea9" stroke-width="1">
<use href="#dm3" x="532" y="420.31"/>
<use href="#dm3" x="532.15" y="423.62"/>
<use href="#dm3" x="532.31" y="426.69"/>
<use href="#dm3" x="532.46" y="429.55"/>
<use href="#dm3" x="532.62" y="432.21"/>
<use href="#dm3" x="532.77" y="434.68"/>
<use href="#dm3" x="532.93" y="436.99"/>
<use href="#dm3" x="533.08" y="439.13"/>
<use href="#dm3" x="533.24" y="441.12"/>
<use href="#dm3" x="533.39" y="442.97"/>
<use href="#dm3" x="533.55" y="444.69"/>
<use href="#dm3" x="533.7" y="446.29"/>
<use href="#dm3" x="533.78" y="446.65"/>
<use href="#dm3" x="533.86" y="446.98"/>
<use href="#dm3" x="533.93" y="447.31"/>
<use href="#dm3" x="534.01" y="447.63"/>
<use href="#dm3" x="534.09" y="447.94"/>
<use href="#dm3" x="534.17" y="448.25"/>
<use href="#dm3" x="534.24" y="448.55"/>
<use href="#dm3" x="534.32" y="448.85"/>
<use href="#dm3" x="534.4" y="449.14"/>
<use href="#dm3" x="534.48" y="449.43"/>
<use href="#dm3" x="534.55" y="449.72"/>
<use href="#dm3" x="534.63" y="450"/>
<use href="#dm3" x="534.71" y="450.28"/>
<use href="#dm3" x="534.78" y="450.55"/>
<use href="#dm3" x="534.86" y="450.82"/>
<use href="#dm3" x="534.94" y="451.08"/>
<use href="#dm3" x="535.02" y="451.34"/>
<use href="#dm3" x="535.09" y="451.59"/>
<use href="#dm3" x="535.17" y="451.85"/>
<use href="#dm3" x="535.25" y="452.09"/>
<use href="#dm3" x="535.33" y="452.34"/>
<use href="#dm3" x="535.4" y="452.58"/>
<use href="#dm3" x="535.48" y="452.81"/>
<use href="#dm3" x="535.56" y="453.04"/>
<use href="#dm3" x="535.64" y="453.27"/>
<use href="#dm3" x="535.71" y="453.5"/>
<use href="#dm3" x="535.79" y="453.72"/>
<use href="#dm3" x="535.87" y="453.94"/>
<use href="#dm3" x="535.94" y="454.15"/>
<use href="#dm3" x="536.02" y="454.36"/>
<use href="#dm3" x="536.1" y="454.57"/>
<use href="#dm3" x="536.18" y="454.77"/>
<use href="#dm3" x="536.25" y="454.98"/>
<use href="#dm3" x="536.33" y="455.17"/>
<use href="#dm3" x="536.41" y="455.37"/>
<use href="#dm3" x="536.49" y="455.56"/>
<use href="#dm3" x="536.56" y="455.75"/>
<use href="#dm3" x="536.64" y="455.94"/>
<use href="#dm3" x="536.72" y="456.12"/>
<use href="#dm3" x="536.8" y="456.3"/>
<use href="#dm3" x="536.87" y="456.48"/>
<use href="#dm3" x="536.95" y="456.65"/>
<use href="#dm3" x="537.03" y="456.82"/>
<use href="#dm3" x="537.11" y="456.99"/>
<use href="#dm3" x="537.18" y="457.16"/>
<use href="#dm3" x="537.26" y="457.32"/>
<use href="#dm3" x="537.34" y="457.48"/>
<use href="#dm3" x="537.41" y="457.64"/>
<use href="#dm3" x="537.49" y="457.8"/>
<use href="#dm3" x="537.57" y="457.95"/>
<use href="#dm3" x="537.65" y="458.1"/>
<use href="#dm3" x="537.72" y="458.25"/>
<use href="#dm3" x="537.8" y="458.4"/>
<use href="#dm3" x="537.88" y="458.54"/>
<use href="#dm3" x="537.96" y="458.69"/>
<use href="#dm3" x="538.03" y="458.83"/>
<use href="#dm3" x="538.11" y="458.96"/>
<use href="#dm3" x="538.19" y="459.1"/>
<use href="#dm3" x="538.27" y="459.23"/>
<use href="#dm3" x="538.34" y="459.37"/>
<use href="#dm3" x="538.42" y="459.49"/>
<use href="#dm3" x="538.5" y="459.62"/>
<use href="#dm3" x="538.57" y="459.75"/>
<use href="#dm3" x="538.65" y="459.87"/>
<use href="#dm3" x="538.73" y="459.99"/>
<use href="#dm3" x="538.81" y="460.11"/>
<use href="#dm3" x="538.88" y="460.23"/>
<use href="#dm3" x="538.96" y="460.34"/>
<use href="#dm3" x="539.04" y="460.46"/>
<use href="#dm3" x="539.12" y="460.57"/>
<use href="#dm3" x="539.19" y="460.68"/>
<use href="#dm3" x="539.27" y="460.79"/>
<use href="#dm3" x="539.35" y="460.9"/>
<use href="#dm3" x="539.43" y="461"/>
<use href="#dm3" x="539.5" y="461.1"/>
<use href="#dm3" x="539.58" y="461.21"/>
<use href="#dm3" x="539.66" y="461.31"/>
<use href="#dm3" x="539.74" y="461.41"/>
<use href="#dm3" x="539.81" y="461.5"/>
<use href="#dm3" x="539.89" y="461.6"/>
<use href="#dm3" x="539.97" y="461.69"/>
<use href="#dm3" x="540.04" y="461.79"/>
<use href="#dm3" x="540.12" y="461.88"/>
<use href="#dm3" x="540.2" y="461.97"/>
<use href="#dm3" x="540.28" y="462.06"/>
<use href="#dm3" x="540.35" y="462.14"/>
<use href="#dm3" x="540.43" y="462.23"/>
<use href="#dm3" x="540.51" y="462.31"/>
<use href="#dm3" x="540.59" y="462.4"/>
<use href="#dm3" x="540.66" y="462.48"/>
<use href="#dm3" x="540.74" y="462.56"/>
<use href="#dm3" x="540.82" y="462.64"/>
<use href="#dm3" x="540.9" y="462.71"/>
<use href="#dm3" x="540.97" y="462.79"/>
<use href="#dm3" x="541.05" y="462.87"/>
<use href="#dm3" x="541.13" y="462.94"/>
<use href="#dm3" x="541.2" y="463.01"/>
<use href="#dm3" x="541.28" y="463.09"/>
<use href="#dm3" x="541.36" y="463.16"/>
<use href="#dm3" x="541.44" y="463.23"/>
<use href="#dm3" x="541.51" y="463.3"/>
<use href="#dm3" x="541.59" y="463.36"/>
<use href="#dm3" x="541.67" y="463.43"/>
<use href="#dm3" x="541.75" y="463.5"/>
<use href="#dm3" x="541.82" y="463.56"/>
<use href="#dm3" x="541.9" y="463.62"/>
<use href="#dm3" x="541.98" y="463.69"/>
<use href="#dm3" x="542.06" y="463.75"/>
<use href="#dm3" x="542.13" y="463.81"/>
<use href="#dm3" x="542.21" y="463.87"/>
<use href="#dm3" x="542.29" y="463.93"/>
<use href="#dm3" x="542.36" y="463.98"/>
<use href="#dm3" x="542.44" y="464.04"/>
<use href="#dm3" x="542.52" y="464.1"/>
<use href="#dm3" x="542.6" y="464.15"/>
<use href="#dm3" x="542.67" y="464.2"/>
<use href="#dm3" x="542.75" y="464.26"/>
<use href="#dm3" x="542.83" y="464.31"/>
<use href="#dm3" x="542.91" y="464.36"/>
<use href="#dm3" x="542.98" y="464.41"/>
<use href="#dm3" x="543.06" y="464.46"/>
<use href="#dm3" x="543.14" y="464.51"/>
<use href="#dm3" x="543.22" y="464.56"/>
<use href="#dm3" x="543.29" y="464.61"/>
<use href="#dm3" x="543.37" y="464.66"/>
<use href="#dm3" x="543.45" y="464.7"/>
<use href="#dm3" x="543.53" y="464.75"/>
<use href="#dm3" x="543.6" y="464.79"/>
<use href="#dm3" x="543.68" y="464.84"/>
<use href="#dm3" x="543.76" y="464.88"/>
<use href="#dm3" x="543.83" y="464.92"/>
<use href="#dm3" x="543.91" y="464.96"/>
<use href="#dm3" x="543.99" y="465.01"/>
<use href="#dm3" x="544.07" y="465.05"/>
<use href="#dm3" x="544.14" y="465.09"/>
<use href="#dm3" x="544.22" y="465.13"/>
<use href="#dm3" x="544.3" y="465.16"/>
<use href="#dm3" x="544.38" y="465.2"/>
<use href="#dm3" x="544.45" y="465.24"/>
<use href="#dm3" x="544.53" y="465.28"/>
<use href="#dm3" x="544.61" y="465.31"/>
<use href="#dm3" x="544.69" y="465.35"/>
<use href="#dm3" x="544.76" y="465.39"/>
<use href="#dm3" x="544.84" y="465.42"/>
<use href="#dm3" x="544.92" y="465.45"/>
<use href="#dm3" x="544.99" y="465.49"/>
<use href="#dm3" x="545.07" y="465.52"/>
<use href="#dm3" x="545.15" y="465.55"/>
<use href="#dm3" x="545.23" y="465.59"/>
<use href="#dm3" x="545.3" y="465.62"/>
<use href="#dm3" x="545.38" y="465.65"/>
<use href="#dm3" x="545.46" y="465.68"/>
<use href="#dm3" x="545.54" y="465.71"/>
<use href="#dm3" x="545.61" y="465.74"/>
<use href="#dm3" x="545.69" y="465.77"/>
<use href="#dm3" x="545.77" y="465.8"/>
<use href="#dm3" x="545.85" y="465.83"/>
<use href="#dm3" x="545.92" y="465.85"/>
<use href="#dm3" x="546" y="465.88"/>
<use href="#dm3" x="546.08" y="465.91"/>
<use href="#dm3" x="546.16" y="465.93"/>
<use href="#dm3" x="546.23" y="465.96"/>
<use href="#dm3" x="546.31" y="465.99"/>
<use href="#dm3" x="546.39" y="466.01"/>
<use href="#dm3" x="546.46" y="466.04"/>
<use href="#dm3" x="546.54" y="466.06"/>
<use href="#dm3" x="546.62" y="466.09"/>
<use href="#dm3" x="546.7" y="466.11"/>
<use href="#dm3" x="546.77" y="466.13"/>
<use href="#dm3" x="546.85" y="466.16"/>
<use href="#dm3" x="546.93" y="466.18"/>
<use href="#dm3" x="547.01" y="466.2"/>
<use href="#dm3" x="547.08" y="466.22"/>
<use href="#dm3" x="547.16" y="466.24"/>
<use href="#dm3" x="547.24" y="466.27"/>
<use href="#dm3" x="547.32" y="466.29"/>
<use href="#dm3" x="547.39" y="466.31"/>
<use href="#dm3" x="547.47" y="466.33"/>
</g>
<polyline points="533.55,444.69 533.86,446.98 534.17,448.25 534.48,449.43 534.78,450.55 535.09,451.59 535.4,452.58 535.71,453.5 536.02,454.36 536.33,455.17 536.64,455.94 536.95,456.65 537.26,457.32 537.57,457.95 537.88,458.54 538.19,459.1 538.5,459.62 538.81,460.11 539.12,460.57 539.43,461 539.74,461.41 540.04,461.79 540.35,462.14 540.66,462.48 540.97,462.79 541.28,463.09 541.59,463.36 541.9,463.62 542.21,463.87 542.52,464.1 542.83,464.31 543.14,464.51 543.45,464.7 543.76,464.88 544.07,465.05 544.38,465.2" fill="none" stroke="#b34ea9" stroke-width="4.2" stroke-linejoin="round" stroke-linecap="butt"/>
<g fill="#fff" stroke="#e8e036" stroke-width="1">
<use href="#dm3" x="554.9" y="415.87"/>
<use href="#dm3" x="555.05" y="419.48"/>
<use href="#dm3" x="555.21" y="422.85"/>
<use href="#dm3" x="555.36" y="425.98"/>
<use href="#dm3" x="555.52" y="428.89"/>
<use href="#dm3" x="555.67" y="431.59"/>
<use href="#dm3" x="555.83" y="434.11"/>
<use href="#dm3" x="555.98" y="436.45"/>
<use href="#dm3" x="556.14" y="438.63"/>
<use href="#dm3" x="556.29" y="440.65"/>
<use href="#dm3" x="556.45" y="442.54"/>
<use href="#dm3" x="556.6" y="444.29"/>
<use href="#dm3" x="556.68" y="444.69"/>
<use href="#dm3" x="556.76" y="445.05"/>
<use href="#dm3" x="556.83" y="445.4"/>
<use href="#dm3" x="556.91" y="445.75"/>
<use href="#dm3" x="556.99" y="446.09"/>
<use href="#dm3" x="557.07" y="446.43"/>
<use href="#dm3" x="557.14" y="446.76"/>
<use href="#dm3" x="557.22" y="447.09"/>
<use href="#dm3" x="557.3" y="447.41"/>
<use href="#dm3" x="557.38" y="447.73"/>
<use href="#dm3" x="557.45" y="448.04"/>
<use href="#dm3" x="557.53" y="448.35"/>
<use href="#dm3" x="557.61" y="448.65"/>
<use href="#dm3" x="557.68" y="448.95"/>
<use href="#dm3" x="557.76" y="449.24"/>
<use href="#dm3" x="557.84" y="449.53"/>
<use href="#dm3" x="557.92" y="449.81"/>
<use href="#dm3" x="557.99" y="450.09"/>
<use href="#dm3" x="558.07" y="450.37"/>
<use href="#dm3" x="558.15" y="450.64"/>
<use href="#dm3" x="558.23" y="450.9"/>
<use href="#dm3" x="558.3" y="451.16"/>
<use href="#dm3" x="558.38" y="451.42"/>
<use href="#dm3" x="558.46" y="451.68"/>
<use href="#dm3" x="558.54" y="451.93"/>
<use href="#dm3" x="558.61" y="452.17"/>
<use href="#dm3" x="558.69" y="452.41"/>
<use href="#dm3" x="558.77" y="452.65"/>
<use href="#dm3" x="558.84" y="452.89"/>
<use href="#dm3" x="558.92" y="453.12"/>
<use href="#dm3" x="559" y="453.35"/>
<use href="#dm3" x="559.08" y="453.57"/>
<use href="#dm3" x="559.15" y="453.79"/>
<use href="#dm3" x="559.23" y="454.01"/>
<use href="#dm3" x="559.31" y="454.22"/>
<use href="#dm3" x="559.39" y="454.43"/>
<use href="#dm3" x="559.46" y="454.64"/>
<use href="#dm3" x="559.54" y="454.84"/>
<use href="#dm3" x="559.62" y="455.04"/>
<use href="#dm3" x="559.7" y="455.24"/>
<use href="#dm3" x="559.77" y="455.43"/>
<use href="#dm3" x="559.85" y="455.62"/>
<use href="#dm3" x="559.93" y="455.81"/>
<use href="#dm3" x="560.01" y="456"/>
<use href="#dm3" x="560.08" y="456.18"/>
<use href="#dm3" x="560.16" y="456.36"/>
<use href="#dm3" x="560.24" y="456.53"/>
<use href="#dm3" x="560.31" y="456.71"/>
<use href="#dm3" x="560.39" y="456.88"/>
<use href="#dm3" x="560.47" y="457.05"/>
<use href="#dm3" x="560.55" y="457.21"/>
<use href="#dm3" x="560.62" y="457.38"/>
<use href="#dm3" x="560.7" y="457.54"/>
<use href="#dm3" x="560.78" y="457.69"/>
<use href="#dm3" x="560.86" y="457.85"/>
<use href="#dm3" x="560.93" y="458"/>
<use href="#dm3" x="561.01" y="458.15"/>
<use href="#dm3" x="561.09" y="458.3"/>
<use href="#dm3" x="561.17" y="458.45"/>
<use href="#dm3" x="561.24" y="458.59"/>
<use href="#dm3" x="561.32" y="458.73"/>
<use href="#dm3" x="561.4" y="458.87"/>
<use href="#dm3" x="561.47" y="459.01"/>
<use href="#dm3" x="561.55" y="459.14"/>
<use href="#dm3" x="561.63" y="459.28"/>
<use href="#dm3" x="561.71" y="459.41"/>
<use href="#dm3" x="561.78" y="459.54"/>
<use href="#dm3" x="561.86" y="459.66"/>
<use href="#dm3" x="561.94" y="459.79"/>
<use href="#dm3" x="562.02" y="459.91"/>
<use href="#dm3" x="562.09" y="460.03"/>
<use href="#dm3" x="562.17" y="460.15"/>
<use href="#dm3" x="562.25" y="460.27"/>
<use href="#dm3" x="562.33" y="460.38"/>
<use href="#dm3" x="562.4" y="460.49"/>
<use href="#dm3" x="562.48" y="460.61"/>
<use href="#dm3" x="562.56" y="460.72"/>
<use href="#dm3" x="562.63" y="460.82"/>
<use href="#dm3" x="562.71" y="460.93"/>
<use href="#dm3" x="562.79" y="461.04"/>
<use href="#dm3" x="562.87" y="461.14"/>
<use href="#dm3" x="562.94" y="461.24"/>
<use href="#dm3" x="563.02" y="461.34"/>
<use href="#dm3" x="563.1" y="461.44"/>
<use href="#dm3" x="563.18" y="461.53"/>
<use href="#dm3" x="563.25" y="461.63"/>
<use href="#dm3" x="563.33" y="461.72"/>
<use href="#dm3" x="563.41" y="461.82"/>
<use href="#dm3" x="563.49" y="461.91"/>
<use href="#dm3" x="563.56" y="462"/>
<use href="#dm3" x="563.64" y="462.08"/>
<use href="#dm3" x="563.72" y="462.17"/>
<use href="#dm3" x="563.8" y="462.26"/>
<use href="#dm3" x="563.87" y="462.34"/>
<use href="#dm3" x="563.95" y="462.42"/>
<use href="#dm3" x="564.03" y="462.5"/>
<use href="#dm3" x="564.1" y="462.58"/>
<use href="#dm3" x="564.18" y="462.66"/>
<use href="#dm3" x="564.26" y="462.74"/>
<use href="#dm3" x="564.34" y="462.82"/>
<use href="#dm3" x="564.41" y="462.89"/>
<use href="#dm3" x="564.49" y="462.97"/>
<use href="#dm3" x="564.57" y="463.04"/>
<use href="#dm3" x="564.65" y="463.11"/>
<use href="#dm3" x="564.72" y="463.18"/>
<use href="#dm3" x="564.8" y="463.25"/>
<use href="#dm3" x="564.88" y="463.32"/>
<use href="#dm3" x="564.96" y="463.38"/>
<use href="#dm3" x="565.03" y="463.45"/>
<use href="#dm3" x="565.11" y="463.52"/>
<use href="#dm3" x="565.19" y="463.58"/>
<use href="#dm3" x="565.26" y="463.64"/>
<use href="#dm3" x="565.34" y="463.71"/>
<use href="#dm3" x="565.42" y="463.77"/>
<use href="#dm3" x="565.5" y="463.83"/>
<use href="#dm3" x="565.57" y="463.89"/>
<use href="#dm3" x="565.65" y="463.94"/>
<use href="#dm3" x="565.73" y="464"/>
<use href="#dm3" x="565.81" y="464.06"/>
<use href="#dm3" x="565.88" y="464.11"/>
<use href="#dm3" x="565.96" y="464.17"/>
<use href="#dm3" x="566.04" y="464.22"/>
<use href="#dm3" x="566.12" y="464.28"/>
<use href="#dm3" x="566.19" y="464.33"/>
<use href="#dm3" x="566.27" y="464.38"/>
<use href="#dm3" x="566.35" y="464.43"/>
<use href="#dm3" x="566.43" y="464.48"/>
<use href="#dm3" x="566.5" y="464.53"/>
<use href="#dm3" x="566.58" y="464.58"/>
<use href="#dm3" x="566.66" y="464.62"/>
<use href="#dm3" x="566.73" y="464.67"/>
<use href="#dm3" x="566.81" y="464.72"/>
<use href="#dm3" x="566.89" y="464.76"/>
<use href="#dm3" x="566.97" y="464.81"/>
<use href="#dm3" x="567.04" y="464.85"/>
<use href="#dm3" x="567.12" y="464.89"/>
<use href="#dm3" x="567.2" y="464.94"/>
<use href="#dm3" x="567.28" y="464.98"/>
<use href="#dm3" x="567.35" y="465.02"/>
<use href="#dm3" x="567.43" y="465.06"/>
<use href="#dm3" x="567.51" y="465.1"/>
<use href="#dm3" x="567.59" y="465.14"/>
<use href="#dm3" x="567.66" y="465.18"/>
<use href="#dm3" x="567.74" y="465.22"/>
<use href="#dm3" x="567.82" y="465.25"/>
<use href="#dm3" x="567.89" y="465.29"/>
<use href="#dm3" x="567.97" y="465.33"/>
<use href="#dm3" x="568.05" y="465.36"/>
<use href="#dm3" x="568.13" y="465.4"/>
<use href="#dm3" x="568.2" y="465.43"/>
<use href="#dm3" x="568.28" y="465.47"/>
<use href="#dm3" x="568.36" y="465.5"/>
<use href="#dm3" x="568.44" y="465.53"/>
<use href="#dm3" x="568.51" y="465.56"/>
<use href="#dm3" x="568.59" y="465.6"/>
<use href="#dm3" x="568.67" y="465.63"/>
<use href="#dm3" x="568.75" y="465.66"/>
<use href="#dm3" x="568.82" y="465.69"/>
<use href="#dm3" x="568.9" y="465.72"/>
<use href="#dm3" x="568.98" y="465.75"/>
<use href="#dm3" x="569.06" y="465.78"/>
<use href="#dm3" x="569.13" y="465.81"/>
<use href="#dm3" x="569.21" y="465.83"/>
<use href="#dm3" x="569.29" y="465.86"/>
<use href="#dm3" x="569.36" y="465.89"/>
<use href="#dm3" x="569.44" y="465.92"/>
<use href="#dm3" x="569.52" y="465.94"/>
<use href="#dm3" x="569.6" y="465.97"/>
<use href="#dm3" x="569.67" y="465.99"/>
<use href="#dm3" x="569.75" y="466.02"/>
<use href="#dm3" x="569.83" y="466.04"/>
<use href="#dm3" x="569.91" y="466.07"/>
<use href="#dm3" x="569.98" y="466.09"/>
<use href="#dm3" x="570.06" y="466.12"/>
<use href="#dm3" x="570.14" y="466.14"/>
<use href="#dm3" x="570.22" y="466.16"/>
<use href="#dm3" x="570.29" y="466.19"/>
<use href="#dm3" x="570.37" y="466.21"/>
</g>
<polyline points="556.45,442.54 556.76,445.05 557.07,446.43 557.38,447.73 557.68,448.95 557.99,450.09 558.3,451.16 558.61,452.17 558.92,453.12 559.23,454.01 559.54,454.84 559.85,455.62 560.16,456.36 560.47,457.05 560.78,457.69 561.09,458.3 561.4,458.87 561.71,459.41 562.02,459.91 562.33,460.38 562.63,460.82 562.94,461.24 563.25,461.63 563.56,462 563.87,462.34 564.18,462.66 564.49,462.97 564.8,463.25 565.11,463.52 565.42,463.77 565.73,464 566.04,464.22 566.35,464.43 566.66,464.62 566.97,464.81 567.28,464.98" fill="none" stroke="#e8e036" stroke-width="4.2" stroke-linejoin="round" stroke-linecap="butt"/>
<g fill="#fff" stroke="#7f7f22" stroke-width="1">
<use href="#dm3" x="577.7" y="412.03"/>
<use href="#dm3" x="577.85" y="415.91"/>
<use href="#dm3" x="578.01" y="419.53"/>
<use href="#dm3" x="578.16" y="422.89"/>
<use href="#dm3" x="578.32" y="426.01"/>
<use href="#dm3" x="578.47" y="428.92"/>
<use href="#dm3" x="578.63" y="431.62"/>
<use href="#dm3" x="578.78" y="434.14"/>
<use href="#dm3" x="578.94" y="436.48"/>
<use href="#dm3" x="579.09" y="438.65"/>
<use href="#dm3" x="579.25" y="440.68"/>
<use href="#dm3" x="579.4" y="442.56"/>
<use href="#dm3" x="579.48" y="442.99"/>
<use href="#dm3" x="579.56" y="443.37"/>
<use href="#dm3" x="579.63" y="443.75"/>
<use href="#dm3" x="579.71" y="444.13"/>
<use href="#dm3" x="579.79" y="444.5"/>
<use href="#dm3" x="579.87" y="444.86"/>
<use href="#dm3" x="579.94" y="445.21"/>
<use href="#dm3" x="580.02" y="445.57"/>
<use href="#dm3" x="580.1" y="445.91"/>
<use href="#dm3" x="580.18" y="446.25"/>
<use href="#dm3" x="580.25" y="446.59"/>
<use href="#dm3" x="580.33" y="446.92"/>
<use href="#dm3" x="580.41" y="447.24"/>
<use href="#dm3" x="580.48" y="447.56"/>
<use href="#dm3" x="580.56" y="447.88"/>
<use href="#dm3" x="580.64" y="448.19"/>
<use href="#dm3" x="580.72" y="448.49"/>
<use href="#dm3" x="580.79" y="448.79"/>
<use href="#dm3" x="580.87" y="449.09"/>
<use href="#dm3" x="580.95" y="449.38"/>
<use href="#dm3" x="581.03" y="449.66"/>
<use href="#dm3" x="581.1" y="449.94"/>
<use href="#dm3" x="581.18" y="450.22"/>
<use href="#dm3" x="581.26" y="450.49"/>
<use href="#dm3" x="581.34" y="450.76"/>
<use href="#dm3" x="581.41" y="451.03"/>
<use href="#dm3" x="581.49" y="451.29"/>
<use href="#dm3" x="581.57" y="451.54"/>
<use href="#dm3" x="581.64" y="451.8"/>
<use href="#dm3" x="581.72" y="452.04"/>
<use href="#dm3" x="581.8" y="452.29"/>
<use href="#dm3" x="581.88" y="452.53"/>
<use href="#dm3" x="581.95" y="452.76"/>
<use href="#dm3" x="582.03" y="453"/>
<use href="#dm3" x="582.11" y="453.23"/>
<use href="#dm3" x="582.19" y="453.45"/>
<use href="#dm3" x="582.26" y="453.67"/>
<use href="#dm3" x="582.34" y="453.89"/>
<use href="#dm3" x="582.42" y="454.11"/>
<use href="#dm3" x="582.5" y="454.32"/>
<use href="#dm3" x="582.57" y="454.53"/>
<use href="#dm3" x="582.65" y="454.73"/>
<use href="#dm3" x="582.73" y="454.94"/>
<use href="#dm3" x="582.81" y="455.13"/>
<use href="#dm3" x="582.88" y="455.33"/>
<use href="#dm3" x="582.96" y="455.52"/>
<use href="#dm3" x="583.04" y="455.71"/>
<use href="#dm3" x="583.11" y="455.9"/>
<use href="#dm3" x="583.19" y="456.08"/>
<use href="#dm3" x="583.27" y="456.26"/>
<use href="#dm3" x="583.35" y="456.44"/>
<use href="#dm3" x="583.42" y="456.62"/>
<use href="#dm3" x="583.5" y="456.79"/>
<use href="#dm3" x="583.58" y="456.96"/>
<use href="#dm3" x="583.66" y="457.13"/>
<use href="#dm3" x="583.73" y="457.29"/>
<use href="#dm3" x="583.81" y="457.45"/>
<use href="#dm3" x="583.89" y="457.61"/>
<use href="#dm3" x="583.97" y="457.77"/>
<use href="#dm3" x="584.04" y="457.92"/>
<use href="#dm3" x="584.12" y="458.07"/>
<use href="#dm3" x="584.2" y="458.22"/>
<use href="#dm3" x="584.27" y="458.37"/>
<use href="#dm3" x="584.35" y="458.52"/>
<use href="#dm3" x="584.43" y="458.66"/>
<use href="#dm3" x="584.51" y="458.8"/>
<use href="#dm3" x="584.58" y="458.94"/>
<use href="#dm3" x="584.66" y="459.07"/>
<use href="#dm3" x="584.74" y="459.21"/>
<use href="#dm3" x="584.82" y="459.34"/>
<use href="#dm3" x="584.89" y="459.47"/>
<use href="#dm3" x="584.97" y="459.6"/>
<use href="#dm3" x="585.05" y="459.72"/>
<use href="#dm3" x="585.13" y="459.85"/>
<use href="#dm3" x="585.2" y="459.97"/>
<use href="#dm3" x="585.28" y="460.09"/>
<use href="#dm3" x="585.36" y="460.2"/>
<use href="#dm3" x="585.43" y="460.32"/>
<use href="#dm3" x="585.51" y="460.44"/>
<use href="#dm3" x="585.59" y="460.55"/>
<use href="#dm3" x="585.67" y="460.66"/>
<use href="#dm3" x="585.74" y="460.77"/>
<use href="#dm3" x="585.82" y="460.87"/>
<use href="#dm3" x="585.9" y="460.98"/>
<use href="#dm3" x="585.98" y="461.08"/>
<use href="#dm3" x="586.05" y="461.19"/>
<use href="#dm3" x="586.13" y="461.29"/>
<use href="#dm3" x="586.21" y="461.39"/>
<use href="#dm3" x="586.29" y="461.48"/>
<use href="#dm3" x="586.36" y="461.58"/>
<use href="#dm3" x="586.44" y="461.67"/>
<use href="#dm3" x="586.52" y="461.77"/>
<use href="#dm3" x="586.6" y="461.86"/>
<use href="#dm3" x="586.67" y="461.95"/>
<use href="#dm3" x="586.75" y="462.04"/>
<use href="#dm3" x="586.83" y="462.13"/>
<use href="#dm3" x="586.9" y="462.21"/>
<use href="#dm3" x="586.98" y="462.3"/>
<use href="#dm3" x="587.06" y="462.38"/>
<use href="#dm3" x="587.14" y="462.46"/>
<use href="#dm3" x="587.21" y="462.54"/>
<use href="#dm3" x="587.29" y="462.62"/>
<use href="#dm3" x="587.37" y="462.7"/>
<use href="#dm3" x="587.45" y="462.78"/>
<use href="#dm3" x="587.52" y="462.85"/>
<use href="#dm3" x="587.6" y="462.93"/>
<use href="#dm3" x="587.68" y="463"/>
<use href="#dm3" x="587.76" y="463.07"/>
<use href="#dm3" x="587.83" y="463.14"/>
<use href="#dm3" x="587.91" y="463.21"/>
<use href="#dm3" x="587.99" y="463.28"/>
<use href="#dm3" x="588.06" y="463.35"/>
<use href="#dm3" x="588.14" y="463.42"/>
<use href="#dm3" x="588.22" y="463.48"/>
<use href="#dm3" x="588.3" y="463.55"/>
<use href="#dm3" x="588.37" y="463.61"/>
<use href="#dm3" x="588.45" y="463.67"/>
<use href="#dm3" x="588.53" y="463.73"/>
<use href="#dm3" x="588.61" y="463.8"/>
<use href="#dm3" x="588.68" y="463.85"/>
<use href="#dm3" x="588.76" y="463.91"/>
<use href="#dm3" x="588.84" y="463.97"/>
<use href="#dm3" x="588.92" y="464.03"/>
<use href="#dm3" x="588.99" y="464.08"/>
<use href="#dm3" x="589.07" y="464.14"/>
<use href="#dm3" x="589.15" y="464.19"/>
<use href="#dm3" x="589.23" y="464.25"/>
<use href="#dm3" x="589.3" y="464.3"/>
<use href="#dm3" x="589.38" y="464.35"/>
<use href="#dm3" x="589.46" y="464.4"/>
<use href="#dm3" x="589.53" y="464.45"/>
<use href="#dm3" x="589.61" y="464.5"/>
<use href="#dm3" x="589.69" y="464.55"/>
<use href="#dm3" x="589.77" y="464.6"/>
<use href="#dm3" x="589.84" y="464.65"/>
<use href="#dm3" x="589.92" y="464.69"/>
<use href="#dm3" x="590" y="464.74"/>
<use href="#dm3" x="590.08" y="464.78"/>
<use href="#dm3" x="590.15" y="464.83"/>
<use href="#dm3" x="590.23" y="464.87"/>
<use href="#dm3" x="590.31" y="464.91"/>
<use href="#dm3" x="590.39" y="464.96"/>
<use href="#dm3" x="590.46" y="465"/>
<use href="#dm3" x="590.54" y="465.04"/>
<use href="#dm3" x="590.62" y="465.08"/>
<use href="#dm3" x="590.69" y="465.12"/>
<use href="#dm3" x="590.77" y="465.16"/>
<use href="#dm3" x="590.85" y="465.2"/>
<use href="#dm3" x="590.93" y="465.23"/>
<use href="#dm3" x="591" y="465.27"/>
<use href="#dm3" x="591.08" y="465.31"/>
<use href="#dm3" x="591.16" y="465.34"/>
<use href="#dm3" x="591.24" y="465.38"/>
<use href="#dm3" x="591.31" y="465.41"/>
<use href="#dm3" x="591.39" y="465.45"/>
<use href="#dm3" x="591.47" y="465.48"/>
<use href="#dm3" x="591.55" y="465.51"/>
<use href="#dm3" x="591.62" y="465.55"/>
<use href="#dm3" x="591.7" y="465.58"/>
<use href="#dm3" x="591.78" y="465.61"/>
<use href="#dm3" x="591.86" y="465.64"/>
<use href="#dm3" x="591.93" y="465.67"/>
<use href="#dm3" x="592.01" y="465.7"/>
<use href="#dm3" x="592.09" y="465.73"/>
<use href="#dm3" x="592.16" y="465.76"/>
<use href="#dm3" x="592.24" y="465.79"/>
<use href="#dm3" x="592.32" y="465.82"/>
<use href="#dm3" x="592.4" y="465.85"/>
<use href="#dm3" x="592.47" y="465.88"/>
<use href="#dm3" x="592.55" y="465.9"/>
<use href="#dm3" x="592.63" y="465.93"/>
<use href="#dm3" x="592.71" y="465.96"/>
<use href="#dm3" x="592.78" y="465.98"/>
<use href="#dm3" x="592.86" y="466.01"/>
<use href="#dm3" x="592.94" y="466.03"/>
<use href="#dm3" x="593.02" y="466.06"/>
<use href="#dm3" x="593.09" y="466.08"/>
<use href="#dm3" x="593.17" y="466.1"/>
</g>
<polyline points="579.25,440.68 579.56,443.37 579.87,444.86 580.18,446.25 580.48,447.56 580.79,448.79 581.1,449.94 581.41,451.03 581.72,452.04 582.03,453 582.34,453.89 582.65,454.73 582.96,455.52 583.27,456.26 583.58,456.96 583.89,457.61 584.2,458.22 584.51,458.8 584.82,459.34 585.13,459.85 585.43,460.32 585.74,460.77 586.05,461.19 586.36,461.58 586.67,461.95 586.98,462.3 587.29,462.62 587.6,462.93 587.91,463.21 588.22,463.48 588.53,463.73 588.84,463.97 589.15,464.19 589.46,464.4 589.77,464.6 590.08,464.78" fill="none" stroke="#7f7f22" stroke-width="4.2" stroke-linejoin="round" stroke-linecap="butt"/>
<g fill="#fff" stroke="#233374" stroke-width="1">
<use href="#dm3" x="601" y="408.49"/>
<use href="#dm3" x="601.15" y="412.62"/>
<use href="#dm3" x="601.31" y="416.46"/>
<use href="#dm3" x="601.46" y="420.04"/>
<use href="#dm3" x="601.62" y="423.36"/>
<use href="#dm3" x="601.77" y="426.46"/>
<use href="#dm3" x="601.93" y="429.33"/>
<use href="#dm3" x="602.08" y="432.01"/>
<use href="#dm3" x="602.24" y="434.49"/>
<use href="#dm3" x="602.39" y="436.81"/>
<use href="#dm3" x="602.55" y="438.96"/>
<use href="#dm3" x="602.7" y="440.96"/>
<use href="#dm3" x="602.78" y="441.42"/>
<use href="#dm3" x="602.86" y="441.83"/>
<use href="#dm3" x="602.93" y="442.23"/>
<use href="#dm3" x="603.01" y="442.63"/>
<use href="#dm3" x="603.09" y="443.02"/>
<use href="#dm3" x="603.17" y="443.41"/>
<use href="#dm3" x="603.24" y="443.79"/>
<use href="#dm3" x="603.32" y="444.16"/>
<use href="#dm3" x="603.4" y="444.53"/>
<use href="#dm3" x="603.48" y="444.89"/>
<use href="#dm3" x="603.55" y="445.25"/>
<use href="#dm3" x="603.63" y="445.6"/>
<use href="#dm3" x="603.71" y="445.95"/>
<use href="#dm3" x="603.78" y="446.29"/>
<use href="#dm3" x="603.86" y="446.62"/>
<use href="#dm3" x="603.94" y="446.95"/>
<use href="#dm3" x="604.02" y="447.27"/>
<use href="#dm3" x="604.09" y="447.59"/>
<use href="#dm3" x="604.17" y="447.91"/>
<use href="#dm3" x="604.25" y="448.22"/>
<use href="#dm3" x="604.33" y="448.52"/>
<use href="#dm3" x="604.4" y="448.82"/>
<use href="#dm3" x="604.48" y="449.11"/>
<use href="#dm3" x="604.56" y="449.4"/>
<use href="#dm3" x="604.64" y="449.69"/>
<use href="#dm3" x="604.71" y="449.97"/>
<use href="#dm3" x="604.79" y="450.25"/>
<use href="#dm3" x="604.87" y="450.52"/>
<use href="#dm3" x="604.94" y="450.79"/>
<use href="#dm3" x="605.02" y="451.05"/>
<use href="#dm3" x="605.1" y="451.31"/>
<use href="#dm3" x="605.18" y="451.57"/>
<use href="#dm3" x="605.25" y="451.82"/>
<use href="#dm3" x="605.33" y="452.07"/>
<use href="#dm3" x="605.41" y="452.31"/>
<use href="#dm3" x="605.49" y="452.55"/>
<use href="#dm3" x="605.56" y="452.79"/>
<use href="#dm3" x="605.64" y="453.02"/>
<use href="#dm3" x="605.72" y="453.25"/>
<use href="#dm3" x="605.8" y="453.47"/>
<use href="#dm3" x="605.87" y="453.7"/>
<use href="#dm3" x="605.95" y="453.91"/>
<use href="#dm3" x="606.03" y="454.13"/>
<use href="#dm3" x="606.11" y="454.34"/>
<use href="#dm3" x="606.18" y="454.55"/>
<use href="#dm3" x="606.26" y="454.75"/>
<use href="#dm3" x="606.34" y="454.96"/>
<use href="#dm3" x="606.41" y="455.15"/>
<use href="#dm3" x="606.49" y="455.35"/>
<use href="#dm3" x="606.57" y="455.54"/>
<use href="#dm3" x="606.65" y="455.73"/>
<use href="#dm3" x="606.72" y="455.92"/>
<use href="#dm3" x="606.8" y="456.1"/>
<use href="#dm3" x="606.88" y="456.28"/>
<use href="#dm3" x="606.96" y="456.46"/>
<use href="#dm3" x="607.03" y="456.63"/>
<use href="#dm3" x="607.11" y="456.81"/>
<use href="#dm3" x="607.19" y="456.98"/>
<use href="#dm3" x="607.27" y="457.14"/>
<use href="#dm3" x="607.34" y="457.31"/>
<use href="#dm3" x="607.42" y="457.47"/>
<use href="#dm3" x="607.5" y="457.63"/>
<use href="#dm3" x="607.57" y="457.78"/>
<use href="#dm3" x="607.65" y="457.94"/>
<use href="#dm3" x="607.73" y="458.09"/>
<use href="#dm3" x="607.81" y="458.24"/>
<use href="#dm3" x="607.88" y="458.39"/>
<use href="#dm3" x="607.96" y="458.53"/>
<use href="#dm3" x="608.04" y="458.67"/>
<use href="#dm3" x="608.12" y="458.81"/>
<use href="#dm3" x="608.19" y="458.95"/>
<use href="#dm3" x="608.27" y="459.09"/>
<use href="#dm3" x="608.35" y="459.22"/>
<use href="#dm3" x="608.43" y="459.35"/>
<use href="#dm3" x="608.5" y="459.48"/>
<use href="#dm3" x="608.58" y="459.61"/>
<use href="#dm3" x="608.66" y="459.73"/>
<use href="#dm3" x="608.74" y="459.86"/>
<use href="#dm3" x="608.81" y="459.98"/>
<use href="#dm3" x="608.89" y="460.1"/>
<use href="#dm3" x="608.97" y="460.22"/>
<use href="#dm3" x="609.04" y="460.33"/>
<use href="#dm3" x="609.12" y="460.45"/>
<use href="#dm3" x="609.2" y="460.56"/>
<use href="#dm3" x="609.28" y="460.67"/>
<use href="#dm3" x="609.35" y="460.78"/>
<use href="#dm3" x="609.43" y="460.89"/>
<use href="#dm3" x="609.51" y="460.99"/>
<use href="#dm3" x="609.59" y="461.09"/>
<use href="#dm3" x="609.66" y="461.2"/>
<use href="#dm3" x="609.74" y="461.3"/>
<use href="#dm3" x="609.82" y="461.4"/>
<use href="#dm3" x="609.9" y="461.49"/>
<use href="#dm3" x="609.97" y="461.59"/>
<use href="#dm3" x="610.05" y="461.68"/>
<use href="#dm3" x="610.13" y="461.78"/>
<use href="#dm3" x="610.2" y="461.87"/>
<use href="#dm3" x="610.28" y="461.96"/>
<use href="#dm3" x="610.36" y="462.05"/>
<use href="#dm3" x="610.44" y="462.13"/>
<use href="#dm3" x="610.51" y="462.22"/>
<use href="#dm3" x="610.59" y="462.3"/>
<use href="#dm3" x="610.67" y="462.39"/>
<use href="#dm3" x="610.75" y="462.47"/>
<use href="#dm3" x="610.82" y="462.55"/>
<use href="#dm3" x="610.9" y="462.63"/>
<use href="#dm3" x="610.98" y="462.71"/>
<use href="#dm3" x="611.06" y="462.78"/>
<use href="#dm3" x="611.13" y="462.86"/>
<use href="#dm3" x="611.21" y="462.93"/>
<use href="#dm3" x="611.29" y="463.01"/>
<use href="#dm3" x="611.36" y="463.08"/>
<use href="#dm3" x="611.44" y="463.15"/>
<use href="#dm3" x="611.52" y="463.22"/>
<use href="#dm3" x="611.6" y="463.29"/>
<use href="#dm3" x="611.67" y="463.36"/>
<use href="#dm3" x="611.75" y="463.42"/>
<use href="#dm3" x="611.83" y="463.49"/>
<use href="#dm3" x="611.91" y="463.55"/>
<use href="#dm3" x="611.98" y="463.62"/>
<use href="#dm3" x="612.06" y="463.68"/>
<use href="#dm3" x="612.14" y="463.74"/>
<use href="#dm3" x="612.22" y="463.8"/>
<use href="#dm3" x="612.29" y="463.86"/>
<use href="#dm3" x="612.37" y="463.92"/>
<use href="#dm3" x="612.45" y="463.98"/>
<use href="#dm3" x="612.53" y="464.03"/>
<use href="#dm3" x="612.6" y="464.09"/>
<use href="#dm3" x="612.68" y="464.15"/>
<use href="#dm3" x="612.76" y="464.2"/>
<use href="#dm3" x="612.83" y="464.25"/>
<use href="#dm3" x="612.91" y="464.31"/>
<use href="#dm3" x="612.99" y="464.36"/>
<use href="#dm3" x="613.07" y="464.41"/>
<use href="#dm3" x="613.14" y="464.46"/>
<use href="#dm3" x="613.22" y="464.51"/>
<use href="#dm3" x="613.3" y="464.56"/>
<use href="#dm3" x="613.38" y="464.6"/>
<use href="#dm3" x="613.45" y="464.65"/>
<use href="#dm3" x="613.53" y="464.7"/>
<use href="#dm3" x="613.61" y="464.74"/>
<use href="#dm3" x="613.69" y="464.79"/>
<use href="#dm3" x="613.76" y="464.83"/>
<use href="#dm3" x="613.84" y="464.88"/>
<use href="#dm3" x="613.92" y="464.92"/>
<use href="#dm3" x="613.99" y="464.96"/>
<use href="#dm3" x="614.07" y="465"/>
<use href="#dm3" x="614.15" y="465.04"/>
<use href="#dm3" x="614.23" y="465.08"/>
<use href="#dm3" x="614.3" y="465.12"/>
<use href="#dm3" x="614.38" y="465.16"/>
<use href="#dm3" x="614.46" y="465.2"/>
<use href="#dm3" x="614.54" y="465.24"/>
<use href="#dm3" x="614.61" y="465.27"/>
<use href="#dm3" x="614.69" y="465.31"/>
<use href="#dm3" x="614.77" y="465.35"/>
<use href="#dm3" x="614.85" y="465.38"/>
<use href="#dm3" x="614.92" y="465.42"/>
<use href="#dm3" x="615" y="465.45"/>
<use href="#dm3" x="615.08" y="465.48"/>
<use href="#dm3" x="615.16" y="465.52"/>
<use href="#dm3" x="615.23" y="465.55"/>
<use href="#dm3" x="615.31" y="465.58"/>
<use href="#dm3" x="615.39" y="465.61"/>
<use href="#dm3" x="615.46" y="465.65"/>
<use href="#dm3" x="615.54" y="465.68"/>
<use href="#dm3" x="615.62" y="465.71"/>
<use href="#dm3" x="615.7" y="465.74"/>
<use href="#dm3" x="615.77" y="465.77"/>
<use href="#dm3" x="615.85" y="465.79"/>
<use href="#dm3" x="615.93" y="465.82"/>
<use href="#dm3" x="616.01" y="465.85"/>
<use href="#dm3" x="616.08" y="465.88"/>
<use href="#dm3" x="616.16" y="465.9"/>
<use href="#dm3" x="616.24" y="465.93"/>
<use href="#dm3" x="616.32" y="465.96"/>
<use href="#dm3" x="616.39" y="465.98"/>
<use href="#dm3" x="616.47" y="466.01"/>
</g>
<polyline points="602.55,438.96 602.86,441.83 603.17,443.41 603.48,444.89 603.78,446.29 604.09,447.59 604.4,448.82 604.71,449.97 605.02,451.05 605.33,452.07 605.64,453.02 605.95,453.91 606.26,454.75 606.57,455.54 606.88,456.28 607.19,456.98 607.5,457.63 607.81,458.24 608.12,458.81 608.43,459.35 608.74,459.86 609.04,460.33 609.35,460.78 609.66,461.2 609.97,461.59 610.28,461.96 610.59,462.3 610.9,462.63 611.21,462.93 611.52,463.22 611.83,463.49 612.14,463.74 612.45,463.98 612.76,464.2 613.07,464.41 613.38,464.6" fill="none" stroke="#233374" stroke-width="4.2" stroke-linejoin="round" stroke-linecap="butt"/>
<g fill="#fff" stroke="#871a85" stroke-width="1">
<use href="#dm3" x="623.6" y="406.53"/>
<use href="#dm3" x="623.75" y="410.8"/>
<use href="#dm3" x="623.91" y="414.77"/>
<use href="#dm3" x="624.06" y="418.46"/>
<use href="#dm3" x="624.22" y="421.9"/>
<use href="#dm3" x="624.37" y="425.09"/>
<use href="#dm3" x="624.53" y="428.06"/>
<use href="#dm3" x="624.68" y="430.83"/>
<use href="#dm3" x="624.84" y="433.4"/>
<use href="#dm3" x="624.99" y="435.79"/>
<use href="#dm3" x="625.15" y="438.01"/>
<use href="#dm3" x="625.3" y="440.08"/>
<use href="#dm3" x="625.38" y="440.55"/>
<use href="#dm3" x="625.46" y="440.98"/>
<use href="#dm3" x="625.53" y="441.39"/>
<use href="#dm3" x="625.61" y="441.8"/>
<use href="#dm3" x="625.69" y="442.21"/>
<use href="#dm3" x="625.77" y="442.61"/>
<use href="#dm3" x="625.84" y="443"/>
<use href="#dm3" x="625.92" y="443.39"/>
<use href="#dm3" x="626" y="443.77"/>
<use href="#dm3" x="626.08" y="444.14"/>
<use href="#dm3" x="626.15" y="444.51"/>
<use href="#dm3" x="626.23" y="444.87"/>
<use href="#dm3" x="626.31" y="445.23"/>
<use href="#dm3" x="626.38" y="445.58"/>
<use href="#dm3" x="626.46" y="445.93"/>
<use href="#dm3" x="626.54" y="446.27"/>
<use href="#dm3" x="626.62" y="446.6"/>
<use href="#dm3" x="626.69" y="446.93"/>
<use href="#dm3" x="626.77" y="447.25"/>
<use href="#dm3" x="626.85" y="447.57"/>
<use href="#dm3" x="626.93" y="447.89"/>
<use href="#dm3" x="627" y="448.2"/>
<use href="#dm3" x="627.08" y="448.5"/>
<use href="#dm3" x="627.16" y="448.8"/>
<use href="#dm3" x="627.24" y="449.1"/>
<use href="#dm3" x="627.31" y="449.39"/>
<use href="#dm3" x="627.39" y="449.67"/>
<use href="#dm3" x="627.47" y="449.96"/>
<use href="#dm3" x="627.54" y="450.23"/>
<use href="#dm3" x="627.62" y="450.5"/>
<use href="#dm3" x="627.7" y="450.77"/>
<use href="#dm3" x="627.78" y="451.04"/>
<use href="#dm3" x="627.85" y="451.3"/>
<use href="#dm3" x="627.93" y="451.55"/>
<use href="#dm3" x="628.01" y="451.81"/>
<use href="#dm3" x="628.09" y="452.05"/>
<use href="#dm3" x="628.16" y="452.3"/>
<use href="#dm3" x="628.24" y="452.54"/>
<use href="#dm3" x="628.32" y="452.77"/>
<use href="#dm3" x="628.4" y="453.01"/>
<use href="#dm3" x="628.47" y="453.24"/>
<use href="#dm3" x="628.55" y="453.46"/>
<use href="#dm3" x="628.63" y="453.68"/>
<use href="#dm3" x="628.71" y="453.9"/>
<use href="#dm3" x="628.78" y="454.12"/>
<use href="#dm3" x="628.86" y="454.33"/>
<use href="#dm3" x="628.94" y="454.54"/>
<use href="#dm3" x="629.01" y="454.74"/>
<use href="#dm3" x="629.09" y="454.94"/>
<use href="#dm3" x="629.17" y="455.14"/>
<use href="#dm3" x="629.25" y="455.34"/>
<use href="#dm3" x="629.32" y="455.53"/>
<use href="#dm3" x="629.4" y="455.72"/>
<use href="#dm3" x="629.48" y="455.91"/>
<use href="#dm3" x="629.56" y="456.09"/>
<use href="#dm3" x="629.63" y="456.27"/>
<use href="#dm3" x="629.71" y="456.45"/>
<use href="#dm3" x="629.79" y="456.62"/>
<use href="#dm3" x="629.87" y="456.8"/>
<use href="#dm3" x="629.94" y="456.97"/>
<use href="#dm3" x="630.02" y="457.13"/>
<use href="#dm3" x="630.1" y="457.3"/>
<use href="#dm3" x="630.17" y="457.46"/>
<use href="#dm3" x="630.25" y="457.62"/>
<use href="#dm3" x="630.33" y="457.77"/>
<use href="#dm3" x="630.41" y="457.93"/>
<use href="#dm3" x="630.48" y="458.08"/>
<use href="#dm3" x="630.56" y="458.23"/>
<use href="#dm3" x="630.64" y="458.38"/>
<use href="#dm3" x="630.72" y="458.52"/>
<use href="#dm3" x="630.79" y="458.66"/>
<use href="#dm3" x="630.87" y="458.8"/>
<use href="#dm3" x="630.95" y="458.94"/>
<use href="#dm3" x="631.03" y="459.08"/>
<use href="#dm3" x="631.1" y="459.21"/>
<use href="#dm3" x="631.18" y="459.34"/>
<use href="#dm3" x="631.26" y="459.47"/>
<use href="#dm3" x="631.34" y="459.6"/>
<use href="#dm3" x="631.41" y="459.73"/>
<use href="#dm3" x="631.49" y="459.85"/>
<use href="#dm3" x="631.57" y="459.97"/>
<use href="#dm3" x="631.64" y="460.09"/>
<use href="#dm3" x="631.72" y="460.21"/>
<use href="#dm3" x="631.8" y="460.33"/>
<use href="#dm3" x="631.88" y="460.44"/>
<use href="#dm3" x="631.95" y="460.55"/>
<use href="#dm3" x="632.03" y="460.66"/>
<use href="#dm3" x="632.11" y="460.77"/>
<use href="#dm3" x="632.19" y="460.88"/>
<use href="#dm3" x="632.26" y="460.98"/>
<use href="#dm3" x="632.34" y="461.09"/>
<use href="#dm3" x="632.42" y="461.19"/>
<use href="#dm3" x="632.5" y="461.29"/>
<use href="#dm3" x="632.57" y="461.39"/>
<use href="#dm3" x="632.65" y="461.49"/>
<use href="#dm3" x="632.73" y="461.58"/>
<use href="#dm3" x="632.8" y="461.68"/>
<use href="#dm3" x="632.88" y="461.77"/>
<use href="#dm3" x="632.96" y="461.86"/>
<use href="#dm3" x="633.04" y="461.95"/>
<use href="#dm3" x="633.11" y="462.04"/>
<use href="#dm3" x="633.19" y="462.13"/>
<use href="#dm3" x="633.27" y="462.21"/>
<use href="#dm3" x="633.35" y="462.3"/>
<use href="#dm3" x="633.42" y="462.38"/>
<use href="#dm3" x="633.5" y="462.46"/>
<use href="#dm3" x="633.58" y="462.54"/>
<use href="#dm3" x="633.66" y="462.62"/>
<use href="#dm3" x="633.73" y="462.7"/>
<use href="#dm3" x="633.81" y="462.78"/>
<use href="#dm3" x="633.89" y="462.85"/>
<use href="#dm3" x="633.96" y="462.93"/>
<use href="#dm3" x="634.04" y="463"/>
<use href="#dm3" x="634.12" y="463.07"/>
<use href="#dm3" x="634.2" y="463.15"/>
<use href="#dm3" x="634.27" y="463.22"/>
<use href="#dm3" x="634.35" y="463.28"/>
<use href="#dm3" x="634.43" y="463.35"/>
<use href="#dm3" x="634.51" y="463.42"/>
<use href="#dm3" x="634.58" y="463.48"/>
<use href="#dm3" x="634.66" y="463.55"/>
<use href="#dm3" x="634.74" y="463.61"/>
<use href="#dm3" x="634.82" y="463.68"/>
<use href="#dm3" x="634.89" y="463.74"/>
<use href="#dm3" x="634.97" y="463.8"/>
<use href="#dm3" x="635.05" y="463.86"/>
<use href="#dm3" x="635.13" y="463.92"/>
<use href="#dm3" x="635.2" y="463.97"/>
<use href="#dm3" x="635.28" y="464.03"/>
<use href="#dm3" x="635.36" y="464.09"/>
<use href="#dm3" x="635.43" y="464.14"/>
<use href="#dm3" x="635.51" y="464.2"/>
<use href="#dm3" x="635.59" y="464.25"/>
<use href="#dm3" x="635.67" y="464.3"/>
<use href="#dm3" x="635.74" y="464.35"/>
<use href="#dm3" x="635.82" y="464.41"/>
<use href="#dm3" x="635.9" y="464.46"/>
<use href="#dm3" x="635.98" y="464.5"/>
<use href="#dm3" x="636.05" y="464.55"/>
<use href="#dm3" x="636.13" y="464.6"/>
<use href="#dm3" x="636.21" y="464.65"/>
<use href="#dm3" x="636.29" y="464.69"/>
<use href="#dm3" x="636.36" y="464.74"/>
<use href="#dm3" x="636.44" y="464.78"/>
<use href="#dm3" x="636.52" y="464.83"/>
<use href="#dm3" x="636.59" y="464.87"/>
<use href="#dm3" x="636.67" y="464.92"/>
<use href="#dm3" x="636.75" y="464.96"/>
<use href="#dm3" x="636.83" y="465"/>
<use href="#dm3" x="636.9" y="465.04"/>
<use href="#dm3" x="636.98" y="465.08"/>
<use href="#dm3" x="637.06" y="465.12"/>
<use href="#dm3" x="637.14" y="465.16"/>
<use href="#dm3" x="637.21" y="465.2"/>
<use href="#dm3" x="637.29" y="465.23"/>
<use href="#dm3" x="637.37" y="465.27"/>
<use href="#dm3" x="637.45" y="465.31"/>
<use href="#dm3" x="637.52" y="465.34"/>
<use href="#dm3" x="637.6" y="465.38"/>
<use href="#dm3" x="637.68" y="465.41"/>
<use href="#dm3" x="637.76" y="465.45"/>
<use href="#dm3" x="637.83" y="465.48"/>
<use href="#dm3" x="637.91" y="465.52"/>
<use href="#dm3" x="637.99" y="465.55"/>
<use href="#dm3" x="638.06" y="465.58"/>
<use href="#dm3" x="638.14" y="465.61"/>
<use href="#dm3" x="638.22" y="465.64"/>
<use href="#dm3" x="638.3" y="465.67"/>
<use href="#dm3" x="638.37" y="465.7"/>
<use href="#dm3" x="638.45" y="465.73"/>
<use href="#dm3" x="638.53" y="465.76"/>
<use href="#dm3" x="638.61" y="465.79"/>
<use href="#dm3" x="638.68" y="465.82"/>
<use href="#dm3" x="638.76" y="465.85"/>
<use href="#dm3" x="638.84" y="465.88"/>
<use href="#dm3" x="638.92" y="465.9"/>
<use href="#dm3" x="638.99" y="465.93"/>
<use href="#dm3" x="639.07" y="465.96"/>
</g>
<polyline points="625.15,438.01 625.46,440.98 625.77,442.61 626.08,444.14 626.38,445.58 626.69,446.93 627,448.2 627.31,449.39 627.62,450.5 627.93,451.55 628.24,452.54 628.55,453.46 628.86,454.33 629.17,455.14 629.48,455.91 629.79,456.62 630.1,457.3 630.41,457.93 630.72,458.52 631.03,459.08 631.34,459.6 631.64,460.09 631.95,460.55 632.26,460.98 632.57,461.39 632.88,461.77 633.19,462.13 633.5,462.46 633.81,462.78 634.12,463.07 634.43,463.35 634.74,463.61 635.05,463.86 635.36,464.09 635.67,464.3 635.98,464.5" fill="none" stroke="#871a85" stroke-width="4.2" stroke-linejoin="round" stroke-linecap="butt"/>
<text x="408.7" y="435.9" font-size="11" text-anchor="middle" fill="#231f20" stroke="#231f20" stroke-width="0.25">-0.6</text>
<text x="438.5" y="426.1" font-size="11" text-anchor="middle" fill="#231f20" stroke="#231f20" stroke-width="0.25">-0.7</text>
<text x="461.9" y="415.5" font-size="11" text-anchor="middle" fill="#231f20" stroke="#231f20" stroke-width="0.25">-0.8</text>
<text x="485.1" y="403.3" font-size="11" text-anchor="middle" fill="#231f20" stroke="#231f20" stroke-width="0.25">-0.9</text>
<text x="507.8" y="389.7" font-size="11" text-anchor="middle" fill="#231f20" stroke="#231f20" stroke-width="0.25">-1.0</text>
<text x="531" y="375.6" font-size="11" text-anchor="middle" fill="#231f20" stroke="#231f20" stroke-width="0.25">-1.1</text>
<text x="553.9" y="358.8" font-size="11" text-anchor="middle" fill="#231f20" stroke="#231f20" stroke-width="0.25">-1.2</text>
<text x="576.7" y="341.2" font-size="11" text-anchor="middle" fill="#231f20" stroke="#231f20" stroke-width="0.25">-1.3</text>
<text x="600" y="322.8" font-size="11" text-anchor="middle" fill="#231f20" stroke="#231f20" stroke-width="0.25">-1.4</text>
<text x="622.6" y="303.3" font-size="11" text-anchor="middle" fill="#231f20" stroke="#231f20" stroke-width="0.25">-1.5</text>
<rect x="393.4" y="279.6" width="255" height="205.2" fill="none" stroke="#333333" stroke-width="1"/>
<line x1="389.2" y1="467.6" x2="393.4" y2="467.6" stroke="#333333" stroke-width="1"/>
<text x="386.4" y="471" font-size="11" text-anchor="end" fill="#231f20" stroke="#231f20" stroke-width="0.25">0</text>
<line x1="389.2" y1="433.34" x2="393.4" y2="433.34" stroke="#333333" stroke-width="1"/>
<text x="386.4" y="436.74" font-size="11" text-anchor="end" fill="#231f20" stroke="#231f20" stroke-width="0.25">-300</text>
<line x1="389.2" y1="399.08" x2="393.4" y2="399.08" stroke="#333333" stroke-width="1"/>
<text x="386.4" y="402.48" font-size="11" text-anchor="end" fill="#231f20" stroke="#231f20" stroke-width="0.25">-600</text>
<line x1="389.2" y1="364.82" x2="393.4" y2="364.82" stroke="#333333" stroke-width="1"/>
<text x="386.4" y="368.22" font-size="11" text-anchor="end" fill="#231f20" stroke="#231f20" stroke-width="0.25">-900</text>
<line x1="389.2" y1="330.56" x2="393.4" y2="330.56" stroke="#333333" stroke-width="1"/>
<text x="386.4" y="333.96" font-size="11" text-anchor="end" fill="#231f20" stroke="#231f20" stroke-width="0.25">-1200</text>
<line x1="389.2" y1="296.3" x2="393.4" y2="296.3" stroke="#333333" stroke-width="1"/>
<text x="386.4" y="299.7" font-size="11" text-anchor="end" fill="#231f20" stroke="#231f20" stroke-width="0.25">-1500</text>
<line x1="391.2" y1="484.73" x2="393.4" y2="484.73" stroke="#333333" stroke-width="1"/>
<line x1="391.2" y1="450.47" x2="393.4" y2="450.47" stroke="#333333" stroke-width="1"/>
<line x1="391.2" y1="416.21" x2="393.4" y2="416.21" stroke="#333333" stroke-width="1"/>
<line x1="391.2" y1="381.95" x2="393.4" y2="381.95" stroke="#333333" stroke-width="1"/>
<line x1="391.2" y1="347.69" x2="393.4" y2="347.69" stroke="#333333" stroke-width="1"/>
<line x1="391.2" y1="313.43" x2="393.4" y2="313.43" stroke="#333333" stroke-width="1"/>
<line x1="391.2" y1="279.17" x2="393.4" y2="279.17" stroke="#333333" stroke-width="1"/>
<line x1="644.4" y1="467.6" x2="648.4" y2="467.6" stroke="#333333" stroke-width="1"/>
<text x="651.6" y="471" font-size="11" text-anchor="start" fill="#231f20" stroke="#231f20" stroke-width="0.25">0</text>
<line x1="644.4" y1="392.3" x2="648.4" y2="392.3" stroke="#333333" stroke-width="1"/>
<text x="651.6" y="395.7" font-size="11" text-anchor="start" fill="#231f20" stroke="#231f20" stroke-width="0.25">100</text>
<line x1="644.4" y1="317" x2="648.4" y2="317" stroke="#333333" stroke-width="1"/>
<text x="651.6" y="320.4" font-size="11" text-anchor="start" fill="#231f20" stroke="#231f20" stroke-width="0.25">200</text>
<line x1="646.2" y1="429.95" x2="648.4" y2="429.95" stroke="#333333" stroke-width="1"/>
<line x1="646.2" y1="354.65" x2="648.4" y2="354.65" stroke="#333333" stroke-width="1"/>
<line x1="401.2" y1="484.8" x2="401.2" y2="489.2" stroke="#333333" stroke-width="1"/>
<text x="401.2" y="500" font-size="11" text-anchor="middle" fill="#231f20" stroke="#231f20" stroke-width="0.25">0</text>
<line x1="447.61" y1="484.8" x2="447.61" y2="489.2" stroke="#333333" stroke-width="1"/>
<text x="447.61" y="500" font-size="11" text-anchor="middle" fill="#231f20" stroke="#231f20" stroke-width="0.25">3</text>
<line x1="494.02" y1="484.8" x2="494.02" y2="489.2" stroke="#333333" stroke-width="1"/>
<text x="494.02" y="500" font-size="11" text-anchor="middle" fill="#231f20" stroke="#231f20" stroke-width="0.25">6</text>
<line x1="540.43" y1="484.8" x2="540.43" y2="489.2" stroke="#333333" stroke-width="1"/>
<text x="540.43" y="500" font-size="11" text-anchor="middle" fill="#231f20" stroke="#231f20" stroke-width="0.25">9</text>
<line x1="586.84" y1="484.8" x2="586.84" y2="489.2" stroke="#333333" stroke-width="1"/>
<text x="586.84" y="500" font-size="11" text-anchor="middle" fill="#231f20" stroke="#231f20" stroke-width="0.25">12</text>
<line x1="633.25" y1="484.8" x2="633.25" y2="489.2" stroke="#333333" stroke-width="1"/>
<text x="633.25" y="500" font-size="11" text-anchor="middle" fill="#231f20" stroke="#231f20" stroke-width="0.25">15</text>
<line x1="424.4" y1="484.8" x2="424.4" y2="487" stroke="#333333" stroke-width="1"/>
<line x1="470.81" y1="484.8" x2="470.81" y2="487" stroke="#333333" stroke-width="1"/>
<line x1="517.23" y1="484.8" x2="517.23" y2="487" stroke="#333333" stroke-width="1"/>
<line x1="563.63" y1="484.8" x2="563.63" y2="487" stroke="#333333" stroke-width="1"/>
<line x1="610.04" y1="484.8" x2="610.04" y2="487" stroke="#333333" stroke-width="1"/>
<text transform="translate(353.6,379.8) rotate(-90)" x="0" y="0" font-size="12.7" text-anchor="middle" fill="#231f20" stroke="#231f20" stroke-width="0.25">Potentiation current</text>
<text transform="translate(682.4,380.5) rotate(-90)" x="0" y="0" font-size="12.7" text-anchor="middle" fill="#231f20" stroke="#231f20" stroke-width="0.25">Decay current</text>
<text x="521.9" y="515.6" font-size="12.7" text-anchor="middle" fill="#231f20" stroke="#231f20" stroke-width="0.25">Time</text>
<rect x="419.8" y="301.3" width="5.2" height="5.2" fill="#000" stroke="none" stroke-width="0"/>
<text x="436.7" y="307.3" font-size="11.2" text-anchor="start" fill="#231f20" stroke="#231f20" stroke-width="0.25">Potentiation</text>
<path d="M423.9 316.8L428.1 321L423.9 325.2L419.7 321Z" fill="#fff" stroke="#000" stroke-width="1.1"/>
<text x="437.7" y="324.6" font-size="11.2" text-anchor="start" fill="#231f20" stroke="#231f20" stroke-width="0.25">Depression</text>
<text transform="translate(473,386.3) rotate(-33.5)" font-size="11.2" fill="#231f20" stroke="#231f20" stroke-width="0.25">Potentiation voltage</text>
<g fill="#fff" stroke="#1a1a1a" stroke-width="0.95">
<circle cx="55.5" cy="656.79" r="3.35"/>
<circle cx="57.82" cy="662.39" r="3.35"/>
<circle cx="60.14" cy="667.82" r="3.35"/>
<circle cx="62.46" cy="673.56" r="3.35"/>
<circle cx="64.78" cy="679.65" r="3.35"/>
<circle cx="67.1" cy="685.44" r="3.35"/>
<circle cx="69.42" cy="691.6" r="3.35"/>
<circle cx="71.74" cy="697.63" r="3.35"/>
<circle cx="74.06" cy="702.51" r="3.35"/>
<circle cx="76.38" cy="705.58" r="3.35"/>
<circle cx="78.7" cy="707.32" r="3.35"/>
<circle cx="81.02" cy="708.86" r="3.35"/>
<circle cx="83.34" cy="709.71" r="3.35"/>
<circle cx="85.66" cy="710.53" r="3.35"/>
<circle cx="87.98" cy="711.33" r="3.35"/>
<circle cx="90.3" cy="712.1" r="3.35"/>
<circle cx="92.62" cy="712.81" r="3.35"/>
<circle cx="94.94" cy="713.5" r="3.35"/>
<circle cx="97.26" cy="714.17" r="3.35"/>
<circle cx="99.58" cy="714.82" r="3.35"/>
<circle cx="101.9" cy="715.44" r="3.35"/>
<circle cx="104.22" cy="716.06" r="3.35"/>
<circle cx="106.54" cy="716.65" r="3.35"/>
<circle cx="108.86" cy="717.24" r="3.35"/>
<circle cx="111.18" cy="717.83" r="3.35"/>
<circle cx="113.5" cy="718.4" r="3.35"/>
<circle cx="115.82" cy="718.95" r="3.35"/>
<circle cx="118.14" cy="719.48" r="3.35"/>
<circle cx="120.46" cy="720" r="3.35"/>
<circle cx="122.78" cy="720.5" r="3.35"/>
<circle cx="125.1" cy="720.99" r="3.35"/>
<circle cx="127.42" cy="721.48" r="3.35"/>
<circle cx="129.74" cy="721.97" r="3.35"/>
<circle cx="132.06" cy="722.43" r="3.35"/>
<circle cx="134.38" cy="722.88" r="3.35"/>
<circle cx="136.7" cy="723.32" r="3.35"/>
<circle cx="139.02" cy="723.74" r="3.35"/>
<circle cx="141.34" cy="724.15" r="3.35"/>
<circle cx="143.66" cy="724.52" r="3.35"/>
<circle cx="145.98" cy="724.88" r="3.35"/>
<circle cx="148.3" cy="725.22" r="3.35"/>
<circle cx="150.62" cy="725.55" r="3.35"/>
<circle cx="152.94" cy="725.87" r="3.35"/>
<circle cx="155.26" cy="726.18" r="3.35"/>
<circle cx="157.58" cy="726.48" r="3.35"/>
<circle cx="159.9" cy="726.77" r="3.35"/>
<circle cx="162.22" cy="727.07" r="3.35"/>
<circle cx="164.54" cy="727.36" r="3.35"/>
<circle cx="166.86" cy="727.64" r="3.35"/>
<circle cx="169.18" cy="727.91" r="3.35"/>
<circle cx="171.5" cy="728.18" r="3.35"/>
<circle cx="173.82" cy="728.43" r="3.35"/>
<circle cx="176.14" cy="728.68" r="3.35"/>
<circle cx="178.46" cy="728.93" r="3.35"/>
<circle cx="180.78" cy="729.2" r="3.35"/>
<circle cx="183.1" cy="729.45" r="3.35"/>
<circle cx="185.42" cy="729.7" r="3.35"/>
<circle cx="187.74" cy="729.94" r="3.35"/>
<circle cx="190.06" cy="730.16" r="3.35"/>
<circle cx="192.38" cy="730.38" r="3.35"/>
<circle cx="194.7" cy="730.6" r="3.35"/>
<circle cx="197.02" cy="730.8" r="3.35"/>
<circle cx="199.34" cy="731" r="3.35"/>
<circle cx="201.66" cy="731.18" r="3.35"/>
<circle cx="203.98" cy="731.37" r="3.35"/>
<circle cx="206.3" cy="731.54" r="3.35"/>
<circle cx="208.62" cy="731.71" r="3.35"/>
<circle cx="210.94" cy="731.87" r="3.35"/>
<circle cx="213.26" cy="732.03" r="3.35"/>
<circle cx="215.58" cy="732.17" r="3.35"/>
<circle cx="217.9" cy="732.32" r="3.35"/>
<circle cx="220.22" cy="732.45" r="3.35"/>
<circle cx="222.54" cy="732.59" r="3.35"/>
<circle cx="224.86" cy="732.71" r="3.35"/>
<circle cx="227.18" cy="732.84" r="3.35"/>
<circle cx="229.5" cy="732.96" r="3.35"/>
<circle cx="231.82" cy="733.07" r="3.35"/>
<circle cx="234.14" cy="733.18" r="3.35"/>
<circle cx="236.46" cy="733.29" r="3.35"/>
<circle cx="238.78" cy="733.39" r="3.35"/>
<circle cx="241.1" cy="733.49" r="3.35"/>
<circle cx="243.42" cy="733.6" r="3.35"/>
<circle cx="245.74" cy="733.7" r="3.35"/>
<circle cx="248.06" cy="733.8" r="3.35"/>
<circle cx="250.38" cy="733.89" r="3.35"/>
<circle cx="252.7" cy="733.99" r="3.35"/>
<circle cx="255.02" cy="734.07" r="3.35"/>
<circle cx="257.34" cy="734.16" r="3.35"/>
<circle cx="259.66" cy="734.24" r="3.35"/>
<circle cx="261.98" cy="734.32" r="3.35"/>
<circle cx="264.3" cy="734.39" r="3.35"/>
<circle cx="266.62" cy="734.46" r="3.35"/>
<circle cx="268.94" cy="734.53" r="3.35"/>
<circle cx="271.26" cy="734.59" r="3.35"/>
<circle cx="273.58" cy="734.66" r="3.35"/>
<circle cx="275.9" cy="734.72" r="3.35"/>
<circle cx="278.22" cy="734.77" r="3.35"/>
<circle cx="280.54" cy="734.83" r="3.35"/>
<circle cx="282.86" cy="734.88" r="3.35"/>
<circle cx="285.18" cy="734.93" r="3.35"/>
<circle cx="287.5" cy="734.98" r="3.35"/>
<circle cx="55.5" cy="616.3" r="3.35"/>
<circle cx="57.82" cy="623.52" r="3.35"/>
<circle cx="60.14" cy="630.3" r="3.35"/>
<circle cx="62.46" cy="637.24" r="3.35"/>
<circle cx="64.78" cy="643.73" r="3.35"/>
<circle cx="67.1" cy="650.21" r="3.35"/>
<circle cx="69.42" cy="656.24" r="3.35"/>
<circle cx="71.74" cy="662.25" r="3.35"/>
<circle cx="74.06" cy="667.8" r="3.35"/>
<circle cx="76.38" cy="676.74" r="3.35"/>
<circle cx="78.7" cy="684.38" r="3.35"/>
<circle cx="81.02" cy="689.86" r="3.35"/>
<circle cx="83.34" cy="693.67" r="3.35"/>
<circle cx="85.66" cy="696.5" r="3.35"/>
<circle cx="87.98" cy="698.12" r="3.35"/>
<circle cx="90.3" cy="699.62" r="3.35"/>
<circle cx="92.62" cy="700.53" r="3.35"/>
<circle cx="94.94" cy="701.43" r="3.35"/>
<circle cx="97.26" cy="702.3" r="3.35"/>
<circle cx="99.58" cy="703.14" r="3.35"/>
<circle cx="101.9" cy="703.97" r="3.35"/>
<circle cx="104.22" cy="704.78" r="3.35"/>
<circle cx="106.54" cy="705.56" r="3.35"/>
<circle cx="108.86" cy="706.43" r="3.35"/>
<circle cx="111.18" cy="707.33" r="3.35"/>
<circle cx="113.5" cy="708.21" r="3.35"/>
<circle cx="115.82" cy="709.06" r="3.35"/>
<circle cx="118.14" cy="709.89" r="3.35"/>
<circle cx="120.46" cy="710.69" r="3.35"/>
<circle cx="122.78" cy="711.46" r="3.35"/>
<circle cx="125.1" cy="712.22" r="3.35"/>
<circle cx="127.42" cy="712.93" r="3.35"/>
<circle cx="129.74" cy="713.62" r="3.35"/>
<circle cx="132.06" cy="714.29" r="3.35"/>
<circle cx="134.38" cy="714.94" r="3.35"/>
<circle cx="136.7" cy="715.57" r="3.35"/>
<circle cx="139.02" cy="716.18" r="3.35"/>
<circle cx="141.34" cy="716.78" r="3.35"/>
<circle cx="143.66" cy="717.36" r="3.35"/>
<circle cx="145.98" cy="717.92" r="3.35"/>
<circle cx="148.3" cy="718.47" r="3.35"/>
<circle cx="150.62" cy="719.01" r="3.35"/>
<circle cx="152.94" cy="719.53" r="3.35"/>
<circle cx="155.26" cy="720.03" r="3.35"/>
<circle cx="157.58" cy="720.51" r="3.35"/>
<circle cx="159.9" cy="720.99" r="3.35"/>
<circle cx="162.22" cy="721.48" r="3.35"/>
<circle cx="164.54" cy="721.95" r="3.35"/>
<circle cx="166.86" cy="722.41" r="3.35"/>
<circle cx="169.18" cy="722.86" r="3.35"/>
<circle cx="171.5" cy="723.29" r="3.35"/>
<circle cx="173.82" cy="723.71" r="3.35"/>
<circle cx="176.14" cy="724.11" r="3.35"/>
<circle cx="178.46" cy="724.5" r="3.35"/>
<circle cx="180.78" cy="724.87" r="3.35"/>
<circle cx="183.1" cy="725.22" r="3.35"/>
<circle cx="185.42" cy="725.57" r="3.35"/>
<circle cx="187.74" cy="725.91" r="3.35"/>
<circle cx="190.06" cy="726.23" r="3.35"/>
<circle cx="192.38" cy="726.55" r="3.35"/>
<circle cx="194.7" cy="726.85" r="3.35"/>
<circle cx="197.02" cy="727.15" r="3.35"/>
<circle cx="199.34" cy="727.43" r="3.35"/>
<circle cx="201.66" cy="727.71" r="3.35"/>
<circle cx="203.98" cy="727.98" r="3.35"/>
<circle cx="206.3" cy="728.24" r="3.35"/>
<circle cx="208.62" cy="728.49" r="3.35"/>
<circle cx="210.94" cy="728.73" r="3.35"/>
<circle cx="213.26" cy="728.96" r="3.35"/>
<circle cx="215.58" cy="729.19" r="3.35"/>
<circle cx="217.9" cy="729.41" r="3.35"/>
<circle cx="220.22" cy="729.62" r="3.35"/>
<circle cx="222.54" cy="729.83" r="3.35"/>
<circle cx="224.86" cy="730.02" r="3.35"/>
<circle cx="227.18" cy="730.22" r="3.35"/>
<circle cx="229.5" cy="730.4" r="3.35"/>
<circle cx="231.82" cy="730.58" r="3.35"/>
<circle cx="234.14" cy="730.76" r="3.35"/>
<circle cx="236.46" cy="730.93" r="3.35"/>
<circle cx="238.78" cy="731.09" r="3.35"/>
<circle cx="241.1" cy="731.25" r="3.35"/>
<circle cx="243.42" cy="731.43" r="3.35"/>
<circle cx="245.74" cy="731.61" r="3.35"/>
<circle cx="248.06" cy="731.78" r="3.35"/>
<circle cx="250.38" cy="731.94" r="3.35"/>
<circle cx="252.7" cy="732.1" r="3.35"/>
<circle cx="255.02" cy="732.25" r="3.35"/>
<circle cx="257.34" cy="732.4" r="3.35"/>
<circle cx="259.66" cy="732.54" r="3.35"/>
<circle cx="261.98" cy="732.67" r="3.35"/>
<circle cx="264.3" cy="732.8" r="3.35"/>
<circle cx="266.62" cy="732.93" r="3.35"/>
<circle cx="268.94" cy="733.05" r="3.35"/>
<circle cx="271.26" cy="733.16" r="3.35"/>
<circle cx="273.58" cy="733.28" r="3.35"/>
<circle cx="275.9" cy="733.38" r="3.35"/>
<circle cx="278.22" cy="733.49" r="3.35"/>
<circle cx="280.54" cy="733.59" r="3.35"/>
<circle cx="282.86" cy="733.68" r="3.35"/>
<circle cx="285.18" cy="733.77" r="3.35"/>
<circle cx="287.5" cy="733.86" r="3.35"/>
<circle cx="55.5" cy="576" r="3.35"/>
<circle cx="57.82" cy="586.21" r="3.35"/>
<circle cx="60.14" cy="595.78" r="3.35"/>
<circle cx="62.46" cy="604.64" r="3.35"/>
<circle cx="64.78" cy="612.94" r="3.35"/>
<circle cx="67.1" cy="620.85" r="3.35"/>
<circle cx="69.42" cy="628.25" r="3.35"/>
<circle cx="71.74" cy="635.49" r="3.35"/>
<circle cx="74.06" cy="642.24" r="3.35"/>
<circle cx="76.38" cy="648.51" r="3.35"/>
<circle cx="78.7" cy="654.37" r="3.35"/>
<circle cx="81.02" cy="660.37" r="3.35"/>
<circle cx="83.34" cy="665.94" r="3.35"/>
<circle cx="85.66" cy="673.23" r="3.35"/>
<circle cx="87.98" cy="677.91" r="3.35"/>
<circle cx="90.3" cy="681.16" r="3.35"/>
<circle cx="92.62" cy="683.58" r="3.35"/>
<circle cx="94.94" cy="685.47" r="3.35"/>
<circle cx="97.26" cy="687.02" r="3.35"/>
<circle cx="99.58" cy="688.83" r="3.35"/>
<circle cx="101.9" cy="690.57" r="3.35"/>
<circle cx="104.22" cy="692.25" r="3.35"/>
<circle cx="106.54" cy="693.86" r="3.35"/>
<circle cx="108.86" cy="695.26" r="3.35"/>
<circle cx="111.18" cy="696.51" r="3.35"/>
<circle cx="113.5" cy="697.72" r="3.35"/>
<circle cx="115.82" cy="698.9" r="3.35"/>
<circle cx="118.14" cy="700.04" r="3.35"/>
<circle cx="120.46" cy="701.15" r="3.35"/>
<circle cx="122.78" cy="702.22" r="3.35"/>
<circle cx="125.1" cy="703.26" r="3.35"/>
<circle cx="127.42" cy="704.28" r="3.35"/>
<circle cx="129.74" cy="705.26" r="3.35"/>
<circle cx="132.06" cy="706.22" r="3.35"/>
<circle cx="134.38" cy="707.14" r="3.35"/>
<circle cx="136.7" cy="708.04" r="3.35"/>
<circle cx="139.02" cy="708.91" r="3.35"/>
<circle cx="141.34" cy="709.75" r="3.35"/>
<circle cx="143.66" cy="710.6" r="3.35"/>
<circle cx="145.98" cy="711.44" r="3.35"/>
<circle cx="148.3" cy="712.26" r="3.35"/>
<circle cx="150.62" cy="713.04" r="3.35"/>
<circle cx="152.94" cy="713.81" r="3.35"/>
<circle cx="155.26" cy="714.54" r="3.35"/>
<circle cx="157.58" cy="715.26" r="3.35"/>
<circle cx="159.9" cy="715.95" r="3.35"/>
<circle cx="162.22" cy="716.63" r="3.35"/>
<circle cx="164.54" cy="717.3" r="3.35"/>
<circle cx="166.86" cy="717.94" r="3.35"/>
<circle cx="169.18" cy="718.55" r="3.35"/>
<circle cx="171.5" cy="719.15" r="3.35"/>
<circle cx="173.82" cy="719.73" r="3.35"/>
<circle cx="176.14" cy="720.29" r="3.35"/>
<circle cx="178.46" cy="720.81" r="3.35"/>
<circle cx="180.78" cy="721.29" r="3.35"/>
<circle cx="183.1" cy="721.76" r="3.35"/>
<circle cx="185.42" cy="722.21" r="3.35"/>
<circle cx="187.74" cy="722.65" r="3.35"/>
<circle cx="190.06" cy="723.07" r="3.35"/>
<circle cx="192.38" cy="723.48" r="3.35"/>
<circle cx="194.7" cy="723.88" r="3.35"/>
<circle cx="197.02" cy="724.27" r="3.35"/>
<circle cx="199.34" cy="724.64" r="3.35"/>
<circle cx="201.66" cy="725" r="3.35"/>
<circle cx="203.98" cy="725.35" r="3.35"/>
<circle cx="206.3" cy="725.69" r="3.35"/>
<circle cx="208.62" cy="726.02" r="3.35"/>
<circle cx="210.94" cy="726.32" r="3.35"/>
<circle cx="213.26" cy="726.6" r="3.35"/>
<circle cx="215.58" cy="726.87" r="3.35"/>
<circle cx="217.9" cy="727.13" r="3.35"/>
<circle cx="220.22" cy="727.39" r="3.35"/>
<circle cx="222.54" cy="727.64" r="3.35"/>
<circle cx="224.86" cy="727.88" r="3.35"/>
<circle cx="227.18" cy="728.11" r="3.35"/>
<circle cx="229.5" cy="728.34" r="3.35"/>
<circle cx="231.82" cy="728.56" r="3.35"/>
<circle cx="234.14" cy="728.77" r="3.35"/>
<circle cx="236.46" cy="728.98" r="3.35"/>
<circle cx="238.78" cy="729.19" r="3.35"/>
<circle cx="241.1" cy="729.38" r="3.35"/>
<circle cx="243.42" cy="729.58" r="3.35"/>
<circle cx="245.74" cy="729.77" r="3.35"/>
<circle cx="248.06" cy="729.95" r="3.35"/>
<circle cx="250.38" cy="730.13" r="3.35"/>
<circle cx="252.7" cy="730.3" r="3.35"/>
<circle cx="255.02" cy="730.47" r="3.35"/>
<circle cx="257.34" cy="730.63" r="3.35"/>
<circle cx="259.66" cy="730.79" r="3.35"/>
<circle cx="261.98" cy="730.94" r="3.35"/>
<circle cx="264.3" cy="731.09" r="3.35"/>
<circle cx="266.62" cy="731.24" r="3.35"/>
<circle cx="268.94" cy="731.38" r="3.35"/>
<circle cx="271.26" cy="731.52" r="3.35"/>
<circle cx="273.58" cy="731.65" r="3.35"/>
<circle cx="275.9" cy="731.78" r="3.35"/>
<circle cx="278.22" cy="731.9" r="3.35"/>
<circle cx="280.54" cy="732.02" r="3.35"/>
<circle cx="282.86" cy="732.14" r="3.35"/>
<circle cx="285.18" cy="732.26" r="3.35"/>
<circle cx="287.5" cy="732.37" r="3.35"/>
</g>
<polyline points="55.5,654.93 56.65,658.37 57.81,661.67 58.96,664.82 60.12,667.84 61.27,670.74 62.43,673.51 63.58,676.66 64.73,679.66 65.89,682.52 67.04,685.22 68.2,687.8 69.35,690.24 70.5,692.71 71.66,695.05 72.81,697.27 73.97,699.36 75.12,701.09 76.28,702.71 77.43,704.25 78.58,705.73 79.74,706.61 80.89,707.42 82.05,708.2 83.2,708.96 84.35,709.7 85.51,710.25 86.66,710.76 87.82,711.26 88.97,711.76 90.13,712.24 91.28,712.68 92.43,713.11 93.59,713.53 94.74,713.95 95.9,714.36 97.05,714.76 98.2,715.15 99.36,715.53 100.51,715.88 101.67,716.18 102.82,716.48 103.98,716.77 105.13,717.06 106.28,717.34 107.44,717.62 108.59,717.86 109.75,718.1 110.9,718.33 112.05,718.57 113.21,718.79 114.36,719.02 115.52,719.24 116.67,719.46 117.83,719.68 118.98,719.89 120.13,720.11 121.29,720.32 122.44,720.52 123.6,720.72 124.75,720.93 125.9,721.13 127.06,721.33 128.21,721.53 129.37,721.73 130.52,721.92 131.68,722.11 132.83,722.3 133.98,722.49 135.14,722.67 136.29,722.85 137.45,723.03 138.6,723.21 139.75,723.38 140.91,723.55 142.06,723.72 143.22,723.9 144.37,724.1 145.53,724.28 146.68,724.47 147.83,724.65 148.99,724.83 150.14,725.01 151.3,725.18 152.45,725.35 153.6,725.52 154.76,725.69 155.91,725.85 157.07,726.01 158.22,726.17 159.38,726.33 160.53,726.48 161.68,726.63 162.84,726.77 163.99,726.92 165.15,727.06 166.3,727.2 167.45,727.34 168.61,727.47 169.76,727.6 170.92,727.74 172.07,727.87 173.23,727.99 174.38,728.12 175.53,728.24 176.69,728.36 177.84,728.49 179,728.63 180.15,728.77 181.3,728.91 182.46,729.05 183.61,729.18 184.77,729.31 185.92,729.44 187.08,729.56 188.23,729.69 189.38,729.81 190.54,729.93 191.69,730.04 192.85,730.16 194,730.27 195.15,730.38 196.31,730.49 197.46,730.59 198.62,730.7 199.77,730.8 200.93,730.9 202.08,731 203.23,731.09 204.39,731.19 205.54,731.28 206.7,731.37 207.85,731.46 209,731.55 210.16,731.63 211.31,731.71 212.47,731.78 213.62,731.86 214.78,731.93 215.93,732 217.08,732.08 218.24,732.15 219.39,732.21 220.55,732.28 221.7,732.35 222.85,732.41 224.01,732.48 225.16,732.54 226.32,732.6 227.47,732.66 228.63,732.72 229.78,732.78 230.93,732.84 232.09,732.89 233.24,732.95 234.4,733 235.55,733.06 236.7,733.11 237.86,733.16 239.01,733.21 240.17,733.26 241.32,733.32 242.48,733.39 243.63,733.46 244.78,733.53 245.94,733.6 247.09,733.67 248.25,733.74 249.4,733.8 250.55,733.86 251.71,733.92 252.86,733.98 254.02,734.04 255.17,734.09 256.33,734.15 257.48,734.2 258.63,734.25 259.79,734.3 260.94,734.35 262.1,734.4 263.25,734.44 264.4,734.49 265.56,734.53 266.71,734.57 267.87,734.61 269.02,734.65 270.18,734.69 271.33,734.73 272.48,734.77 273.64,734.8 274.79,734.84 275.95,734.87 277.1,734.91 278.25,734.94 279.41,734.97 280.56,735 281.72,735.03 282.87,735.06 284.03,735.09 285.18,735.11" fill="none" stroke="#e0302c" stroke-width="1.7" stroke-linejoin="round" stroke-linecap="butt"/>
<polyline points="55.5,613.88 56.65,617.96 57.81,621.9 58.96,625.71 60.12,629.39 61.27,632.95 62.43,636.39 63.58,639.72 64.73,642.94 65.89,646.04 67.04,649.05 68.2,651.95 69.35,654.76 70.5,657.94 71.66,661.03 72.81,663.99 73.97,666.83 75.12,669.8 76.28,672.65 77.43,675.38 78.58,678 79.74,680.34 80.89,682.58 82.05,684.72 83.2,686.78 84.35,688.2 85.51,689.5 86.66,690.76 87.82,692 88.97,693.19 90.13,694.35 91.28,695.34 92.43,696.3 93.59,697.24 94.74,698.16 95.9,699.05 97.05,699.93 98.2,700.57 99.36,701.14 100.51,701.71 101.67,702.27 102.82,702.82 103.98,703.36 105.13,703.89 106.28,704.41 107.44,704.92 108.59,705.39 109.75,705.84 110.9,706.29 112.05,706.73 113.21,707.16 114.36,707.59 115.52,708.01 116.67,708.43 117.83,708.84 118.98,709.24 120.13,709.64 121.29,710.03 122.44,710.42 123.6,710.8 124.75,711.17 125.9,711.52 127.06,711.86 128.21,712.19 129.37,712.52 130.52,712.84 131.68,713.16 132.83,713.47 133.98,713.79 135.14,714.09 136.29,714.39 137.45,714.69 138.6,714.98 139.75,715.27 140.91,715.56 142.06,715.84 143.22,716.15 144.37,716.46 145.53,716.77 146.68,717.07 147.83,717.37 148.99,717.67 150.14,717.96 151.3,718.25 152.45,718.53 153.6,718.8 154.76,719.08 155.91,719.34 157.07,719.61 158.22,719.87 159.38,720.12 160.53,720.38 161.68,720.64 162.84,720.89 163.99,721.14 165.15,721.39 166.3,721.63 167.45,721.87 168.61,722.1 169.76,722.33 170.92,722.56 172.07,722.78 173.23,723 174.38,723.21 175.53,723.43 176.69,723.63 177.84,723.84 179,724.03 180.15,724.23 181.3,724.41 182.46,724.6 183.61,724.78 184.77,724.96 185.92,725.14 187.08,725.32 188.23,725.49 189.38,725.66 190.54,725.82 191.69,725.99 192.85,726.15 194,726.31 195.15,726.46 196.31,726.62 197.46,726.77 198.62,726.92 199.77,727.06 200.93,727.21 202.08,727.35 203.23,727.49 204.39,727.62 205.54,727.76 206.7,727.89 207.85,728.02 209,728.15 210.16,728.28 211.31,728.41 212.47,728.53 213.62,728.65 214.78,728.78 215.93,728.89 217.08,729.01 218.24,729.13 219.39,729.24 220.55,729.35 221.7,729.46 222.85,729.57 224.01,729.68 225.16,729.78 226.32,729.88 227.47,729.99 228.63,730.08 229.78,730.18 230.93,730.28 232.09,730.37 233.24,730.47 234.4,730.56 235.55,730.65 236.7,730.74 237.86,730.82 239.01,730.91 240.17,730.99 241.32,731.08 242.48,731.17 243.63,731.26 244.78,731.35 245.94,731.43 247.09,731.52 248.25,731.6 249.4,731.68 250.55,731.76 251.71,731.84 252.86,731.91 254.02,731.99 255.17,732.06 256.33,732.14 257.48,732.21 258.63,732.28 259.79,732.35 260.94,732.41 262.1,732.48 263.25,732.55 264.4,732.61 265.56,732.67 266.71,732.73 267.87,732.8 269.02,732.85 270.18,732.91 271.33,732.97 272.48,733.03 273.64,733.08 274.79,733.14 275.95,733.19 277.1,733.24 278.25,733.29 279.41,733.34 280.56,733.39 281.72,733.44 282.87,733.49 284.03,733.54 285.18,733.58" fill="none" stroke="#3a90d2" stroke-width="1.7" stroke-linejoin="round" stroke-linecap="butt"/>
<polyline points="55.5,572.27 56.65,578.49 57.81,584.48 58.96,590.24 60.12,595.79 61.27,601.12 62.43,606.25 63.58,611.18 64.73,615.93 65.89,620.5 67.04,624.89 68.2,629.12 69.35,633.18 70.5,637.09 71.66,640.77 72.81,643.76 73.97,646.66 75.12,649.55 76.28,652.44 77.43,655.23 78.58,657.64 79.74,659.95 80.89,662.2 82.05,664.39 83.2,666.51 84.35,668.58 85.51,670.48 86.66,672.06 87.82,673.6 88.97,675.1 90.13,676.6 91.28,678.15 92.43,679.67 93.59,681.14 94.74,682.58 95.9,683.85 97.05,685.01 98.2,686.14 99.36,687.25 100.51,688.33 101.67,689.25 102.82,690.16 103.98,691.04 105.13,691.91 106.28,692.76 107.44,693.6 108.59,694.4 109.75,695.17 110.9,695.92 112.05,696.65 113.21,697.38 114.36,698.09 115.52,698.79 116.67,699.33 117.83,699.81 118.98,700.28 120.13,700.75 121.29,701.21 122.44,701.67 123.6,702.12 124.75,702.56 125.9,703.07 127.06,703.58 128.21,704.09 129.37,704.6 130.52,705.09 131.68,705.58 132.83,706.06 133.98,706.53 135.14,706.99 136.29,707.45 137.45,707.9 138.6,708.34 139.75,708.78 140.91,709.21 142.06,709.63 143.22,710.06 144.37,710.48 145.53,710.9 146.68,711.31 147.83,711.72 148.99,712.12 150.14,712.51 151.3,712.89 152.45,713.27 153.6,713.64 154.76,714.01 155.91,714.37 157.07,714.73 158.22,715.08 159.38,715.42 160.53,715.76 161.68,716.1 162.84,716.44 163.99,716.77 165.15,717.09 166.3,717.41 167.45,717.72 168.61,718.03 169.76,718.33 170.92,718.63 172.07,718.92 173.23,719.21 174.38,719.49 175.53,719.77 176.69,720.04 177.84,720.31 179,720.56 180.15,720.81 181.3,721.05 182.46,721.29 183.61,721.53 184.77,721.76 185.92,721.99 187.08,722.22 188.23,722.44 189.38,722.66 190.54,722.87 191.69,723.09 192.85,723.29 194,723.5 195.15,723.7 196.31,723.9 197.46,724.09 198.62,724.29 199.77,724.47 200.93,724.66 202.08,724.84 203.23,725.02 204.39,725.2 205.54,725.37 206.7,725.55 207.85,725.71 209,725.88 210.16,726.04 211.31,726.19 212.47,726.34 213.62,726.49 214.78,726.63 215.93,726.77 217.08,726.91 218.24,727.05 219.39,727.18 220.55,727.32 221.7,727.45 222.85,727.58 224.01,727.7 225.16,727.83 226.32,727.95 227.47,728.08 228.63,728.2 229.78,728.31 230.93,728.43 232.09,728.54 233.24,728.66 234.4,728.77 235.55,728.88 236.7,728.99 237.86,729.09 239.01,729.2 240.17,729.3 241.32,729.4 242.48,729.49 243.63,729.58 244.78,729.66 245.94,729.75 247.09,729.83 248.25,729.92 249.4,730 250.55,730.08 251.71,730.16 252.86,730.24 254.02,730.32 255.17,730.4 256.33,730.47 257.48,730.55 258.63,730.62 259.79,730.69 260.94,730.77 262.1,730.84 263.25,730.91 264.4,730.98 265.56,731.04 266.71,731.11 267.87,731.18 269.02,731.24 270.18,731.31 271.33,731.37 272.48,731.43 273.64,731.5 274.79,731.56 275.95,731.62 277.1,731.68 278.25,731.74 279.41,731.8 280.56,731.85 281.72,731.91 282.87,731.96 284.03,732.02 285.18,732.07" fill="none" stroke="#69b43a" stroke-width="1.7" stroke-linejoin="round" stroke-linecap="butt"/>
<rect x="43.8" y="549.5" width="254.8" height="205" fill="none" stroke="#333333" stroke-width="1"/>
<line x1="39.5" y1="736.1" x2="43.8" y2="736.1" stroke="#333333" stroke-width="1"/>
<text x="36.4" y="739.5" font-size="11" text-anchor="end" fill="#231f20" stroke="#231f20" stroke-width="0.25">0</text>
<line x1="39.5" y1="698.78" x2="43.8" y2="698.78" stroke="#333333" stroke-width="1"/>
<text x="36.4" y="702.18" font-size="11" text-anchor="end" fill="#231f20" stroke="#231f20" stroke-width="0.25">20</text>
<line x1="39.5" y1="661.46" x2="43.8" y2="661.46" stroke="#333333" stroke-width="1"/>
<text x="36.4" y="664.86" font-size="11" text-anchor="end" fill="#231f20" stroke="#231f20" stroke-width="0.25">40</text>
<line x1="39.5" y1="624.14" x2="43.8" y2="624.14" stroke="#333333" stroke-width="1"/>
<text x="36.4" y="627.54" font-size="11" text-anchor="end" fill="#231f20" stroke="#231f20" stroke-width="0.25">60</text>
<line x1="39.5" y1="586.82" x2="43.8" y2="586.82" stroke="#333333" stroke-width="1"/>
<text x="36.4" y="590.22" font-size="11" text-anchor="end" fill="#231f20" stroke="#231f20" stroke-width="0.25">80</text>
<line x1="39.5" y1="549.5" x2="43.8" y2="549.5" stroke="#333333" stroke-width="1"/>
<text x="36.4" y="552.9" font-size="11" text-anchor="end" fill="#231f20" stroke="#231f20" stroke-width="0.25">100</text>
<line x1="41.6" y1="754.76" x2="43.8" y2="754.76" stroke="#333333" stroke-width="1"/>
<line x1="41.6" y1="717.44" x2="43.8" y2="717.44" stroke="#333333" stroke-width="1"/>
<line x1="41.6" y1="680.12" x2="43.8" y2="680.12" stroke="#333333" stroke-width="1"/>
<line x1="41.6" y1="642.8" x2="43.8" y2="642.8" stroke="#333333" stroke-width="1"/>
<line x1="41.6" y1="605.48" x2="43.8" y2="605.48" stroke="#333333" stroke-width="1"/>
<line x1="41.6" y1="568.16" x2="43.8" y2="568.16" stroke="#333333" stroke-width="1"/>
<line x1="55.5" y1="754.5" x2="55.5" y2="758.9" stroke="#333333" stroke-width="1"/>
<text x="55.5" y="770.4" font-size="11" text-anchor="middle" fill="#231f20" stroke="#231f20" stroke-width="0.25">0.0</text>
<line x1="101.9" y1="754.5" x2="101.9" y2="758.9" stroke="#333333" stroke-width="1"/>
<text x="101.9" y="770.4" font-size="11" text-anchor="middle" fill="#231f20" stroke="#231f20" stroke-width="0.25">0.2</text>
<line x1="148.3" y1="754.5" x2="148.3" y2="758.9" stroke="#333333" stroke-width="1"/>
<text x="148.3" y="770.4" font-size="11" text-anchor="middle" fill="#231f20" stroke="#231f20" stroke-width="0.25">0.4</text>
<line x1="194.7" y1="754.5" x2="194.7" y2="758.9" stroke="#333333" stroke-width="1"/>
<text x="194.7" y="770.4" font-size="11" text-anchor="middle" fill="#231f20" stroke="#231f20" stroke-width="0.25">0.6</text>
<line x1="241.1" y1="754.5" x2="241.1" y2="758.9" stroke="#333333" stroke-width="1"/>
<text x="241.1" y="770.4" font-size="11" text-anchor="middle" fill="#231f20" stroke="#231f20" stroke-width="0.25">0.8</text>
<line x1="287.5" y1="754.5" x2="287.5" y2="758.9" stroke="#333333" stroke-width="1"/>
<text x="287.5" y="770.4" font-size="11" text-anchor="middle" fill="#231f20" stroke="#231f20" stroke-width="0.25">1.0</text>
<line x1="78.7" y1="754.5" x2="78.7" y2="756.7" stroke="#333333" stroke-width="1"/>
<line x1="125.1" y1="754.5" x2="125.1" y2="756.7" stroke="#333333" stroke-width="1"/>
<line x1="171.5" y1="754.5" x2="171.5" y2="756.7" stroke="#333333" stroke-width="1"/>
<line x1="217.9" y1="754.5" x2="217.9" y2="756.7" stroke="#333333" stroke-width="1"/>
<line x1="264.3" y1="754.5" x2="264.3" y2="756.7" stroke="#333333" stroke-width="1"/>
<text transform="translate(9.2,653.4) rotate(-90)" x="0" y="0" font-size="12.7" text-anchor="middle" fill="#231f20" stroke="#231f20" stroke-width="0.25">Decay current</text>
<text x="171.3" y="783.7" font-size="12.7" text-anchor="middle" fill="#231f20" stroke="#231f20" stroke-width="0.25">Time</text>
<text x="181.7" y="584.9" font-size="11.2" text-anchor="start" fill="#231f20" stroke="#231f20" stroke-width="0.25">Potentiation voltage</text>
<line x1="210.9" y1="599.7" x2="231.9" y2="599.7" stroke="#e0302c" stroke-width="1.7"/>
<text x="238" y="602.5" font-size="11.1" text-anchor="start" fill="#231f20" stroke="#231f20" stroke-width="0.25">-0.7</text>
<line x1="210.9" y1="614.1" x2="231.9" y2="614.1" stroke="#3a90d2" stroke-width="1.7"/>
<text x="238" y="616.9" font-size="11.1" text-anchor="start" fill="#231f20" stroke="#231f20" stroke-width="0.25">-1.1</text>
<line x1="210.9" y1="628.5" x2="231.9" y2="628.5" stroke="#69b43a" stroke-width="1.7"/>
<text x="238" y="631.3" font-size="11.1" text-anchor="start" fill="#231f20" stroke="#231f20" stroke-width="0.25">-1.5</text>
<path d="M406.2 733.97C410.45 730.08 423.2 717.71 431.7 710.6C440.2 703.5 448.7 697.71 457.2 691.34C465.7 684.97 474.2 678.39 482.7 672.39C491.2 666.39 499.7 660.6 508.2 655.34C516.7 650.08 525.2 645.29 533.7 640.81C542.2 636.34 550.7 632.13 559.2 628.5C567.7 624.86 576.2 621.92 584.7 619.02C593.2 616.13 601.7 613.39 610.2 611.13C618.7 608.86 631.45 606.39 635.7 605.44" fill="none" stroke="#e0302c" stroke-width="1.6"/>
<rect x="403.1" y="730.87" width="6.2" height="6.2" fill="none" stroke="#e0302c" stroke-width="1.2"/>
<rect x="428.6" y="707.5" width="6.2" height="6.2" fill="none" stroke="#e0302c" stroke-width="1.2"/>
<rect x="454.1" y="688.24" width="6.2" height="6.2" fill="none" stroke="#e0302c" stroke-width="1.2"/>
<rect x="479.6" y="669.29" width="6.2" height="6.2" fill="none" stroke="#e0302c" stroke-width="1.2"/>
<rect x="505.1" y="652.24" width="6.2" height="6.2" fill="none" stroke="#e0302c" stroke-width="1.2"/>
<rect x="530.6" y="637.71" width="6.2" height="6.2" fill="none" stroke="#e0302c" stroke-width="1.2"/>
<rect x="556.1" y="625.4" width="6.2" height="6.2" fill="none" stroke="#e0302c" stroke-width="1.2"/>
<rect x="581.6" y="615.92" width="6.2" height="6.2" fill="none" stroke="#e0302c" stroke-width="1.2"/>
<rect x="607.1" y="608.03" width="6.2" height="6.2" fill="none" stroke="#e0302c" stroke-width="1.2"/>
<rect x="632.6" y="602.34" width="6.2" height="6.2" fill="none" stroke="#e0302c" stroke-width="1.2"/>
<line x1="406.2" y1="575.9" x2="635.7" y2="575.9" stroke="#4646aa" stroke-width="1.4"/>
<circle cx="406.2" cy="575.9" r="3.5" fill="#fff" stroke="#4646aa" stroke-width="1.3"/>
<circle cx="431.7" cy="575.9" r="3.5" fill="#fff" stroke="#4646aa" stroke-width="1.3"/>
<circle cx="457.2" cy="575.9" r="3.5" fill="#fff" stroke="#4646aa" stroke-width="1.3"/>
<circle cx="482.7" cy="575.9" r="3.5" fill="#fff" stroke="#4646aa" stroke-width="1.3"/>
<circle cx="508.2" cy="575.9" r="3.5" fill="#fff" stroke="#4646aa" stroke-width="1.3"/>
<circle cx="533.7" cy="575.9" r="3.5" fill="#fff" stroke="#4646aa" stroke-width="1.3"/>
<circle cx="559.2" cy="575.9" r="3.5" fill="#fff" stroke="#4646aa" stroke-width="1.3"/>
<circle cx="584.7" cy="575.9" r="3.5" fill="#fff" stroke="#4646aa" stroke-width="1.3"/>
<circle cx="610.2" cy="575.9" r="3.5" fill="#fff" stroke="#4646aa" stroke-width="1.3"/>
<circle cx="635.7" cy="575.9" r="3.5" fill="#fff" stroke="#4646aa" stroke-width="1.3"/>
<rect x="393.4" y="549.5" width="255.1" height="205" fill="none" stroke="#333333" stroke-width="1"/>
<line x1="389.1" y1="754.5" x2="393.4" y2="754.5" stroke="#333333" stroke-width="1"/>
<text x="386" y="757.9" font-size="11" text-anchor="end" fill="#231f20" stroke="#231f20" stroke-width="0.25">0.05</text>
<line x1="389.1" y1="722.92" x2="393.4" y2="722.92" stroke="#333333" stroke-width="1"/>
<text x="386" y="726.32" font-size="11" text-anchor="end" fill="#231f20" stroke="#231f20" stroke-width="0.25">0.06</text>
<line x1="389.1" y1="691.34" x2="393.4" y2="691.34" stroke="#333333" stroke-width="1"/>
<text x="386" y="694.74" font-size="11" text-anchor="end" fill="#231f20" stroke="#231f20" stroke-width="0.25">0.07</text>
<line x1="389.1" y1="659.76" x2="393.4" y2="659.76" stroke="#333333" stroke-width="1"/>
<text x="386" y="663.16" font-size="11" text-anchor="end" fill="#231f20" stroke="#231f20" stroke-width="0.25">0.08</text>
<line x1="389.1" y1="628.18" x2="393.4" y2="628.18" stroke="#333333" stroke-width="1"/>
<text x="386" y="631.58" font-size="11" text-anchor="end" fill="#231f20" stroke="#231f20" stroke-width="0.25">0.09</text>
<line x1="389.1" y1="596.6" x2="393.4" y2="596.6" stroke="#333333" stroke-width="1"/>
<text x="386" y="600" font-size="11" text-anchor="end" fill="#231f20" stroke="#231f20" stroke-width="0.25">0.10</text>
<line x1="389.1" y1="565.02" x2="393.4" y2="565.02" stroke="#333333" stroke-width="1"/>
<text x="386" y="568.42" font-size="11" text-anchor="end" fill="#231f20" stroke="#231f20" stroke-width="0.25">0.11</text>
<line x1="391.2" y1="738.71" x2="393.4" y2="738.71" stroke="#333333" stroke-width="1"/>
<line x1="391.2" y1="707.13" x2="393.4" y2="707.13" stroke="#333333" stroke-width="1"/>
<line x1="391.2" y1="675.55" x2="393.4" y2="675.55" stroke="#333333" stroke-width="1"/>
<line x1="391.2" y1="643.97" x2="393.4" y2="643.97" stroke="#333333" stroke-width="1"/>
<line x1="391.2" y1="612.39" x2="393.4" y2="612.39" stroke="#333333" stroke-width="1"/>
<line x1="391.2" y1="580.81" x2="393.4" y2="580.81" stroke="#333333" stroke-width="1"/>
<line x1="644.5" y1="754.5" x2="648.5" y2="754.5" stroke="#333333" stroke-width="1"/>
<text x="651.8" y="757.9" font-size="11" text-anchor="start" fill="#231f20" stroke="#231f20" stroke-width="0.25">0.0</text>
<line x1="644.5" y1="716.5" x2="648.5" y2="716.5" stroke="#333333" stroke-width="1"/>
<text x="651.8" y="719.9" font-size="11" text-anchor="start" fill="#231f20" stroke="#231f20" stroke-width="0.25">0.1</text>
<line x1="644.5" y1="678.5" x2="648.5" y2="678.5" stroke="#333333" stroke-width="1"/>
<text x="651.8" y="681.9" font-size="11" text-anchor="start" fill="#231f20" stroke="#231f20" stroke-width="0.25">0.2</text>
<line x1="644.5" y1="640.5" x2="648.5" y2="640.5" stroke="#333333" stroke-width="1"/>
<text x="651.8" y="643.9" font-size="11" text-anchor="start" fill="#231f20" stroke="#231f20" stroke-width="0.25">0.3</text>
<line x1="644.5" y1="602.5" x2="648.5" y2="602.5" stroke="#333333" stroke-width="1"/>
<text x="651.8" y="605.9" font-size="11" text-anchor="start" fill="#231f20" stroke="#231f20" stroke-width="0.25">0.4</text>
<line x1="644.5" y1="564.5" x2="648.5" y2="564.5" stroke="#333333" stroke-width="1"/>
<text x="651.8" y="567.9" font-size="11" text-anchor="start" fill="#231f20" stroke="#231f20" stroke-width="0.25">0.5</text>
<line x1="646.3" y1="735.5" x2="648.5" y2="735.5" stroke="#333333" stroke-width="1"/>
<line x1="646.3" y1="697.5" x2="648.5" y2="697.5" stroke="#333333" stroke-width="1"/>
<line x1="646.3" y1="659.5" x2="648.5" y2="659.5" stroke="#333333" stroke-width="1"/>
<line x1="646.3" y1="621.5" x2="648.5" y2="621.5" stroke="#333333" stroke-width="1"/>
<line x1="646.3" y1="583.5" x2="648.5" y2="583.5" stroke="#333333" stroke-width="1"/>
<line x1="406.2" y1="754.5" x2="406.2" y2="758.9" stroke="#333333" stroke-width="1"/>
<text x="406.2" y="770.6" font-size="11" text-anchor="middle" fill="#231f20" stroke="#231f20" stroke-width="0.25">-0.6</text>
<line x1="431.7" y1="754.5" x2="431.7" y2="756.7" stroke="#333333" stroke-width="1"/>
<line x1="457.2" y1="754.5" x2="457.2" y2="758.9" stroke="#333333" stroke-width="1"/>
<text x="457.2" y="770.6" font-size="11" text-anchor="middle" fill="#231f20" stroke="#231f20" stroke-width="0.25">-0.8</text>
<line x1="482.7" y1="754.5" x2="482.7" y2="756.7" stroke="#333333" stroke-width="1"/>
<line x1="508.2" y1="754.5" x2="508.2" y2="758.9" stroke="#333333" stroke-width="1"/>
<text x="508.2" y="770.6" font-size="11" text-anchor="middle" fill="#231f20" stroke="#231f20" stroke-width="0.25">-1.0</text>
<line x1="533.7" y1="754.5" x2="533.7" y2="756.7" stroke="#333333" stroke-width="1"/>
<line x1="559.2" y1="754.5" x2="559.2" y2="758.9" stroke="#333333" stroke-width="1"/>
<text x="559.2" y="770.6" font-size="11" text-anchor="middle" fill="#231f20" stroke="#231f20" stroke-width="0.25">-1.2</text>
<line x1="584.7" y1="754.5" x2="584.7" y2="756.7" stroke="#333333" stroke-width="1"/>
<line x1="610.2" y1="754.5" x2="610.2" y2="758.9" stroke="#333333" stroke-width="1"/>
<text x="610.2" y="770.6" font-size="11" text-anchor="middle" fill="#231f20" stroke="#231f20" stroke-width="0.25">-1.4</text>
<line x1="635.7" y1="754.5" x2="635.7" y2="756.7" stroke="#333333" stroke-width="1"/>
<text transform="translate(351.0,653.2) rotate(-90)" font-size="12" text-anchor="middle" fill="#231f20" stroke="#231f20" stroke-width="0.25">τ<tspan font-size="7.5" dy="2.8">1</tspan></text>
<text transform="translate(681.3,652.9) rotate(-90)" font-size="12" text-anchor="middle" fill="#231f20" stroke="#231f20" stroke-width="0.25">τ<tspan font-size="7.5" dy="2.8">2</tspan></text>
<text x="508.4" y="784.3" font-size="12.7" text-anchor="middle" fill="#231f20" stroke="#231f20" stroke-width="0.25">Potentiation voltage</text>
<ellipse cx="457.3" cy="692.2" rx="7.4" ry="22.6" fill="none" stroke="#2a2020" stroke-width="1"/>
<path d="M457 669.6 L423.5 669.6" fill="none" stroke="#2a2020" stroke-width="1" marker-end="url(#ah2)"/>
<ellipse cx="481.9" cy="577.1" rx="7.3" ry="22.8" fill="none" stroke="#2a2020" stroke-width="1"/>
<path d="M482.3 599.9 L517 599.9" fill="none" stroke="#2a2020" stroke-width="1" marker-end="url(#ah2)"/>
<line x1="584.8" y1="703.5" x2="609.9" y2="703.5" stroke="#e0302c" stroke-width="1.4"/>
<rect x="594.3" y="700.4" width="6.2" height="6.2" fill="#fff" stroke="#e0302c" stroke-width="1.2"/>
<line x1="584.8" y1="720.1" x2="609.9" y2="720.1" stroke="#4646aa" stroke-width="1.4"/>
<circle cx="597.1" cy="720.1" r="3.3" fill="#fff" stroke="#4646aa" stroke-width="1.3"/>
<text x="612.9" y="706.4" font-size="11" text-anchor="start" fill="#231f20" stroke="#231f20" stroke-width="0.25">τ<tspan font-size="7" dy="2.6">1</tspan></text>
<text x="612.9" y="723" font-size="11" text-anchor="start" fill="#231f20" stroke="#231f20" stroke-width="0.25">τ<tspan font-size="7" dy="2.6">2</tspan></text>
</svg></body></html>
